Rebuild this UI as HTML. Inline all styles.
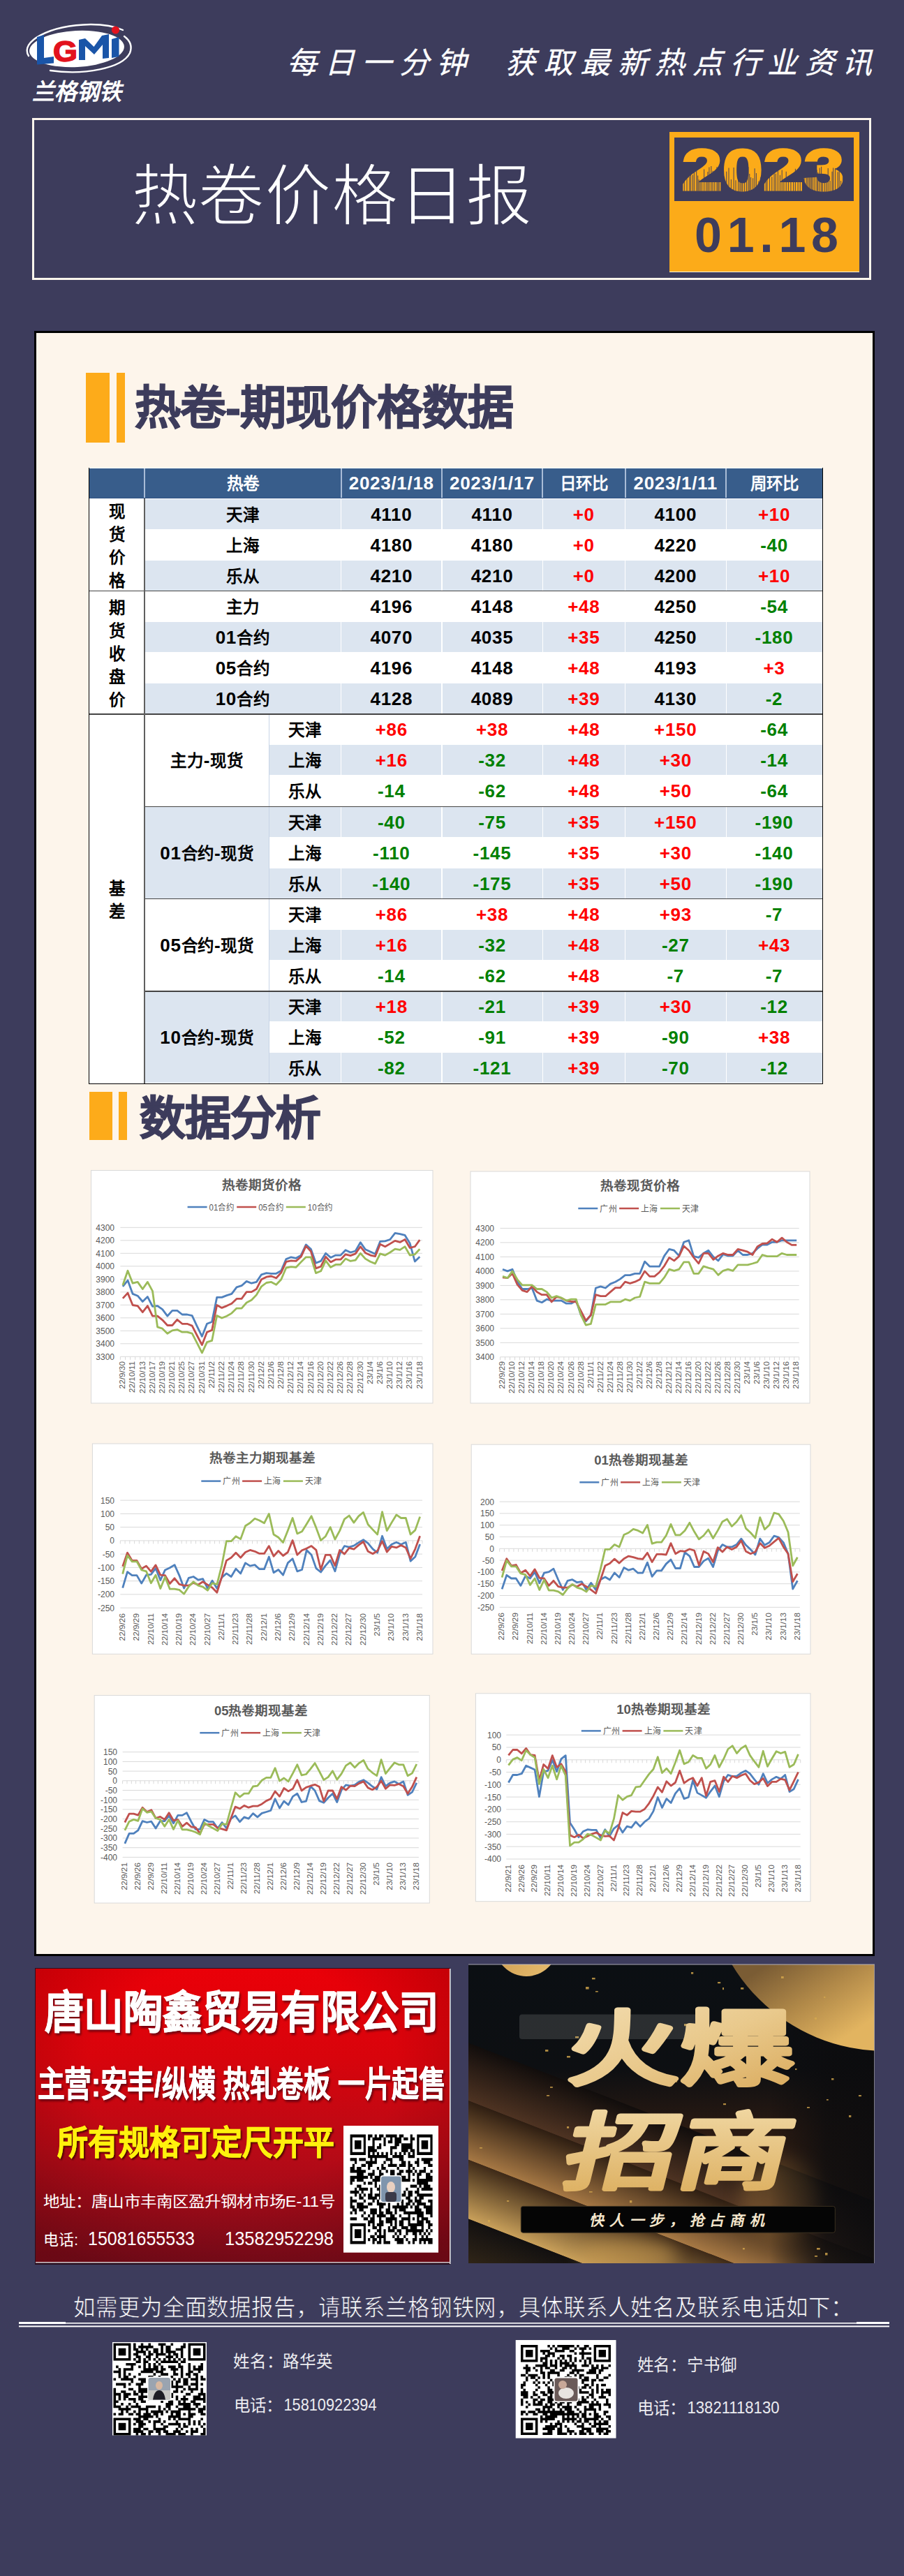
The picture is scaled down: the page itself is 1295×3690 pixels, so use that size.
<!DOCTYPE html>
<html lang="zh-CN"><head><meta charset="utf-8">
<style>
*{margin:0;padding:0;box-sizing:border-box}
html,body{width:1295px;height:3690px;overflow:hidden}
body{background:#3d3c5c;position:relative;font-family:"Liberation Sans",sans-serif;color:#000}
.a{position:absolute}
.serif{font-family:"Liberation Serif",serif}
#titlebox{left:46px;top:169px;width:1202px;height:232px;border:3px solid #fcf5ec}
#title{left:189px;top:218px;font-size:94px;line-height:110px;color:#fff;white-space:nowrap;letter-spacing:0px}
#obox{left:959px;top:189px;width:272px;height:201px;background:#fdaa19;border-bottom:1px solid #fff3dd}
#ibox{left:966px;top:197px;width:257px;height:91px;background:#3d3c5c}
#yr{left:966px;top:197px;width:257px;height:91px;text-align:center;font-weight:bold;font-size:84px;line-height:91px;color:#fdaa19;letter-spacing:2px}
#md{left:959px;top:290px;width:272px;height:96px;text-align:center;font-weight:bold;font-size:70px;line-height:96px;color:#3d3c5c;letter-spacing:8px}
#panel{left:49px;top:474px;width:1204px;height:2328px;background:#fdf5eb;border:3px solid #000}
.bar{background:#fdab1a}
.h{color:#3d3c5c;font-weight:bold;white-space:nowrap;-webkit-text-stroke:1.3px #3d3c5c}
</style></head>
<body>
<!-- logo -->
<svg class="a" style="left:0;top:0" width="1295" height="420" viewBox="0 0 1295 420">
 <defs>
  <pattern id="stripes" patternUnits="userSpaceOnUse" width="23" height="100" x="0" y="0">
   <rect width="23" height="100" fill="#fcab19"/>
   <rect x="1" y="246" width="1" height="40" fill="#3d3c5c"/>
  </pattern>
  <linearGradient id="yrfade" x1="0" y1="0" x2="0" y2="1">
   <stop offset="0" stop-color="#fcab19"/><stop offset="0.45" stop-color="#fcab19"/><stop offset="1" stop-color="#f6b75a"/>
  </linearGradient>
 </defs>
 <!-- LGMI logo -->
 <ellipse cx="110" cy="70" rx="68" ry="26" fill="#fff" transform="rotate(-3 110 70)"/>
 <path d="M41 80 C 28 60, 70 36, 130 35 C 150 35, 165 38, 176 43" fill="none" stroke="#fff" stroke-width="2.4" stroke-linecap="round"/>
 <path d="M72 101 C 120 108, 175 98, 186 76 C 190 66, 186 58, 178 52" fill="none" stroke="#fff" stroke-width="2.4" stroke-linecap="round"/>
 <polygon points="53,53 63,50 63,83 77,81 77,90.5 53,92.5" fill="#1a55a8"/>
 <text x="76" y="87.5" font-family="Liberation Sans" font-weight="bold" font-size="42" fill="#e2121e" stroke="#e2121e" stroke-width="1.5" textLength="35" lengthAdjust="spacingAndGlyphs">G</text>
 <polygon points="113,86 113,57 122,55 134.5,67 146,51 156,49 156,83 147,84 147,64 135,78 122,66 122,86" fill="#1a55a8"/>
 <polygon points="160,56 170.5,53 170.5,81 160,83" fill="#1a55a8"/>
 <circle cx="165.5" cy="43" r="5.6" fill="#e2121e"/>
 <text x="46" y="142.5" font-size="33" fill="#fff" font-weight="bold" textLength="128" lengthAdjust="spacingAndGlyphs" font-style="italic">兰格钢铁</text>
 <!-- title box -->
 <rect x="47.5" y="170.5" width="1199" height="229" fill="none" stroke="#fcf5ec" stroke-width="3"/>
 <text x="187.5" y="313.5" font-size="96" fill="#fff" stroke="#3d3c5c" stroke-width="2.4" paint-order="normal" textLength="575" lengthAdjust="spacingAndGlyphs">热卷价格日报</text>
 <!-- date box -->
 <rect x="959" y="189" width="272" height="201" fill="#fcab19"/>
 <rect x="959" y="389" width="272" height="1" fill="#fff4e0"/>
 <rect x="966" y="197" width="257" height="91" fill="#3d3c5c"/>
 <mask id="yrclip" maskUnits="userSpaceOnUse" x="960" y="190" width="270" height="100"><text x="976.5" y="272" font-family="Liberation Sans" font-weight="bold" font-size="84" fill="#fff" stroke="#fff" stroke-width="3.5" textLength="233" lengthAdjust="spacingAndGlyphs">2023</text></mask>
 <text x="976.5" y="272" font-family="Liberation Sans" font-weight="bold" font-size="84" fill="#fcab19" stroke="#fcab19" stroke-width="3" textLength="233" lengthAdjust="spacingAndGlyphs">2023</text>
 <path mask="url(#yrclip)" d="M977.0 251.7V276M980.3 258.7V276M984.0 238.6V276M987.7 252.3V276M989.5 248.3V276M992.3 250.6V276M994.4 244.1V276M997.7 241.5V276M999.6 251.6V276M1001.2 257.2V276M1003.2 259.6V276M1005.5 259.2V276M1008.6 242.5V276M1011.7 259.3V276M1013.9 245.9V276M1015.9 239.4V276M1018.8 238.1V276M1021.1 244.8V276M1023.8 244.9V276M1026.9 239.3V276M1028.6 254.5V276M1030.2 255.3V276M1033.1 238.2V276M1035.1 259.0V276M1038.4 258.5V276M1040.7 245.8V276M1044.0 240.4V276M1047.4 256.9V276M1051.1 240.0V276M1054.0 258.2V276M1057.6 250.0V276M1059.9 241.9V276M1061.9 253.2V276M1063.8 239.1V276M1066.6 246.9V276M1069.5 256.2V276M1072.0 239.2V276M1073.7 248.9V276M1075.6 254.1V276M1078.6 255.3V276M1081.1 241.3V276M1083.4 248.0V276M1086.9 259.5V276M1089.5 254.0V276M1091.8 246.9V276M1094.2 259.7V276M1097.2 249.0V276M1099.0 244.0V276M1102.5 245.9V276M1105.8 253.3V276M1109.1 246.0V276M1111.3 248.7V276M1114.4 244.5V276M1117.4 250.8V276M1120.2 243.5V276M1122.9 256.0V276M1126.2 245.7V276M1129.4 256.2V276M1132.9 257.1V276M1136.6 259.0V276M1139.4 241.7V276M1143.1 248.5V276M1146.2 254.1V276M1149.6 250.8V276M1152.1 251.7V276M1155.1 253.8V276M1157.0 247.7V276M1159.1 253.1V276M1160.8 248.4V276M1162.5 240.9V276M1164.5 242.3V276M1167.2 246.4V276M1170.1 243.2V276M1171.7 246.9V276M1174.2 240.5V276M1176.6 238.8V276M1178.4 250.0V276M1181.3 259.1V276M1183.8 255.9V276M1186.2 241.1V276M1189.0 259.1V276M1192.0 245.7V276M1193.6 240.4V276M1196.5 241.1V276M1200.1 246.3V276M1202.2 244.4V276M1204.6 259.1V276M1207.5 243.7V276" stroke="#3d3c5c" stroke-width="1.1" opacity="0.85"/>
 <text x="995" y="361" font-family="Liberation Sans" font-weight="bold" font-size="70" fill="#3d3c5c" textLength="206" lengthAdjust="spacing">01.18</text>
</svg>
<div class="a" id="slogan" style="left:411px;top:57px;font-size:43px;line-height:66px;color:#fff;white-space:nowrap;letter-spacing:10.6px;font-style:italic;-webkit-text-stroke:0.3px #fff">每日一分钟&nbsp;&nbsp;获取最新热点行业资讯</div>

<div class="a" id="panel"></div>

<!-- heading 1 -->
<div class="a bar" style="left:123px;top:534px;width:34px;height:100px"></div>
<div class="a bar" style="left:167px;top:534px;width:12px;height:100px"></div>
<div class="a h" style="left:192.5px;top:544px;font-size:66px;line-height:80px;letter-spacing:-0.8px">热卷-期现价格数据</div>

<div class="a" style="left:127.0px;top:670.0px;width:1052.0px;height:1.0px;background:#fff"></div>
<div class="a" style="left:128.0px;top:671.0px;width:1050.0px;height:43.0px;background:#385d8b"></div>
<div class="a" style="left:207.0px;top:671.0px;width:281.6px;height:43.0px;color:#fff;font-weight:bold;font-size:26px;line-height:43px;text-align:center;white-space:nowrap"><span style="font-size:23.5px">热卷</span></div>
<div class="a" style="left:206.0px;top:671.0px;width:2.0px;height:43.0px;background:#a9bcd6"></div>
<div class="a" style="left:488.6px;top:671.0px;width:144.4px;height:43.0px;color:#fff;font-weight:bold;font-size:26px;line-height:43px;text-align:center;white-space:nowrap;letter-spacing:0.7px">2023/1/18</div>
<div class="a" style="left:487.6px;top:671.0px;width:2.0px;height:43.0px;background:#a9bcd6"></div>
<div class="a" style="left:633.0px;top:671.0px;width:144.0px;height:43.0px;color:#fff;font-weight:bold;font-size:26px;line-height:43px;text-align:center;white-space:nowrap;letter-spacing:0.7px">2023/1/17</div>
<div class="a" style="left:632.0px;top:671.0px;width:2.0px;height:43.0px;background:#a9bcd6"></div>
<div class="a" style="left:777.0px;top:671.0px;width:118.5px;height:43.0px;color:#fff;font-weight:bold;font-size:26px;line-height:43px;text-align:center;white-space:nowrap"><span style="font-size:23.5px">日环比</span></div>
<div class="a" style="left:776.0px;top:671.0px;width:2.0px;height:43.0px;background:#a9bcd6"></div>
<div class="a" style="left:895.5px;top:671.0px;width:144.5px;height:43.0px;color:#fff;font-weight:bold;font-size:26px;line-height:43px;text-align:center;white-space:nowrap;letter-spacing:0.7px">2023/1/11</div>
<div class="a" style="left:894.5px;top:671.0px;width:2.0px;height:43.0px;background:#a9bcd6"></div>
<div class="a" style="left:1040.0px;top:671.0px;width:138.0px;height:43.0px;color:#fff;font-weight:bold;font-size:26px;line-height:43px;text-align:center;white-space:nowrap"><span style="font-size:23.5px">周环比</span></div>
<div class="a" style="left:1039.0px;top:671.0px;width:2.0px;height:43.0px;background:#a9bcd6"></div>
<div class="a" style="left:128.0px;top:713.0px;width:1050.0px;height:1.0px;background:#2f5283"></div>
<div class="a" style="left:128.0px;top:714.0px;width:1050.0px;height:838.0px;background:#fff"></div>
<div class="a" style="left:207.0px;top:714.5px;width:281.1px;height:43.1px;background:#dce5f0;color:#000;font-weight:bold;font-size:26px;text-align:center;white-space:nowrap;line-height:44.1px;letter-spacing:0.7px"><span style="font-size:23.5px">天津</span></div>
<div class="a" style="left:489.1px;top:714.5px;width:143.4px;height:43.1px;background:#dce5f0;color:#000;font-weight:bold;font-size:26px;text-align:center;white-space:nowrap;line-height:44.1px;letter-spacing:0.7px">4110</div>
<div class="a" style="left:633.5px;top:714.5px;width:143.0px;height:43.1px;background:#dce5f0;color:#000;font-weight:bold;font-size:26px;text-align:center;white-space:nowrap;line-height:44.1px;letter-spacing:0.7px">4110</div>
<div class="a" style="left:777.5px;top:714.5px;width:117.5px;height:43.1px;background:#dce5f0;color:#ff0000;font-weight:bold;font-size:26px;text-align:center;white-space:nowrap;line-height:44.1px;letter-spacing:0.7px">+0</div>
<div class="a" style="left:896.0px;top:714.5px;width:143.5px;height:43.1px;background:#dce5f0;color:#000;font-weight:bold;font-size:26px;text-align:center;white-space:nowrap;line-height:44.1px;letter-spacing:0.7px">4100</div>
<div class="a" style="left:1040.5px;top:714.5px;width:137.0px;height:43.1px;background:#dce5f0;color:#ff0000;font-weight:bold;font-size:26px;text-align:center;white-space:nowrap;line-height:44.1px;letter-spacing:0.7px">+10</div>
<div class="a" style="left:207.0px;top:758.6px;width:281.1px;height:43.1px;background:#fff;color:#000;font-weight:bold;font-size:26px;text-align:center;white-space:nowrap;line-height:44.1px;letter-spacing:0.7px"><span style="font-size:23.5px">上海</span></div>
<div class="a" style="left:489.1px;top:758.6px;width:143.4px;height:43.1px;background:#fff;color:#000;font-weight:bold;font-size:26px;text-align:center;white-space:nowrap;line-height:44.1px;letter-spacing:0.7px">4180</div>
<div class="a" style="left:633.5px;top:758.6px;width:143.0px;height:43.1px;background:#fff;color:#000;font-weight:bold;font-size:26px;text-align:center;white-space:nowrap;line-height:44.1px;letter-spacing:0.7px">4180</div>
<div class="a" style="left:777.5px;top:758.6px;width:117.5px;height:43.1px;background:#fff;color:#ff0000;font-weight:bold;font-size:26px;text-align:center;white-space:nowrap;line-height:44.1px;letter-spacing:0.7px">+0</div>
<div class="a" style="left:896.0px;top:758.6px;width:143.5px;height:43.1px;background:#fff;color:#000;font-weight:bold;font-size:26px;text-align:center;white-space:nowrap;line-height:44.1px;letter-spacing:0.7px">4220</div>
<div class="a" style="left:1040.5px;top:758.6px;width:137.0px;height:43.1px;background:#fff;color:#008000;font-weight:bold;font-size:26px;text-align:center;white-space:nowrap;line-height:44.1px;letter-spacing:0.7px">-40</div>
<div class="a" style="left:207.0px;top:802.7px;width:281.1px;height:43.1px;background:#dce5f0;color:#000;font-weight:bold;font-size:26px;text-align:center;white-space:nowrap;line-height:44.1px;letter-spacing:0.7px"><span style="font-size:23.5px">乐从</span></div>
<div class="a" style="left:489.1px;top:802.7px;width:143.4px;height:43.1px;background:#dce5f0;color:#000;font-weight:bold;font-size:26px;text-align:center;white-space:nowrap;line-height:44.1px;letter-spacing:0.7px">4210</div>
<div class="a" style="left:633.5px;top:802.7px;width:143.0px;height:43.1px;background:#dce5f0;color:#000;font-weight:bold;font-size:26px;text-align:center;white-space:nowrap;line-height:44.1px;letter-spacing:0.7px">4210</div>
<div class="a" style="left:777.5px;top:802.7px;width:117.5px;height:43.1px;background:#dce5f0;color:#ff0000;font-weight:bold;font-size:26px;text-align:center;white-space:nowrap;line-height:44.1px;letter-spacing:0.7px">+0</div>
<div class="a" style="left:896.0px;top:802.7px;width:143.5px;height:43.1px;background:#dce5f0;color:#000;font-weight:bold;font-size:26px;text-align:center;white-space:nowrap;line-height:44.1px;letter-spacing:0.7px">4200</div>
<div class="a" style="left:1040.5px;top:802.7px;width:137.0px;height:43.1px;background:#dce5f0;color:#ff0000;font-weight:bold;font-size:26px;text-align:center;white-space:nowrap;line-height:44.1px;letter-spacing:0.7px">+10</div>
<div class="a" style="left:207.0px;top:846.8px;width:281.1px;height:43.1px;background:#fff;color:#000;font-weight:bold;font-size:26px;text-align:center;white-space:nowrap;line-height:44.1px;letter-spacing:0.7px"><span style="font-size:23.5px">主力</span></div>
<div class="a" style="left:489.1px;top:846.8px;width:143.4px;height:43.1px;background:#fff;color:#000;font-weight:bold;font-size:26px;text-align:center;white-space:nowrap;line-height:44.1px;letter-spacing:0.7px">4196</div>
<div class="a" style="left:633.5px;top:846.8px;width:143.0px;height:43.1px;background:#fff;color:#000;font-weight:bold;font-size:26px;text-align:center;white-space:nowrap;line-height:44.1px;letter-spacing:0.7px">4148</div>
<div class="a" style="left:777.5px;top:846.8px;width:117.5px;height:43.1px;background:#fff;color:#ff0000;font-weight:bold;font-size:26px;text-align:center;white-space:nowrap;line-height:44.1px;letter-spacing:0.7px">+48</div>
<div class="a" style="left:896.0px;top:846.8px;width:143.5px;height:43.1px;background:#fff;color:#000;font-weight:bold;font-size:26px;text-align:center;white-space:nowrap;line-height:44.1px;letter-spacing:0.7px">4250</div>
<div class="a" style="left:1040.5px;top:846.8px;width:137.0px;height:43.1px;background:#fff;color:#008000;font-weight:bold;font-size:26px;text-align:center;white-space:nowrap;line-height:44.1px;letter-spacing:0.7px">-54</div>
<div class="a" style="left:207.0px;top:890.9px;width:281.1px;height:43.1px;background:#dce5f0;color:#000;font-weight:bold;font-size:26px;text-align:center;white-space:nowrap;line-height:44.1px;letter-spacing:0.7px">01<span style="font-size:23.5px">合约</span></div>
<div class="a" style="left:489.1px;top:890.9px;width:143.4px;height:43.1px;background:#dce5f0;color:#000;font-weight:bold;font-size:26px;text-align:center;white-space:nowrap;line-height:44.1px;letter-spacing:0.7px">4070</div>
<div class="a" style="left:633.5px;top:890.9px;width:143.0px;height:43.1px;background:#dce5f0;color:#000;font-weight:bold;font-size:26px;text-align:center;white-space:nowrap;line-height:44.1px;letter-spacing:0.7px">4035</div>
<div class="a" style="left:777.5px;top:890.9px;width:117.5px;height:43.1px;background:#dce5f0;color:#ff0000;font-weight:bold;font-size:26px;text-align:center;white-space:nowrap;line-height:44.1px;letter-spacing:0.7px">+35</div>
<div class="a" style="left:896.0px;top:890.9px;width:143.5px;height:43.1px;background:#dce5f0;color:#000;font-weight:bold;font-size:26px;text-align:center;white-space:nowrap;line-height:44.1px;letter-spacing:0.7px">4250</div>
<div class="a" style="left:1040.5px;top:890.9px;width:137.0px;height:43.1px;background:#dce5f0;color:#008000;font-weight:bold;font-size:26px;text-align:center;white-space:nowrap;line-height:44.1px;letter-spacing:0.7px">-180</div>
<div class="a" style="left:207.0px;top:935.0px;width:281.1px;height:43.1px;background:#fff;color:#000;font-weight:bold;font-size:26px;text-align:center;white-space:nowrap;line-height:44.1px;letter-spacing:0.7px">05<span style="font-size:23.5px">合约</span></div>
<div class="a" style="left:489.1px;top:935.0px;width:143.4px;height:43.1px;background:#fff;color:#000;font-weight:bold;font-size:26px;text-align:center;white-space:nowrap;line-height:44.1px;letter-spacing:0.7px">4196</div>
<div class="a" style="left:633.5px;top:935.0px;width:143.0px;height:43.1px;background:#fff;color:#000;font-weight:bold;font-size:26px;text-align:center;white-space:nowrap;line-height:44.1px;letter-spacing:0.7px">4148</div>
<div class="a" style="left:777.5px;top:935.0px;width:117.5px;height:43.1px;background:#fff;color:#ff0000;font-weight:bold;font-size:26px;text-align:center;white-space:nowrap;line-height:44.1px;letter-spacing:0.7px">+48</div>
<div class="a" style="left:896.0px;top:935.0px;width:143.5px;height:43.1px;background:#fff;color:#000;font-weight:bold;font-size:26px;text-align:center;white-space:nowrap;line-height:44.1px;letter-spacing:0.7px">4193</div>
<div class="a" style="left:1040.5px;top:935.0px;width:137.0px;height:43.1px;background:#fff;color:#ff0000;font-weight:bold;font-size:26px;text-align:center;white-space:nowrap;line-height:44.1px;letter-spacing:0.7px">+3</div>
<div class="a" style="left:207.0px;top:979.1px;width:281.1px;height:43.1px;background:#dce5f0;color:#000;font-weight:bold;font-size:26px;text-align:center;white-space:nowrap;line-height:44.1px;letter-spacing:0.7px">10<span style="font-size:23.5px">合约</span></div>
<div class="a" style="left:489.1px;top:979.1px;width:143.4px;height:43.1px;background:#dce5f0;color:#000;font-weight:bold;font-size:26px;text-align:center;white-space:nowrap;line-height:44.1px;letter-spacing:0.7px">4128</div>
<div class="a" style="left:633.5px;top:979.1px;width:143.0px;height:43.1px;background:#dce5f0;color:#000;font-weight:bold;font-size:26px;text-align:center;white-space:nowrap;line-height:44.1px;letter-spacing:0.7px">4089</div>
<div class="a" style="left:777.5px;top:979.1px;width:117.5px;height:43.1px;background:#dce5f0;color:#ff0000;font-weight:bold;font-size:26px;text-align:center;white-space:nowrap;line-height:44.1px;letter-spacing:0.7px">+39</div>
<div class="a" style="left:896.0px;top:979.1px;width:143.5px;height:43.1px;background:#dce5f0;color:#000;font-weight:bold;font-size:26px;text-align:center;white-space:nowrap;line-height:44.1px;letter-spacing:0.7px">4130</div>
<div class="a" style="left:1040.5px;top:979.1px;width:137.0px;height:43.1px;background:#dce5f0;color:#008000;font-weight:bold;font-size:26px;text-align:center;white-space:nowrap;line-height:44.1px;letter-spacing:0.7px">-2</div>
<div class="a" style="left:386.0px;top:1023.2px;width:102.1px;height:43.1px;background:#fff;color:#000;font-weight:bold;font-size:26px;text-align:center;white-space:nowrap;line-height:44.1px;letter-spacing:0.7px"><span style="font-size:23.5px">天津</span></div>
<div class="a" style="left:489.1px;top:1023.2px;width:143.4px;height:43.1px;background:#fff;color:#ff0000;font-weight:bold;font-size:26px;text-align:center;white-space:nowrap;line-height:44.1px;letter-spacing:0.7px">+86</div>
<div class="a" style="left:633.5px;top:1023.2px;width:143.0px;height:43.1px;background:#fff;color:#ff0000;font-weight:bold;font-size:26px;text-align:center;white-space:nowrap;line-height:44.1px;letter-spacing:0.7px">+38</div>
<div class="a" style="left:777.5px;top:1023.2px;width:117.5px;height:43.1px;background:#fff;color:#ff0000;font-weight:bold;font-size:26px;text-align:center;white-space:nowrap;line-height:44.1px;letter-spacing:0.7px">+48</div>
<div class="a" style="left:896.0px;top:1023.2px;width:143.5px;height:43.1px;background:#fff;color:#ff0000;font-weight:bold;font-size:26px;text-align:center;white-space:nowrap;line-height:44.1px;letter-spacing:0.7px">+150</div>
<div class="a" style="left:1040.5px;top:1023.2px;width:137.0px;height:43.1px;background:#fff;color:#008000;font-weight:bold;font-size:26px;text-align:center;white-space:nowrap;line-height:44.1px;letter-spacing:0.7px">-64</div>
<div class="a" style="left:386.0px;top:1067.3px;width:102.1px;height:43.1px;background:#dce5f0;color:#000;font-weight:bold;font-size:26px;text-align:center;white-space:nowrap;line-height:44.1px;letter-spacing:0.7px"><span style="font-size:23.5px">上海</span></div>
<div class="a" style="left:489.1px;top:1067.3px;width:143.4px;height:43.1px;background:#dce5f0;color:#ff0000;font-weight:bold;font-size:26px;text-align:center;white-space:nowrap;line-height:44.1px;letter-spacing:0.7px">+16</div>
<div class="a" style="left:633.5px;top:1067.3px;width:143.0px;height:43.1px;background:#dce5f0;color:#008000;font-weight:bold;font-size:26px;text-align:center;white-space:nowrap;line-height:44.1px;letter-spacing:0.7px">-32</div>
<div class="a" style="left:777.5px;top:1067.3px;width:117.5px;height:43.1px;background:#dce5f0;color:#ff0000;font-weight:bold;font-size:26px;text-align:center;white-space:nowrap;line-height:44.1px;letter-spacing:0.7px">+48</div>
<div class="a" style="left:896.0px;top:1067.3px;width:143.5px;height:43.1px;background:#dce5f0;color:#ff0000;font-weight:bold;font-size:26px;text-align:center;white-space:nowrap;line-height:44.1px;letter-spacing:0.7px">+30</div>
<div class="a" style="left:1040.5px;top:1067.3px;width:137.0px;height:43.1px;background:#dce5f0;color:#008000;font-weight:bold;font-size:26px;text-align:center;white-space:nowrap;line-height:44.1px;letter-spacing:0.7px">-14</div>
<div class="a" style="left:386.0px;top:1111.4px;width:102.1px;height:43.1px;background:#fff;color:#000;font-weight:bold;font-size:26px;text-align:center;white-space:nowrap;line-height:44.1px;letter-spacing:0.7px"><span style="font-size:23.5px">乐从</span></div>
<div class="a" style="left:489.1px;top:1111.4px;width:143.4px;height:43.1px;background:#fff;color:#008000;font-weight:bold;font-size:26px;text-align:center;white-space:nowrap;line-height:44.1px;letter-spacing:0.7px">-14</div>
<div class="a" style="left:633.5px;top:1111.4px;width:143.0px;height:43.1px;background:#fff;color:#008000;font-weight:bold;font-size:26px;text-align:center;white-space:nowrap;line-height:44.1px;letter-spacing:0.7px">-62</div>
<div class="a" style="left:777.5px;top:1111.4px;width:117.5px;height:43.1px;background:#fff;color:#ff0000;font-weight:bold;font-size:26px;text-align:center;white-space:nowrap;line-height:44.1px;letter-spacing:0.7px">+48</div>
<div class="a" style="left:896.0px;top:1111.4px;width:143.5px;height:43.1px;background:#fff;color:#ff0000;font-weight:bold;font-size:26px;text-align:center;white-space:nowrap;line-height:44.1px;letter-spacing:0.7px">+50</div>
<div class="a" style="left:1040.5px;top:1111.4px;width:137.0px;height:43.1px;background:#fff;color:#008000;font-weight:bold;font-size:26px;text-align:center;white-space:nowrap;line-height:44.1px;letter-spacing:0.7px">-64</div>
<div class="a" style="left:207.5px;top:1023.2px;width:178.0px;height:131.3px;background:#fff;color:#000;font-weight:bold;font-size:26px;text-align:center;white-space:nowrap;line-height:132.3px;letter-spacing:0.7px"><span style="font-size:23.5px">主力</span>-<span style="font-size:23.5px">现货</span></div>
<div class="a" style="left:385.0px;top:1022.7px;width:1.0px;height:132.3px;background:#c8d4e6"></div>
<div class="a" style="left:386.0px;top:1155.5px;width:102.1px;height:43.1px;background:#dce5f0;color:#000;font-weight:bold;font-size:26px;text-align:center;white-space:nowrap;line-height:44.1px;letter-spacing:0.7px"><span style="font-size:23.5px">天津</span></div>
<div class="a" style="left:489.1px;top:1155.5px;width:143.4px;height:43.1px;background:#dce5f0;color:#008000;font-weight:bold;font-size:26px;text-align:center;white-space:nowrap;line-height:44.1px;letter-spacing:0.7px">-40</div>
<div class="a" style="left:633.5px;top:1155.5px;width:143.0px;height:43.1px;background:#dce5f0;color:#008000;font-weight:bold;font-size:26px;text-align:center;white-space:nowrap;line-height:44.1px;letter-spacing:0.7px">-75</div>
<div class="a" style="left:777.5px;top:1155.5px;width:117.5px;height:43.1px;background:#dce5f0;color:#ff0000;font-weight:bold;font-size:26px;text-align:center;white-space:nowrap;line-height:44.1px;letter-spacing:0.7px">+35</div>
<div class="a" style="left:896.0px;top:1155.5px;width:143.5px;height:43.1px;background:#dce5f0;color:#ff0000;font-weight:bold;font-size:26px;text-align:center;white-space:nowrap;line-height:44.1px;letter-spacing:0.7px">+150</div>
<div class="a" style="left:1040.5px;top:1155.5px;width:137.0px;height:43.1px;background:#dce5f0;color:#008000;font-weight:bold;font-size:26px;text-align:center;white-space:nowrap;line-height:44.1px;letter-spacing:0.7px">-190</div>
<div class="a" style="left:386.0px;top:1199.6px;width:102.1px;height:43.1px;background:#fff;color:#000;font-weight:bold;font-size:26px;text-align:center;white-space:nowrap;line-height:44.1px;letter-spacing:0.7px"><span style="font-size:23.5px">上海</span></div>
<div class="a" style="left:489.1px;top:1199.6px;width:143.4px;height:43.1px;background:#fff;color:#008000;font-weight:bold;font-size:26px;text-align:center;white-space:nowrap;line-height:44.1px;letter-spacing:0.7px">-110</div>
<div class="a" style="left:633.5px;top:1199.6px;width:143.0px;height:43.1px;background:#fff;color:#008000;font-weight:bold;font-size:26px;text-align:center;white-space:nowrap;line-height:44.1px;letter-spacing:0.7px">-145</div>
<div class="a" style="left:777.5px;top:1199.6px;width:117.5px;height:43.1px;background:#fff;color:#ff0000;font-weight:bold;font-size:26px;text-align:center;white-space:nowrap;line-height:44.1px;letter-spacing:0.7px">+35</div>
<div class="a" style="left:896.0px;top:1199.6px;width:143.5px;height:43.1px;background:#fff;color:#ff0000;font-weight:bold;font-size:26px;text-align:center;white-space:nowrap;line-height:44.1px;letter-spacing:0.7px">+30</div>
<div class="a" style="left:1040.5px;top:1199.6px;width:137.0px;height:43.1px;background:#fff;color:#008000;font-weight:bold;font-size:26px;text-align:center;white-space:nowrap;line-height:44.1px;letter-spacing:0.7px">-140</div>
<div class="a" style="left:386.0px;top:1243.7px;width:102.1px;height:43.1px;background:#dce5f0;color:#000;font-weight:bold;font-size:26px;text-align:center;white-space:nowrap;line-height:44.1px;letter-spacing:0.7px"><span style="font-size:23.5px">乐从</span></div>
<div class="a" style="left:489.1px;top:1243.7px;width:143.4px;height:43.1px;background:#dce5f0;color:#008000;font-weight:bold;font-size:26px;text-align:center;white-space:nowrap;line-height:44.1px;letter-spacing:0.7px">-140</div>
<div class="a" style="left:633.5px;top:1243.7px;width:143.0px;height:43.1px;background:#dce5f0;color:#008000;font-weight:bold;font-size:26px;text-align:center;white-space:nowrap;line-height:44.1px;letter-spacing:0.7px">-175</div>
<div class="a" style="left:777.5px;top:1243.7px;width:117.5px;height:43.1px;background:#dce5f0;color:#ff0000;font-weight:bold;font-size:26px;text-align:center;white-space:nowrap;line-height:44.1px;letter-spacing:0.7px">+35</div>
<div class="a" style="left:896.0px;top:1243.7px;width:143.5px;height:43.1px;background:#dce5f0;color:#ff0000;font-weight:bold;font-size:26px;text-align:center;white-space:nowrap;line-height:44.1px;letter-spacing:0.7px">+50</div>
<div class="a" style="left:1040.5px;top:1243.7px;width:137.0px;height:43.1px;background:#dce5f0;color:#008000;font-weight:bold;font-size:26px;text-align:center;white-space:nowrap;line-height:44.1px;letter-spacing:0.7px">-190</div>
<div class="a" style="left:207.5px;top:1155.5px;width:178.0px;height:131.3px;background:#dce5f0;color:#000;font-weight:bold;font-size:26px;text-align:center;white-space:nowrap;line-height:132.3px;letter-spacing:0.7px">01<span style="font-size:23.5px">合约</span>-<span style="font-size:23.5px">现货</span></div>
<div class="a" style="left:385.0px;top:1155.0px;width:1.0px;height:132.3px;background:#c8d4e6"></div>
<div class="a" style="left:386.0px;top:1287.8px;width:102.1px;height:43.1px;background:#fff;color:#000;font-weight:bold;font-size:26px;text-align:center;white-space:nowrap;line-height:44.1px;letter-spacing:0.7px"><span style="font-size:23.5px">天津</span></div>
<div class="a" style="left:489.1px;top:1287.8px;width:143.4px;height:43.1px;background:#fff;color:#ff0000;font-weight:bold;font-size:26px;text-align:center;white-space:nowrap;line-height:44.1px;letter-spacing:0.7px">+86</div>
<div class="a" style="left:633.5px;top:1287.8px;width:143.0px;height:43.1px;background:#fff;color:#ff0000;font-weight:bold;font-size:26px;text-align:center;white-space:nowrap;line-height:44.1px;letter-spacing:0.7px">+38</div>
<div class="a" style="left:777.5px;top:1287.8px;width:117.5px;height:43.1px;background:#fff;color:#ff0000;font-weight:bold;font-size:26px;text-align:center;white-space:nowrap;line-height:44.1px;letter-spacing:0.7px">+48</div>
<div class="a" style="left:896.0px;top:1287.8px;width:143.5px;height:43.1px;background:#fff;color:#ff0000;font-weight:bold;font-size:26px;text-align:center;white-space:nowrap;line-height:44.1px;letter-spacing:0.7px">+93</div>
<div class="a" style="left:1040.5px;top:1287.8px;width:137.0px;height:43.1px;background:#fff;color:#008000;font-weight:bold;font-size:26px;text-align:center;white-space:nowrap;line-height:44.1px;letter-spacing:0.7px">-7</div>
<div class="a" style="left:386.0px;top:1331.9px;width:102.1px;height:43.1px;background:#dce5f0;color:#000;font-weight:bold;font-size:26px;text-align:center;white-space:nowrap;line-height:44.1px;letter-spacing:0.7px"><span style="font-size:23.5px">上海</span></div>
<div class="a" style="left:489.1px;top:1331.9px;width:143.4px;height:43.1px;background:#dce5f0;color:#ff0000;font-weight:bold;font-size:26px;text-align:center;white-space:nowrap;line-height:44.1px;letter-spacing:0.7px">+16</div>
<div class="a" style="left:633.5px;top:1331.9px;width:143.0px;height:43.1px;background:#dce5f0;color:#008000;font-weight:bold;font-size:26px;text-align:center;white-space:nowrap;line-height:44.1px;letter-spacing:0.7px">-32</div>
<div class="a" style="left:777.5px;top:1331.9px;width:117.5px;height:43.1px;background:#dce5f0;color:#ff0000;font-weight:bold;font-size:26px;text-align:center;white-space:nowrap;line-height:44.1px;letter-spacing:0.7px">+48</div>
<div class="a" style="left:896.0px;top:1331.9px;width:143.5px;height:43.1px;background:#dce5f0;color:#008000;font-weight:bold;font-size:26px;text-align:center;white-space:nowrap;line-height:44.1px;letter-spacing:0.7px">-27</div>
<div class="a" style="left:1040.5px;top:1331.9px;width:137.0px;height:43.1px;background:#dce5f0;color:#ff0000;font-weight:bold;font-size:26px;text-align:center;white-space:nowrap;line-height:44.1px;letter-spacing:0.7px">+43</div>
<div class="a" style="left:386.0px;top:1376.0px;width:102.1px;height:43.1px;background:#fff;color:#000;font-weight:bold;font-size:26px;text-align:center;white-space:nowrap;line-height:44.1px;letter-spacing:0.7px"><span style="font-size:23.5px">乐从</span></div>
<div class="a" style="left:489.1px;top:1376.0px;width:143.4px;height:43.1px;background:#fff;color:#008000;font-weight:bold;font-size:26px;text-align:center;white-space:nowrap;line-height:44.1px;letter-spacing:0.7px">-14</div>
<div class="a" style="left:633.5px;top:1376.0px;width:143.0px;height:43.1px;background:#fff;color:#008000;font-weight:bold;font-size:26px;text-align:center;white-space:nowrap;line-height:44.1px;letter-spacing:0.7px">-62</div>
<div class="a" style="left:777.5px;top:1376.0px;width:117.5px;height:43.1px;background:#fff;color:#ff0000;font-weight:bold;font-size:26px;text-align:center;white-space:nowrap;line-height:44.1px;letter-spacing:0.7px">+48</div>
<div class="a" style="left:896.0px;top:1376.0px;width:143.5px;height:43.1px;background:#fff;color:#008000;font-weight:bold;font-size:26px;text-align:center;white-space:nowrap;line-height:44.1px;letter-spacing:0.7px">-7</div>
<div class="a" style="left:1040.5px;top:1376.0px;width:137.0px;height:43.1px;background:#fff;color:#008000;font-weight:bold;font-size:26px;text-align:center;white-space:nowrap;line-height:44.1px;letter-spacing:0.7px">-7</div>
<div class="a" style="left:207.5px;top:1287.8px;width:178.0px;height:131.3px;background:#fff;color:#000;font-weight:bold;font-size:26px;text-align:center;white-space:nowrap;line-height:132.3px;letter-spacing:0.7px">05<span style="font-size:23.5px">合约</span>-<span style="font-size:23.5px">现货</span></div>
<div class="a" style="left:385.0px;top:1287.3px;width:1.0px;height:132.3px;background:#c8d4e6"></div>
<div class="a" style="left:386.0px;top:1420.1px;width:102.1px;height:43.1px;background:#dce5f0;color:#000;font-weight:bold;font-size:26px;text-align:center;white-space:nowrap;line-height:44.1px;letter-spacing:0.7px"><span style="font-size:23.5px">天津</span></div>
<div class="a" style="left:489.1px;top:1420.1px;width:143.4px;height:43.1px;background:#dce5f0;color:#ff0000;font-weight:bold;font-size:26px;text-align:center;white-space:nowrap;line-height:44.1px;letter-spacing:0.7px">+18</div>
<div class="a" style="left:633.5px;top:1420.1px;width:143.0px;height:43.1px;background:#dce5f0;color:#008000;font-weight:bold;font-size:26px;text-align:center;white-space:nowrap;line-height:44.1px;letter-spacing:0.7px">-21</div>
<div class="a" style="left:777.5px;top:1420.1px;width:117.5px;height:43.1px;background:#dce5f0;color:#ff0000;font-weight:bold;font-size:26px;text-align:center;white-space:nowrap;line-height:44.1px;letter-spacing:0.7px">+39</div>
<div class="a" style="left:896.0px;top:1420.1px;width:143.5px;height:43.1px;background:#dce5f0;color:#ff0000;font-weight:bold;font-size:26px;text-align:center;white-space:nowrap;line-height:44.1px;letter-spacing:0.7px">+30</div>
<div class="a" style="left:1040.5px;top:1420.1px;width:137.0px;height:43.1px;background:#dce5f0;color:#008000;font-weight:bold;font-size:26px;text-align:center;white-space:nowrap;line-height:44.1px;letter-spacing:0.7px">-12</div>
<div class="a" style="left:386.0px;top:1464.2px;width:102.1px;height:43.1px;background:#fff;color:#000;font-weight:bold;font-size:26px;text-align:center;white-space:nowrap;line-height:44.1px;letter-spacing:0.7px"><span style="font-size:23.5px">上海</span></div>
<div class="a" style="left:489.1px;top:1464.2px;width:143.4px;height:43.1px;background:#fff;color:#008000;font-weight:bold;font-size:26px;text-align:center;white-space:nowrap;line-height:44.1px;letter-spacing:0.7px">-52</div>
<div class="a" style="left:633.5px;top:1464.2px;width:143.0px;height:43.1px;background:#fff;color:#008000;font-weight:bold;font-size:26px;text-align:center;white-space:nowrap;line-height:44.1px;letter-spacing:0.7px">-91</div>
<div class="a" style="left:777.5px;top:1464.2px;width:117.5px;height:43.1px;background:#fff;color:#ff0000;font-weight:bold;font-size:26px;text-align:center;white-space:nowrap;line-height:44.1px;letter-spacing:0.7px">+39</div>
<div class="a" style="left:896.0px;top:1464.2px;width:143.5px;height:43.1px;background:#fff;color:#008000;font-weight:bold;font-size:26px;text-align:center;white-space:nowrap;line-height:44.1px;letter-spacing:0.7px">-90</div>
<div class="a" style="left:1040.5px;top:1464.2px;width:137.0px;height:43.1px;background:#fff;color:#ff0000;font-weight:bold;font-size:26px;text-align:center;white-space:nowrap;line-height:44.1px;letter-spacing:0.7px">+38</div>
<div class="a" style="left:386.0px;top:1508.3px;width:102.1px;height:43.1px;background:#dce5f0;color:#000;font-weight:bold;font-size:26px;text-align:center;white-space:nowrap;line-height:44.1px;letter-spacing:0.7px"><span style="font-size:23.5px">乐从</span></div>
<div class="a" style="left:489.1px;top:1508.3px;width:143.4px;height:43.1px;background:#dce5f0;color:#008000;font-weight:bold;font-size:26px;text-align:center;white-space:nowrap;line-height:44.1px;letter-spacing:0.7px">-82</div>
<div class="a" style="left:633.5px;top:1508.3px;width:143.0px;height:43.1px;background:#dce5f0;color:#008000;font-weight:bold;font-size:26px;text-align:center;white-space:nowrap;line-height:44.1px;letter-spacing:0.7px">-121</div>
<div class="a" style="left:777.5px;top:1508.3px;width:117.5px;height:43.1px;background:#dce5f0;color:#ff0000;font-weight:bold;font-size:26px;text-align:center;white-space:nowrap;line-height:44.1px;letter-spacing:0.7px">+39</div>
<div class="a" style="left:896.0px;top:1508.3px;width:143.5px;height:43.1px;background:#dce5f0;color:#008000;font-weight:bold;font-size:26px;text-align:center;white-space:nowrap;line-height:44.1px;letter-spacing:0.7px">-70</div>
<div class="a" style="left:1040.5px;top:1508.3px;width:137.0px;height:43.1px;background:#dce5f0;color:#008000;font-weight:bold;font-size:26px;text-align:center;white-space:nowrap;line-height:44.1px;letter-spacing:0.7px">-12</div>
<div class="a" style="left:207.5px;top:1420.1px;width:178.0px;height:131.3px;background:#dce5f0;color:#000;font-weight:bold;font-size:26px;text-align:center;white-space:nowrap;line-height:132.3px;letter-spacing:0.7px">10<span style="font-size:23.5px">合约</span>-<span style="font-size:23.5px">现货</span></div>
<div class="a" style="left:385.0px;top:1419.6px;width:1.0px;height:132.3px;background:#c8d4e6"></div>
<div class="a" style="left:127.0px;top:717.1px;width:80.0px;height:132.0px;color:#000;font-weight:bold;font-size:23.5px;line-height:33px;text-align:center">现<br>货<br>价<br>格</div>
<div class="a" style="left:127.0px;top:855.0px;width:80.0px;height:165.0px;color:#000;font-weight:bold;font-size:23.5px;line-height:33px;text-align:center">期<br>货<br>收<br>盘<br>价</div>
<div class="a" style="left:127.0px;top:1257.3px;width:80.0px;height:66.0px;color:#000;font-weight:bold;font-size:23.5px;line-height:33px;text-align:center">基<br>差</div>
<div class="a" style="left:127.0px;top:845.8px;width:1052.0px;height:1.5px;background:#444"></div>
<div class="a" style="left:127.0px;top:1022.2px;width:1052.0px;height:1.5px;background:#444"></div>
<div class="a" style="left:207.0px;top:1154.5px;width:972.0px;height:1.5px;background:#444"></div>
<div class="a" style="left:207.0px;top:1286.8px;width:972.0px;height:1.5px;background:#444"></div>
<div class="a" style="left:207.0px;top:1419.1px;width:972.0px;height:1.5px;background:#444"></div>
<div class="a" style="left:206.0px;top:714.0px;width:1.5px;height:838.0px;background:#5f5f5f"></div>
<div class="a" style="left:127.0px;top:670.0px;width:1.0px;height:883.0px;background:#000"></div>
<div class="a" style="left:1178.0px;top:670.0px;width:1.0px;height:883.0px;background:#000"></div>
<div class="a" style="left:127.0px;top:1552.0px;width:1052.0px;height:1.0px;background:#000"></div>

<!-- heading 2 -->
<div class="a bar" style="left:128px;top:1564px;width:33px;height:69px"></div>
<div class="a bar" style="left:170px;top:1564px;width:12px;height:69px"></div>
<div class="a h" style="left:200px;top:1561.5px;font-size:66px;line-height:80px;letter-spacing:-1.2px">数据分析</div>

<svg class="a" style="left:0;top:0" width="1295" height="3690" viewBox="0 0 1295 3690" font-family="Liberation Sans, sans-serif">
<rect x="130.5" y="1676.5" width="489.5" height="333.5" fill="#fff" stroke="#d9d9d9" stroke-width="1"/>
<text x="164" y="1947.7" text-anchor="end" font-size="12" fill="#595959">3300</text>
<line x1="172.4" x2="604.9" y1="1924.8" y2="1924.8" stroke="#d9d9d9" stroke-width="1"/>
<text x="164" y="1929.2" text-anchor="end" font-size="12" fill="#595959">3400</text>
<line x1="172.4" x2="604.9" y1="1906.3" y2="1906.3" stroke="#d9d9d9" stroke-width="1"/>
<text x="164" y="1910.7" text-anchor="end" font-size="12" fill="#595959">3500</text>
<line x1="172.4" x2="604.9" y1="1887.8" y2="1887.8" stroke="#d9d9d9" stroke-width="1"/>
<text x="164" y="1892.2" text-anchor="end" font-size="12" fill="#595959">3600</text>
<line x1="172.4" x2="604.9" y1="1869.3" y2="1869.3" stroke="#d9d9d9" stroke-width="1"/>
<text x="164" y="1873.7" text-anchor="end" font-size="12" fill="#595959">3700</text>
<line x1="172.4" x2="604.9" y1="1850.8" y2="1850.8" stroke="#d9d9d9" stroke-width="1"/>
<text x="164" y="1855.2" text-anchor="end" font-size="12" fill="#595959">3800</text>
<line x1="172.4" x2="604.9" y1="1832.3" y2="1832.3" stroke="#d9d9d9" stroke-width="1"/>
<text x="164" y="1836.7" text-anchor="end" font-size="12" fill="#595959">3900</text>
<line x1="172.4" x2="604.9" y1="1813.8" y2="1813.8" stroke="#d9d9d9" stroke-width="1"/>
<text x="164" y="1818.2" text-anchor="end" font-size="12" fill="#595959">4000</text>
<line x1="172.4" x2="604.9" y1="1795.3" y2="1795.3" stroke="#d9d9d9" stroke-width="1"/>
<text x="164" y="1799.7" text-anchor="end" font-size="12" fill="#595959">4100</text>
<line x1="172.4" x2="604.9" y1="1776.8" y2="1776.8" stroke="#d9d9d9" stroke-width="1"/>
<text x="164" y="1781.2" text-anchor="end" font-size="12" fill="#595959">4200</text>
<line x1="172.4" x2="604.9" y1="1758.3" y2="1758.3" stroke="#d9d9d9" stroke-width="1"/>
<text x="164" y="1762.7" text-anchor="end" font-size="12" fill="#595959">4300</text>
<line x1="172.4" x2="604.9" y1="1943.3" y2="1943.3" stroke="#d9d9d9" stroke-width="1"/>
<path d="M172.4 1943.3v4.5M179.5 1943.3v4.5M186.6 1943.3v4.5M193.7 1943.3v4.5M200.8 1943.3v4.5M207.9 1943.3v4.5M214.9 1943.3v4.5M222.0 1943.3v4.5M229.1 1943.3v4.5M236.2 1943.3v4.5M243.3 1943.3v4.5M250.4 1943.3v4.5M257.5 1943.3v4.5M264.6 1943.3v4.5M271.7 1943.3v4.5M278.8 1943.3v4.5M285.8 1943.3v4.5M292.9 1943.3v4.5M300.0 1943.3v4.5M307.1 1943.3v4.5M314.2 1943.3v4.5M321.3 1943.3v4.5M328.4 1943.3v4.5M335.5 1943.3v4.5M342.6 1943.3v4.5M349.7 1943.3v4.5M356.7 1943.3v4.5M363.8 1943.3v4.5M370.9 1943.3v4.5M378.0 1943.3v4.5M385.1 1943.3v4.5M392.2 1943.3v4.5M399.3 1943.3v4.5M406.4 1943.3v4.5M413.5 1943.3v4.5M420.6 1943.3v4.5M427.6 1943.3v4.5M434.7 1943.3v4.5M441.8 1943.3v4.5M448.9 1943.3v4.5M456.0 1943.3v4.5M463.1 1943.3v4.5M470.2 1943.3v4.5M477.3 1943.3v4.5M484.4 1943.3v4.5M491.5 1943.3v4.5M498.5 1943.3v4.5M505.6 1943.3v4.5M512.7 1943.3v4.5M519.8 1943.3v4.5M526.9 1943.3v4.5M534.0 1943.3v4.5M541.1 1943.3v4.5M548.2 1943.3v4.5M555.3 1943.3v4.5M562.4 1943.3v4.5M569.4 1943.3v4.5M576.5 1943.3v4.5M583.6 1943.3v4.5M590.7 1943.3v4.5M597.8 1943.3v4.5M604.9 1943.3v4.5" stroke="#d9d9d9" stroke-width="1"/>
<polyline points="175.9,1842.8 183.0,1834.1 190.1,1853.4 197.2,1856.2 204.3,1864.5 211.4,1857.6 218.5,1871.3 225.6,1870.6 232.7,1875.6 239.8,1885.2 246.8,1877.4 253.9,1877.4 261.0,1883.0 268.1,1883.0 275.2,1884.7 282.3,1899.8 289.4,1914.3 296.5,1896.3 303.6,1893.5 310.7,1858.4 317.8,1858.4 324.8,1855.6 331.9,1853.4 339.0,1843.8 346.1,1841.7 353.2,1835.4 360.3,1838.2 367.4,1836.4 374.5,1825.8 381.6,1823.6 388.6,1824.3 395.7,1824.3 402.8,1820.3 409.9,1803.6 417.0,1800.8 424.1,1802.3 431.2,1798.1 438.3,1782.9 445.4,1789.2 452.5,1809.2 459.6,1806.4 466.6,1795.3 473.7,1801.4 480.8,1798.1 487.9,1798.1 495.0,1790.7 502.1,1794.0 509.2,1792.0 516.3,1779.6 523.4,1789.8 530.5,1793.1 537.5,1796.2 544.6,1778.3 551.7,1777.9 558.8,1775.5 565.9,1766.3 573.0,1767.7 580.1,1769.4 587.2,1781.1 594.3,1807.0 601.3,1800.3" fill="none" stroke="#4f81bd" stroke-width="2.8" stroke-linejoin="round"/>
<polyline points="175.9,1859.9 183.0,1852.1 190.1,1869.5 197.2,1870.6 204.3,1879.7 211.4,1870.6 218.5,1885.2 225.6,1885.2 232.7,1890.8 239.8,1898.5 246.8,1898.5 253.9,1890.2 261.0,1896.3 268.1,1896.3 275.2,1899.1 282.3,1913.0 289.4,1926.6 296.5,1908.2 303.6,1905.4 310.7,1869.5 317.8,1873.4 324.8,1870.6 331.9,1867.3 339.0,1860.4 346.1,1860.4 353.2,1850.6 360.3,1850.6 367.4,1846.5 374.5,1832.7 381.6,1829.2 388.6,1828.0 395.7,1830.8 402.8,1823.0 409.9,1807.3 417.0,1805.8 424.1,1806.4 431.2,1800.3 438.3,1784.9 445.4,1792.5 452.5,1816.9 459.6,1814.2 466.6,1800.3 473.7,1807.9 480.8,1804.2 487.9,1804.2 495.0,1796.8 502.1,1798.6 509.2,1795.9 516.3,1785.7 523.4,1794.7 530.5,1798.1 537.5,1799.6 544.6,1782.2 551.7,1785.7 558.8,1781.6 565.9,1777.4 573.0,1779.4 580.1,1775.5 587.2,1787.5 594.3,1785.7 601.3,1776.1" fill="none" stroke="#c0504d" stroke-width="2.8" stroke-linejoin="round"/>
<polyline points="175.9,1841.0 183.0,1820.3 190.1,1838.2 197.2,1836.4 204.3,1846.5 211.4,1836.4 218.5,1849.3 225.6,1900.9 232.7,1903.2 239.8,1910.2 246.8,1905.9 253.9,1904.6 261.0,1908.2 268.1,1908.2 275.2,1910.2 282.3,1923.9 289.4,1937.8 296.5,1922.6 303.6,1920.4 310.7,1884.5 317.8,1888.0 324.8,1885.2 331.9,1881.1 339.0,1874.1 346.1,1874.1 353.2,1866.0 360.3,1862.3 367.4,1854.9 374.5,1842.8 381.6,1837.5 388.6,1836.4 395.7,1840.3 402.8,1832.7 409.9,1816.0 417.0,1814.7 424.1,1815.3 431.2,1807.9 438.3,1800.8 445.4,1800.8 452.5,1823.6 459.6,1820.8 466.6,1805.8 473.7,1815.3 480.8,1811.4 487.9,1811.4 495.0,1803.1 502.1,1806.4 509.2,1805.1 516.3,1795.3 523.4,1803.1 530.5,1807.3 537.5,1810.1 544.6,1795.9 551.7,1798.1 558.8,1794.0 565.9,1789.2 573.0,1790.3 580.1,1785.7 587.2,1798.1 594.3,1796.8 601.3,1789.2" fill="none" stroke="#9bbb59" stroke-width="2.8" stroke-linejoin="round"/>
<text transform="translate(179.1,1950) rotate(-90)" text-anchor="end" font-size="11.8" fill="#595959">22/9/30</text>
<text transform="translate(193.3,1950) rotate(-90)" text-anchor="end" font-size="11.8" fill="#595959">22/10/11</text>
<text transform="translate(207.5,1950) rotate(-90)" text-anchor="end" font-size="11.8" fill="#595959">22/10/13</text>
<text transform="translate(221.7,1950) rotate(-90)" text-anchor="end" font-size="11.8" fill="#595959">22/10/17</text>
<text transform="translate(235.9,1950) rotate(-90)" text-anchor="end" font-size="11.8" fill="#595959">22/10/19</text>
<text transform="translate(250.0,1950) rotate(-90)" text-anchor="end" font-size="11.8" fill="#595959">22/10/21</text>
<text transform="translate(264.2,1950) rotate(-90)" text-anchor="end" font-size="11.8" fill="#595959">22/10/25</text>
<text transform="translate(278.4,1950) rotate(-90)" text-anchor="end" font-size="11.8" fill="#595959">22/10/27</text>
<text transform="translate(292.6,1950) rotate(-90)" text-anchor="end" font-size="11.8" fill="#595959">22/10/31</text>
<text transform="translate(306.8,1950) rotate(-90)" text-anchor="end" font-size="11.8" fill="#595959">22/11/2</text>
<text transform="translate(320.9,1950) rotate(-90)" text-anchor="end" font-size="11.8" fill="#595959">22/11/22</text>
<text transform="translate(335.1,1950) rotate(-90)" text-anchor="end" font-size="11.8" fill="#595959">22/11/24</text>
<text transform="translate(349.3,1950) rotate(-90)" text-anchor="end" font-size="11.8" fill="#595959">22/11/28</text>
<text transform="translate(363.5,1950) rotate(-90)" text-anchor="end" font-size="11.8" fill="#595959">22/11/30</text>
<text transform="translate(377.7,1950) rotate(-90)" text-anchor="end" font-size="11.8" fill="#595959">22/12/2</text>
<text transform="translate(391.8,1950) rotate(-90)" text-anchor="end" font-size="11.8" fill="#595959">22/12/6</text>
<text transform="translate(406.0,1950) rotate(-90)" text-anchor="end" font-size="11.8" fill="#595959">22/12/8</text>
<text transform="translate(420.2,1950) rotate(-90)" text-anchor="end" font-size="11.8" fill="#595959">22/12/12</text>
<text transform="translate(434.4,1950) rotate(-90)" text-anchor="end" font-size="11.8" fill="#595959">22/12/14</text>
<text transform="translate(448.6,1950) rotate(-90)" text-anchor="end" font-size="11.8" fill="#595959">22/12/16</text>
<text transform="translate(462.8,1950) rotate(-90)" text-anchor="end" font-size="11.8" fill="#595959">22/12/20</text>
<text transform="translate(476.9,1950) rotate(-90)" text-anchor="end" font-size="11.8" fill="#595959">22/12/22</text>
<text transform="translate(491.1,1950) rotate(-90)" text-anchor="end" font-size="11.8" fill="#595959">22/12/26</text>
<text transform="translate(505.3,1950) rotate(-90)" text-anchor="end" font-size="11.8" fill="#595959">22/12/28</text>
<text transform="translate(519.5,1950) rotate(-90)" text-anchor="end" font-size="11.8" fill="#595959">22/12/30</text>
<text transform="translate(533.7,1950) rotate(-90)" text-anchor="end" font-size="11.8" fill="#595959">23/1/4</text>
<text transform="translate(547.8,1950) rotate(-90)" text-anchor="end" font-size="11.8" fill="#595959">23/1/6</text>
<text transform="translate(562.0,1950) rotate(-90)" text-anchor="end" font-size="11.8" fill="#595959">23/1/10</text>
<text transform="translate(576.2,1950) rotate(-90)" text-anchor="end" font-size="11.8" fill="#595959">23/1/12</text>
<text transform="translate(590.4,1950) rotate(-90)" text-anchor="end" font-size="11.8" fill="#595959">23/1/16</text>
<text transform="translate(604.5,1950) rotate(-90)" text-anchor="end" font-size="11.8" fill="#595959">23/1/18</text>
<text x="375" y="1704" text-anchor="middle" font-size="18.5" font-weight="bold" fill="#595959">热卷期货价格</text>
<line x1="268.6" x2="296.6" y1="1729" y2="1729" stroke="#4f81bd" stroke-width="2.5"/>
<text x="299.6" y="1733.5" font-size="12.5" fill="#595959" textLength="36.6" lengthAdjust="spacingAndGlyphs">01合约</text>
<line x1="339.2" x2="367.2" y1="1729" y2="1729" stroke="#c0504d" stroke-width="2.5"/>
<text x="370.2" y="1733.5" font-size="12.5" fill="#595959" textLength="36.6" lengthAdjust="spacingAndGlyphs">05合约</text>
<line x1="409.8" x2="437.8" y1="1729" y2="1729" stroke="#9bbb59" stroke-width="2.5"/>
<text x="440.8" y="1733.5" font-size="12.5" fill="#595959" textLength="36.6" lengthAdjust="spacingAndGlyphs">10合约</text>
<rect x="674" y="1678" width="486.0" height="332.0" fill="#fff" stroke="#d9d9d9" stroke-width="1"/>
<text x="708" y="1948.2" text-anchor="end" font-size="12" fill="#595959">3400</text>
<line x1="716.5" x2="1144.7" y1="1923.3" y2="1923.3" stroke="#d9d9d9" stroke-width="1"/>
<text x="708" y="1927.7" text-anchor="end" font-size="12" fill="#595959">3500</text>
<line x1="716.5" x2="1144.7" y1="1902.8" y2="1902.8" stroke="#d9d9d9" stroke-width="1"/>
<text x="708" y="1907.2" text-anchor="end" font-size="12" fill="#595959">3600</text>
<line x1="716.5" x2="1144.7" y1="1882.3" y2="1882.3" stroke="#d9d9d9" stroke-width="1"/>
<text x="708" y="1886.7" text-anchor="end" font-size="12" fill="#595959">3700</text>
<line x1="716.5" x2="1144.7" y1="1861.8" y2="1861.8" stroke="#d9d9d9" stroke-width="1"/>
<text x="708" y="1866.2" text-anchor="end" font-size="12" fill="#595959">3800</text>
<line x1="716.5" x2="1144.7" y1="1841.4" y2="1841.4" stroke="#d9d9d9" stroke-width="1"/>
<text x="708" y="1845.8" text-anchor="end" font-size="12" fill="#595959">3900</text>
<line x1="716.5" x2="1144.7" y1="1820.9" y2="1820.9" stroke="#d9d9d9" stroke-width="1"/>
<text x="708" y="1825.3" text-anchor="end" font-size="12" fill="#595959">4000</text>
<line x1="716.5" x2="1144.7" y1="1800.4" y2="1800.4" stroke="#d9d9d9" stroke-width="1"/>
<text x="708" y="1804.8" text-anchor="end" font-size="12" fill="#595959">4100</text>
<line x1="716.5" x2="1144.7" y1="1779.9" y2="1779.9" stroke="#d9d9d9" stroke-width="1"/>
<text x="708" y="1784.3" text-anchor="end" font-size="12" fill="#595959">4200</text>
<line x1="716.5" x2="1144.7" y1="1759.4" y2="1759.4" stroke="#d9d9d9" stroke-width="1"/>
<text x="708" y="1763.8" text-anchor="end" font-size="12" fill="#595959">4300</text>
<line x1="716.5" x2="1144.7" y1="1943.8" y2="1943.8" stroke="#d9d9d9" stroke-width="1"/>
<path d="M716.5 1943.8v4.5M723.5 1943.8v4.5M730.5 1943.8v4.5M737.5 1943.8v4.5M744.6 1943.8v4.5M751.6 1943.8v4.5M758.6 1943.8v4.5M765.6 1943.8v4.5M772.6 1943.8v4.5M779.7 1943.8v4.5M786.7 1943.8v4.5M793.7 1943.8v4.5M800.7 1943.8v4.5M807.8 1943.8v4.5M814.8 1943.8v4.5M821.8 1943.8v4.5M828.8 1943.8v4.5M835.8 1943.8v4.5M842.9 1943.8v4.5M849.9 1943.8v4.5M856.9 1943.8v4.5M863.9 1943.8v4.5M870.9 1943.8v4.5M878.0 1943.8v4.5M885.0 1943.8v4.5M892.0 1943.8v4.5M899.0 1943.8v4.5M906.0 1943.8v4.5M913.0 1943.8v4.5M920.1 1943.8v4.5M927.1 1943.8v4.5M934.1 1943.8v4.5M941.1 1943.8v4.5M948.1 1943.8v4.5M955.2 1943.8v4.5M962.2 1943.8v4.5M969.2 1943.8v4.5M976.2 1943.8v4.5M983.2 1943.8v4.5M990.3 1943.8v4.5M997.3 1943.8v4.5M1004.3 1943.8v4.5M1011.3 1943.8v4.5M1018.3 1943.8v4.5M1025.4 1943.8v4.5M1032.4 1943.8v4.5M1039.4 1943.8v4.5M1046.4 1943.8v4.5M1053.5 1943.8v4.5M1060.5 1943.8v4.5M1067.5 1943.8v4.5M1074.5 1943.8v4.5M1081.5 1943.8v4.5M1088.5 1943.8v4.5M1095.6 1943.8v4.5M1102.6 1943.8v4.5M1109.6 1943.8v4.5M1116.6 1943.8v4.5M1123.7 1943.8v4.5M1130.7 1943.8v4.5M1137.7 1943.8v4.5M1144.7 1943.8v4.5" stroke="#d9d9d9" stroke-width="1"/>
<polyline points="720.0,1818.2 727.0,1820.9 734.0,1818.2 741.1,1835.4 748.1,1846.5 755.1,1846.5 762.1,1845.0 769.1,1863.1 776.2,1865.7 783.2,1861.2 790.2,1863.1 797.2,1863.1 804.2,1863.1 811.3,1867.2 818.3,1867.2 825.3,1863.1 832.3,1883.8 839.3,1892.6 846.4,1883.8 853.4,1845.0 860.4,1842.8 867.4,1845.0 874.4,1839.1 881.5,1836.2 888.5,1832.1 895.5,1826.6 902.5,1826.6 909.5,1824.3 916.6,1824.3 923.6,1807.1 930.6,1814.1 937.6,1814.1 944.6,1814.1 951.7,1798.9 958.7,1789.3 965.7,1791.2 972.7,1798.9 979.7,1779.3 986.8,1776.8 993.8,1799.6 1000.8,1801.4 1007.8,1795.3 1014.8,1791.2 1021.9,1800.4 1028.9,1805.9 1035.9,1796.7 1042.9,1798.9 1049.9,1798.9 1057.0,1791.2 1064.0,1797.5 1071.0,1797.5 1078.0,1795.3 1085.0,1788.5 1092.1,1783.0 1099.1,1783.0 1106.1,1779.3 1113.1,1779.3 1120.1,1776.8 1127.2,1776.8 1134.2,1776.8 1141.2,1776.8" fill="none" stroke="#4f81bd" stroke-width="2.8" stroke-linejoin="round"/>
<polyline points="720.0,1829.9 727.0,1830.7 734.0,1824.3 741.1,1840.1 748.1,1848.3 755.1,1850.6 762.1,1842.8 769.1,1850.6 776.2,1854.7 783.2,1854.7 790.2,1864.9 797.2,1857.5 804.2,1859.4 811.3,1863.1 818.3,1864.5 825.3,1864.9 832.3,1878.2 839.3,1891.6 846.4,1883.8 853.4,1854.7 860.4,1856.7 867.4,1856.7 874.4,1850.6 881.5,1844.6 888.5,1844.6 895.5,1836.2 902.5,1838.3 909.5,1836.2 916.6,1832.8 923.6,1820.9 930.6,1828.4 937.6,1828.4 944.6,1822.5 951.7,1813.3 958.7,1801.4 965.7,1805.9 972.7,1799.6 979.7,1785.0 986.8,1791.2 993.8,1801.4 1000.8,1809.8 1007.8,1795.3 1014.8,1795.3 1021.9,1804.3 1028.9,1798.9 1035.9,1795.3 1042.9,1797.5 1049.9,1797.5 1057.0,1789.3 1064.0,1791.2 1071.0,1793.2 1078.0,1797.5 1085.0,1785.6 1092.1,1781.5 1099.1,1780.9 1106.1,1775.2 1113.1,1779.3 1120.1,1773.1 1127.2,1779.3 1134.2,1783.4 1141.2,1783.4" fill="none" stroke="#c0504d" stroke-width="2.8" stroke-linejoin="round"/>
<polyline points="720.0,1828.4 727.0,1830.7 734.0,1820.9 741.1,1832.8 748.1,1840.9 755.1,1840.9 762.1,1840.9 769.1,1846.5 776.2,1846.5 783.2,1850.6 790.2,1859.0 797.2,1856.7 804.2,1859.0 811.3,1863.1 818.3,1861.2 825.3,1861.2 832.3,1883.8 839.3,1898.1 846.4,1896.3 853.4,1868.6 860.4,1868.6 867.4,1868.6 874.4,1864.9 881.5,1864.9 888.5,1864.9 895.5,1861.2 902.5,1863.1 909.5,1859.0 916.6,1857.5 923.6,1836.2 930.6,1838.3 937.6,1838.3 944.6,1838.3 951.7,1829.9 958.7,1818.2 965.7,1820.3 972.7,1818.2 979.7,1807.8 986.8,1807.8 993.8,1824.3 1000.8,1824.3 1007.8,1813.9 1014.8,1816.2 1021.9,1818.2 1028.9,1826.4 1035.9,1820.3 1042.9,1818.2 1049.9,1820.3 1057.0,1811.9 1064.0,1811.9 1071.0,1811.9 1078.0,1810.0 1085.0,1807.8 1092.1,1797.5 1099.1,1799.6 1106.1,1799.6 1113.1,1799.6 1120.1,1795.3 1127.2,1797.5 1134.2,1797.5 1141.2,1797.5" fill="none" stroke="#9bbb59" stroke-width="2.8" stroke-linejoin="round"/>
<text transform="translate(723.2,1950) rotate(-90)" text-anchor="end" font-size="11.8" fill="#595959">22/9/29</text>
<text transform="translate(737.2,1950) rotate(-90)" text-anchor="end" font-size="11.8" fill="#595959">22/10/10</text>
<text transform="translate(751.3,1950) rotate(-90)" text-anchor="end" font-size="11.8" fill="#595959">22/10/12</text>
<text transform="translate(765.3,1950) rotate(-90)" text-anchor="end" font-size="11.8" fill="#595959">22/10/14</text>
<text transform="translate(779.4,1950) rotate(-90)" text-anchor="end" font-size="11.8" fill="#595959">22/10/18</text>
<text transform="translate(793.4,1950) rotate(-90)" text-anchor="end" font-size="11.8" fill="#595959">22/10/20</text>
<text transform="translate(807.4,1950) rotate(-90)" text-anchor="end" font-size="11.8" fill="#595959">22/10/24</text>
<text transform="translate(821.5,1950) rotate(-90)" text-anchor="end" font-size="11.8" fill="#595959">22/10/26</text>
<text transform="translate(835.5,1950) rotate(-90)" text-anchor="end" font-size="11.8" fill="#595959">22/10/28</text>
<text transform="translate(849.6,1950) rotate(-90)" text-anchor="end" font-size="11.8" fill="#595959">22/11/1</text>
<text transform="translate(863.6,1950) rotate(-90)" text-anchor="end" font-size="11.8" fill="#595959">22/11/22</text>
<text transform="translate(877.6,1950) rotate(-90)" text-anchor="end" font-size="11.8" fill="#595959">22/11/24</text>
<text transform="translate(891.7,1950) rotate(-90)" text-anchor="end" font-size="11.8" fill="#595959">22/11/28</text>
<text transform="translate(905.7,1950) rotate(-90)" text-anchor="end" font-size="11.8" fill="#595959">22/11/30</text>
<text transform="translate(919.8,1950) rotate(-90)" text-anchor="end" font-size="11.8" fill="#595959">22/12/2</text>
<text transform="translate(933.8,1950) rotate(-90)" text-anchor="end" font-size="11.8" fill="#595959">22/12/6</text>
<text transform="translate(947.8,1950) rotate(-90)" text-anchor="end" font-size="11.8" fill="#595959">22/12/8</text>
<text transform="translate(961.9,1950) rotate(-90)" text-anchor="end" font-size="11.8" fill="#595959">22/12/12</text>
<text transform="translate(975.9,1950) rotate(-90)" text-anchor="end" font-size="11.8" fill="#595959">22/12/14</text>
<text transform="translate(990.0,1950) rotate(-90)" text-anchor="end" font-size="11.8" fill="#595959">22/12/16</text>
<text transform="translate(1004.0,1950) rotate(-90)" text-anchor="end" font-size="11.8" fill="#595959">22/12/20</text>
<text transform="translate(1018.0,1950) rotate(-90)" text-anchor="end" font-size="11.8" fill="#595959">22/12/22</text>
<text transform="translate(1032.1,1950) rotate(-90)" text-anchor="end" font-size="11.8" fill="#595959">22/12/26</text>
<text transform="translate(1046.1,1950) rotate(-90)" text-anchor="end" font-size="11.8" fill="#595959">22/12/28</text>
<text transform="translate(1060.2,1950) rotate(-90)" text-anchor="end" font-size="11.8" fill="#595959">22/12/30</text>
<text transform="translate(1074.2,1950) rotate(-90)" text-anchor="end" font-size="11.8" fill="#595959">23/1/4</text>
<text transform="translate(1088.2,1950) rotate(-90)" text-anchor="end" font-size="11.8" fill="#595959">23/1/6</text>
<text transform="translate(1102.3,1950) rotate(-90)" text-anchor="end" font-size="11.8" fill="#595959">23/1/10</text>
<text transform="translate(1116.3,1950) rotate(-90)" text-anchor="end" font-size="11.8" fill="#595959">23/1/12</text>
<text transform="translate(1130.4,1950) rotate(-90)" text-anchor="end" font-size="11.8" fill="#595959">23/1/16</text>
<text transform="translate(1144.4,1950) rotate(-90)" text-anchor="end" font-size="11.8" fill="#595959">23/1/18</text>
<text x="916.5" y="1705" text-anchor="middle" font-size="18.5" font-weight="bold" fill="#595959">热卷现货价格</text>
<line x1="828.3" x2="856.3" y1="1731" y2="1731" stroke="#4f81bd" stroke-width="2.5"/>
<text x="859.3" y="1735.5" font-size="12.5" fill="#595959" textLength="24.8" lengthAdjust="spacingAndGlyphs">广州</text>
<line x1="887.1" x2="915.1" y1="1731" y2="1731" stroke="#c0504d" stroke-width="2.5"/>
<text x="918.1" y="1735.5" font-size="12.5" fill="#595959" textLength="24.8" lengthAdjust="spacingAndGlyphs">上海</text>
<line x1="945.9" x2="973.9" y1="1731" y2="1731" stroke="#9bbb59" stroke-width="2.5"/>
<text x="976.9" y="1735.5" font-size="12.5" fill="#595959" textLength="24.8" lengthAdjust="spacingAndGlyphs">天津</text>
<rect x="132.4" y="2068" width="487.6" height="301.3" fill="#fff" stroke="#d9d9d9" stroke-width="1"/>
<line x1="172.3" x2="605.0" y1="2303.2" y2="2303.2" stroke="#d9d9d9" stroke-width="1"/>
<text x="164" y="2307.6" text-anchor="end" font-size="12" fill="#595959">-250</text>
<line x1="172.3" x2="605.0" y1="2283.9" y2="2283.9" stroke="#d9d9d9" stroke-width="1"/>
<text x="164" y="2288.3" text-anchor="end" font-size="12" fill="#595959">-200</text>
<line x1="172.3" x2="605.0" y1="2264.7" y2="2264.7" stroke="#d9d9d9" stroke-width="1"/>
<text x="164" y="2269.1" text-anchor="end" font-size="12" fill="#595959">-150</text>
<line x1="172.3" x2="605.0" y1="2245.4" y2="2245.4" stroke="#d9d9d9" stroke-width="1"/>
<text x="164" y="2249.8" text-anchor="end" font-size="12" fill="#595959">-100</text>
<line x1="172.3" x2="605.0" y1="2226.1" y2="2226.1" stroke="#d9d9d9" stroke-width="1"/>
<text x="164" y="2230.5" text-anchor="end" font-size="12" fill="#595959">-50</text>
<text x="164" y="2211.3" text-anchor="end" font-size="12" fill="#595959">0</text>
<line x1="172.3" x2="605.0" y1="2187.6" y2="2187.6" stroke="#d9d9d9" stroke-width="1"/>
<text x="164" y="2192.0" text-anchor="end" font-size="12" fill="#595959">50</text>
<line x1="172.3" x2="605.0" y1="2168.4" y2="2168.4" stroke="#d9d9d9" stroke-width="1"/>
<text x="164" y="2172.8" text-anchor="end" font-size="12" fill="#595959">100</text>
<line x1="172.3" x2="605.0" y1="2149.1" y2="2149.1" stroke="#d9d9d9" stroke-width="1"/>
<text x="164" y="2153.5" text-anchor="end" font-size="12" fill="#595959">150</text>
<line x1="172.3" x2="605.0" y1="2206.9" y2="2206.9" stroke="#d9d9d9" stroke-width="1"/>
<path d="M172.3 2206.9v4.5M179.1 2206.9v4.5M185.8 2206.9v4.5M192.6 2206.9v4.5M199.4 2206.9v4.5M206.1 2206.9v4.5M212.9 2206.9v4.5M219.6 2206.9v4.5M226.4 2206.9v4.5M233.2 2206.9v4.5M239.9 2206.9v4.5M246.7 2206.9v4.5M253.4 2206.9v4.5M260.2 2206.9v4.5M267.0 2206.9v4.5M273.7 2206.9v4.5M280.5 2206.9v4.5M287.2 2206.9v4.5M294.0 2206.9v4.5M300.8 2206.9v4.5M307.5 2206.9v4.5M314.3 2206.9v4.5M321.0 2206.9v4.5M327.8 2206.9v4.5M334.6 2206.9v4.5M341.3 2206.9v4.5M348.1 2206.9v4.5M354.8 2206.9v4.5M361.6 2206.9v4.5M368.4 2206.9v4.5M375.1 2206.9v4.5M381.9 2206.9v4.5M388.6 2206.9v4.5M395.4 2206.9v4.5M402.2 2206.9v4.5M408.9 2206.9v4.5M415.7 2206.9v4.5M422.4 2206.9v4.5M429.2 2206.9v4.5M436.0 2206.9v4.5M442.7 2206.9v4.5M449.5 2206.9v4.5M456.2 2206.9v4.5M463.0 2206.9v4.5M469.8 2206.9v4.5M476.5 2206.9v4.5M483.3 2206.9v4.5M490.0 2206.9v4.5M496.8 2206.9v4.5M503.6 2206.9v4.5M510.3 2206.9v4.5M517.1 2206.9v4.5M523.8 2206.9v4.5M530.6 2206.9v4.5M537.4 2206.9v4.5M544.1 2206.9v4.5M550.9 2206.9v4.5M557.6 2206.9v4.5M564.4 2206.9v4.5M571.2 2206.9v4.5M577.9 2206.9v4.5M584.7 2206.9v4.5M591.4 2206.9v4.5M598.2 2206.9v4.5M605.0 2206.9v4.5" stroke="#d9d9d9" stroke-width="1"/>
<polyline points="175.7,2274.7 182.5,2251.6 189.2,2256.6 196.0,2256.6 202.7,2268.1 209.5,2256.2 216.3,2255.4 223.0,2246.6 229.8,2263.5 236.5,2248.9 243.3,2245.8 250.1,2241.6 256.8,2256.6 263.6,2275.1 270.3,2260.4 277.1,2258.5 283.9,2263.1 290.6,2261.6 297.4,2275.5 304.1,2264.3 310.9,2275.5 317.7,2259.7 324.4,2253.9 331.2,2258.5 337.9,2247.3 344.7,2253.9 351.5,2238.9 358.2,2243.1 365.0,2241.6 371.7,2247.7 378.5,2247.7 385.3,2230.0 392.0,2252.7 398.8,2248.5 405.5,2256.2 412.3,2238.9 419.1,2232.7 425.8,2250.8 432.6,2248.5 439.3,2220.4 446.1,2227.3 452.9,2246.6 459.6,2252.0 466.4,2242.7 473.1,2235.0 479.9,2250.8 486.7,2225.8 493.4,2214.6 500.2,2216.1 506.9,2214.2 513.7,2209.6 520.5,2205.7 527.2,2210.7 534.0,2218.8 540.7,2224.2 547.5,2200.3 554.3,2218.8 561.0,2212.3 567.8,2209.2 574.5,2212.3 581.3,2209.2 588.1,2236.2 594.8,2230.0 601.6,2211.9" fill="none" stroke="#4f81bd" stroke-width="2.8" stroke-linejoin="round"/>
<polyline points="175.7,2243.9 182.5,2224.2 189.2,2235.4 196.0,2235.4 202.7,2247.3 209.5,2243.1 216.3,2251.2 223.0,2241.9 229.8,2256.2 236.5,2256.6 243.3,2268.5 250.1,2260.8 256.8,2269.3 263.6,2271.2 270.3,2271.2 277.1,2267.4 283.9,2270.1 290.6,2265.8 297.4,2270.1 304.1,2274.3 310.9,2281.2 317.7,2258.9 324.4,2235.4 331.2,2231.2 337.9,2224.2 344.7,2231.2 351.5,2223.5 358.2,2220.4 365.0,2222.3 371.7,2225.4 378.5,2225.4 385.3,2214.6 392.0,2229.2 398.8,2221.5 405.5,2228.5 412.3,2223.5 419.1,2206.5 425.8,2227.3 432.6,2220.8 439.3,2218.1 446.1,2214.6 452.9,2220.4 459.6,2248.5 466.4,2227.3 473.1,2227.3 479.9,2242.7 486.7,2220.4 493.4,2226.1 500.2,2217.3 506.9,2219.2 513.7,2213.4 520.5,2208.4 527.2,2222.3 534.0,2225.8 540.7,2221.5 547.5,2207.7 554.3,2223.1 561.0,2215.4 567.8,2216.9 574.5,2213.4 581.3,2216.9 588.1,2232.7 594.8,2218.8 601.6,2200.3" fill="none" stroke="#c0504d" stroke-width="2.8" stroke-linejoin="round"/>
<polyline points="175.7,2254.7 182.5,2228.1 189.2,2236.9 196.0,2236.9 202.7,2248.9 209.5,2250.8 216.3,2267.8 223.0,2256.2 229.8,2275.5 236.5,2258.9 243.3,2276.2 250.1,2276.2 256.8,2277.4 263.6,2283.2 270.3,2272.8 277.1,2265.8 283.9,2271.2 290.6,2273.2 297.4,2278.2 304.1,2267.8 310.9,2269.3 317.7,2242.3 324.4,2207.7 331.2,2207.7 337.9,2200.7 344.7,2204.6 351.5,2185.7 358.2,2181.5 365.0,2175.3 371.7,2178.0 378.5,2181.8 385.3,2168.4 392.0,2198.0 398.8,2202.3 405.5,2209.6 412.3,2192.6 419.1,2174.5 425.8,2196.9 432.6,2193.8 439.3,2183.0 446.1,2171.8 452.9,2188.4 459.6,2206.5 466.4,2200.7 473.1,2187.6 479.9,2205.0 486.7,2192.6 493.4,2176.1 500.2,2171.1 506.9,2181.1 513.7,2171.8 520.5,2166.4 527.2,2183.8 534.0,2191.1 540.7,2198.0 547.5,2165.7 554.3,2192.6 561.0,2181.1 567.8,2169.9 574.5,2174.5 581.3,2174.5 588.1,2198.0 594.8,2191.9 601.6,2172.6" fill="none" stroke="#9bbb59" stroke-width="2.8" stroke-linejoin="round"/>
<text transform="translate(178.9,2311) rotate(-90)" text-anchor="end" font-size="11.8" fill="#595959">22/9/26</text>
<text transform="translate(199.2,2311) rotate(-90)" text-anchor="end" font-size="11.8" fill="#595959">22/9/29</text>
<text transform="translate(219.5,2311) rotate(-90)" text-anchor="end" font-size="11.8" fill="#595959">22/10/11</text>
<text transform="translate(239.7,2311) rotate(-90)" text-anchor="end" font-size="11.8" fill="#595959">22/10/14</text>
<text transform="translate(260.0,2311) rotate(-90)" text-anchor="end" font-size="11.8" fill="#595959">22/10/19</text>
<text transform="translate(280.3,2311) rotate(-90)" text-anchor="end" font-size="11.8" fill="#595959">22/10/24</text>
<text transform="translate(300.6,2311) rotate(-90)" text-anchor="end" font-size="11.8" fill="#595959">22/10/27</text>
<text transform="translate(320.9,2311) rotate(-90)" text-anchor="end" font-size="11.8" fill="#595959">22/11/1</text>
<text transform="translate(341.1,2311) rotate(-90)" text-anchor="end" font-size="11.8" fill="#595959">22/11/23</text>
<text transform="translate(361.4,2311) rotate(-90)" text-anchor="end" font-size="11.8" fill="#595959">22/11/28</text>
<text transform="translate(381.7,2311) rotate(-90)" text-anchor="end" font-size="11.8" fill="#595959">22/12/1</text>
<text transform="translate(402.0,2311) rotate(-90)" text-anchor="end" font-size="11.8" fill="#595959">22/12/6</text>
<text transform="translate(422.3,2311) rotate(-90)" text-anchor="end" font-size="11.8" fill="#595959">22/12/9</text>
<text transform="translate(442.5,2311) rotate(-90)" text-anchor="end" font-size="11.8" fill="#595959">22/12/14</text>
<text transform="translate(462.8,2311) rotate(-90)" text-anchor="end" font-size="11.8" fill="#595959">22/12/19</text>
<text transform="translate(483.1,2311) rotate(-90)" text-anchor="end" font-size="11.8" fill="#595959">22/12/22</text>
<text transform="translate(503.4,2311) rotate(-90)" text-anchor="end" font-size="11.8" fill="#595959">22/12/27</text>
<text transform="translate(523.7,2311) rotate(-90)" text-anchor="end" font-size="11.8" fill="#595959">22/12/30</text>
<text transform="translate(543.9,2311) rotate(-90)" text-anchor="end" font-size="11.8" fill="#595959">23/1/5</text>
<text transform="translate(564.2,2311) rotate(-90)" text-anchor="end" font-size="11.8" fill="#595959">23/1/10</text>
<text transform="translate(584.5,2311) rotate(-90)" text-anchor="end" font-size="11.8" fill="#595959">23/1/13</text>
<text transform="translate(604.8,2311) rotate(-90)" text-anchor="end" font-size="11.8" fill="#595959">23/1/18</text>
<text x="376" y="2095" text-anchor="middle" font-size="18.5" font-weight="bold" fill="#595959">热卷主力期现基差</text>
<line x1="288.3" x2="316.3" y1="2121.6" y2="2121.6" stroke="#4f81bd" stroke-width="2.5"/>
<text x="319.3" y="2126.1" font-size="12.5" fill="#595959" textLength="24.8" lengthAdjust="spacingAndGlyphs">广州</text>
<line x1="347.1" x2="375.1" y1="2121.6" y2="2121.6" stroke="#c0504d" stroke-width="2.5"/>
<text x="378.1" y="2126.1" font-size="12.5" fill="#595959" textLength="24.8" lengthAdjust="spacingAndGlyphs">上海</text>
<line x1="405.9" x2="433.9" y1="2121.6" y2="2121.6" stroke="#9bbb59" stroke-width="2.5"/>
<text x="436.9" y="2126.1" font-size="12.5" fill="#595959" textLength="24.8" lengthAdjust="spacingAndGlyphs">天津</text>
<rect x="675.2" y="2069.2" width="485.8" height="300.1" fill="#fff" stroke="#d9d9d9" stroke-width="1"/>
<line x1="715.7" x2="1145.8" y1="2302.3" y2="2302.3" stroke="#d9d9d9" stroke-width="1"/>
<text x="708" y="2306.7" text-anchor="end" font-size="12" fill="#595959">-250</text>
<line x1="715.7" x2="1145.8" y1="2285.5" y2="2285.5" stroke="#d9d9d9" stroke-width="1"/>
<text x="708" y="2289.9" text-anchor="end" font-size="12" fill="#595959">-200</text>
<line x1="715.7" x2="1145.8" y1="2268.7" y2="2268.7" stroke="#d9d9d9" stroke-width="1"/>
<text x="708" y="2273.1" text-anchor="end" font-size="12" fill="#595959">-150</text>
<line x1="715.7" x2="1145.8" y1="2251.9" y2="2251.9" stroke="#d9d9d9" stroke-width="1"/>
<text x="708" y="2256.3" text-anchor="end" font-size="12" fill="#595959">-100</text>
<line x1="715.7" x2="1145.8" y1="2235.1" y2="2235.1" stroke="#d9d9d9" stroke-width="1"/>
<text x="708" y="2239.5" text-anchor="end" font-size="12" fill="#595959">-50</text>
<text x="708" y="2222.7" text-anchor="end" font-size="12" fill="#595959">0</text>
<line x1="715.7" x2="1145.8" y1="2201.5" y2="2201.5" stroke="#d9d9d9" stroke-width="1"/>
<text x="708" y="2205.9" text-anchor="end" font-size="12" fill="#595959">50</text>
<line x1="715.7" x2="1145.8" y1="2184.7" y2="2184.7" stroke="#d9d9d9" stroke-width="1"/>
<text x="708" y="2189.1" text-anchor="end" font-size="12" fill="#595959">100</text>
<line x1="715.7" x2="1145.8" y1="2167.9" y2="2167.9" stroke="#d9d9d9" stroke-width="1"/>
<text x="708" y="2172.3" text-anchor="end" font-size="12" fill="#595959">150</text>
<line x1="715.7" x2="1145.8" y1="2151.1" y2="2151.1" stroke="#d9d9d9" stroke-width="1"/>
<text x="708" y="2155.5" text-anchor="end" font-size="12" fill="#595959">200</text>
<line x1="715.7" x2="1145.8" y1="2218.3" y2="2218.3" stroke="#d9d9d9" stroke-width="1"/>
<path d="M715.7 2218.3v4.5M722.4 2218.3v4.5M729.1 2218.3v4.5M735.9 2218.3v4.5M742.6 2218.3v4.5M749.3 2218.3v4.5M756.0 2218.3v4.5M762.7 2218.3v4.5M769.5 2218.3v4.5M776.2 2218.3v4.5M782.9 2218.3v4.5M789.6 2218.3v4.5M796.3 2218.3v4.5M803.1 2218.3v4.5M809.8 2218.3v4.5M816.5 2218.3v4.5M823.2 2218.3v4.5M829.9 2218.3v4.5M836.7 2218.3v4.5M843.4 2218.3v4.5M850.1 2218.3v4.5M856.8 2218.3v4.5M863.5 2218.3v4.5M870.3 2218.3v4.5M877.0 2218.3v4.5M883.7 2218.3v4.5M890.4 2218.3v4.5M897.1 2218.3v4.5M903.9 2218.3v4.5M910.6 2218.3v4.5M917.3 2218.3v4.5M924.0 2218.3v4.5M930.7 2218.3v4.5M937.5 2218.3v4.5M944.2 2218.3v4.5M950.9 2218.3v4.5M957.6 2218.3v4.5M964.3 2218.3v4.5M971.1 2218.3v4.5M977.8 2218.3v4.5M984.5 2218.3v4.5M991.2 2218.3v4.5M997.9 2218.3v4.5M1004.7 2218.3v4.5M1011.4 2218.3v4.5M1018.1 2218.3v4.5M1024.8 2218.3v4.5M1031.5 2218.3v4.5M1038.3 2218.3v4.5M1045.0 2218.3v4.5M1051.7 2218.3v4.5M1058.4 2218.3v4.5M1065.1 2218.3v4.5M1071.9 2218.3v4.5M1078.6 2218.3v4.5M1085.3 2218.3v4.5M1092.0 2218.3v4.5M1098.7 2218.3v4.5M1105.5 2218.3v4.5M1112.2 2218.3v4.5M1118.9 2218.3v4.5M1125.6 2218.3v4.5M1132.3 2218.3v4.5M1139.1 2218.3v4.5M1145.8 2218.3v4.5" stroke="#d9d9d9" stroke-width="1"/>
<polyline points="719.1,2276.4 725.8,2256.3 732.5,2261.0 739.2,2261.0 745.9,2271.4 752.7,2257.6 759.4,2261.0 766.1,2251.9 772.8,2267.7 779.5,2253.2 786.3,2251.6 793.0,2247.2 799.7,2263.0 806.4,2277.4 813.1,2264.3 819.9,2262.7 826.6,2266.7 833.3,2265.7 840.0,2277.4 846.7,2267.4 853.5,2277.4 860.2,2262.7 866.9,2259.0 873.6,2263.0 880.3,2252.9 887.1,2259.6 893.8,2245.5 900.5,2249.2 907.2,2247.2 913.9,2253.2 920.7,2253.2 927.4,2238.1 934.1,2258.3 940.8,2249.9 947.5,2249.9 954.3,2240.1 961.0,2234.1 967.7,2246.5 974.4,2246.5 981.1,2223.7 987.9,2229.1 994.6,2244.5 1001.3,2244.5 1008.0,2236.1 1014.7,2232.1 1021.5,2244.5 1028.2,2221.7 1034.9,2212.6 1041.6,2215.9 1048.3,2215.9 1055.1,2212.6 1061.8,2204.2 1068.5,2213.3 1075.2,2219.6 1081.9,2227.0 1088.7,2204.2 1095.4,2213.3 1102.1,2209.6 1108.8,2200.2 1115.5,2202.2 1122.3,2209.6 1129.0,2225.7 1135.7,2276.1 1142.4,2264.3" fill="none" stroke="#4f81bd" stroke-width="2.8" stroke-linejoin="round"/>
<polyline points="719.1,2249.9 725.8,2232.7 732.5,2242.8 739.2,2241.5 745.9,2253.2 752.7,2249.2 759.4,2257.6 766.1,2247.9 772.8,2260.3 779.5,2261.0 786.3,2271.4 793.0,2264.3 799.7,2272.7 806.4,2274.1 813.1,2274.1 819.9,2270.0 826.6,2272.7 833.3,2268.7 840.0,2272.7 846.7,2277.4 853.5,2282.5 860.2,2263.0 866.9,2242.8 873.6,2239.5 880.3,2233.1 887.1,2239.1 893.8,2232.7 900.5,2229.1 907.2,2230.7 913.9,2232.7 920.7,2233.4 927.4,2224.3 934.1,2237.5 940.8,2226.4 947.5,2226.4 954.3,2227.0 961.0,2210.6 967.7,2225.7 974.4,2221.7 981.1,2222.3 987.9,2219.0 994.6,2221.0 1001.3,2242.2 1008.0,2222.3 1014.7,2225.7 1021.5,2237.5 1028.2,2216.6 1034.9,2223.0 1041.6,2215.9 1048.3,2219.6 1055.1,2215.9 1061.8,2206.9 1068.5,2222.3 1075.2,2225.7 1081.9,2223.0 1088.7,2210.6 1095.4,2217.3 1102.1,2214.3 1108.8,2208.6 1115.5,2203.2 1122.3,2215.9 1129.0,2225.7 1135.7,2265.7 1142.4,2254.3" fill="none" stroke="#c0504d" stroke-width="2.8" stroke-linejoin="round"/>
<polyline points="719.1,2259.6 725.8,2235.4 732.5,2243.8 739.2,2243.8 745.9,2253.9 752.7,2255.6 759.4,2270.4 766.1,2261.0 772.8,2277.4 779.5,2263.0 786.3,2278.1 793.0,2278.1 799.7,2279.8 806.4,2284.5 813.1,2275.4 819.9,2269.4 826.6,2274.1 833.3,2276.1 840.0,2280.1 846.7,2271.4 853.5,2272.7 860.2,2247.9 866.9,2219.3 873.6,2219.3 880.3,2212.6 887.1,2215.9 893.8,2198.5 900.5,2195.5 907.2,2190.4 913.9,2192.4 920.7,2196.1 927.4,2184.4 934.1,2211.2 940.8,2209.2 947.5,2209.2 954.3,2199.5 961.0,2183.4 967.7,2198.8 974.4,2198.8 981.1,2192.4 987.9,2181.3 994.6,2194.1 1001.3,2204.9 1008.0,2199.5 1014.7,2191.1 1021.5,2203.5 1028.2,2192.4 1034.9,2179.7 1041.6,2176.0 1048.3,2186.4 1055.1,2180.0 1061.8,2170.6 1068.5,2189.4 1075.2,2195.5 1081.9,2203.2 1088.7,2173.6 1095.4,2190.7 1102.1,2184.4 1108.8,2167.2 1115.5,2168.9 1122.3,2178.7 1129.0,2194.8 1135.7,2242.8 1142.4,2230.7" fill="none" stroke="#9bbb59" stroke-width="2.8" stroke-linejoin="round"/>
<text transform="translate(722.3,2310) rotate(-90)" text-anchor="end" font-size="11.8" fill="#595959">22/9/26</text>
<text transform="translate(742.4,2310) rotate(-90)" text-anchor="end" font-size="11.8" fill="#595959">22/9/29</text>
<text transform="translate(762.6,2310) rotate(-90)" text-anchor="end" font-size="11.8" fill="#595959">22/10/11</text>
<text transform="translate(782.7,2310) rotate(-90)" text-anchor="end" font-size="11.8" fill="#595959">22/10/14</text>
<text transform="translate(802.9,2310) rotate(-90)" text-anchor="end" font-size="11.8" fill="#595959">22/10/19</text>
<text transform="translate(823.1,2310) rotate(-90)" text-anchor="end" font-size="11.8" fill="#595959">22/10/24</text>
<text transform="translate(843.2,2310) rotate(-90)" text-anchor="end" font-size="11.8" fill="#595959">22/10/27</text>
<text transform="translate(863.4,2310) rotate(-90)" text-anchor="end" font-size="11.8" fill="#595959">22/11/1</text>
<text transform="translate(883.5,2310) rotate(-90)" text-anchor="end" font-size="11.8" fill="#595959">22/11/23</text>
<text transform="translate(903.7,2310) rotate(-90)" text-anchor="end" font-size="11.8" fill="#595959">22/11/28</text>
<text transform="translate(923.9,2310) rotate(-90)" text-anchor="end" font-size="11.8" fill="#595959">22/12/1</text>
<text transform="translate(944.0,2310) rotate(-90)" text-anchor="end" font-size="11.8" fill="#595959">22/12/6</text>
<text transform="translate(964.2,2310) rotate(-90)" text-anchor="end" font-size="11.8" fill="#595959">22/12/9</text>
<text transform="translate(984.3,2310) rotate(-90)" text-anchor="end" font-size="11.8" fill="#595959">22/12/14</text>
<text transform="translate(1004.5,2310) rotate(-90)" text-anchor="end" font-size="11.8" fill="#595959">22/12/19</text>
<text transform="translate(1024.7,2310) rotate(-90)" text-anchor="end" font-size="11.8" fill="#595959">22/12/22</text>
<text transform="translate(1044.8,2310) rotate(-90)" text-anchor="end" font-size="11.8" fill="#595959">22/12/27</text>
<text transform="translate(1065.0,2310) rotate(-90)" text-anchor="end" font-size="11.8" fill="#595959">22/12/30</text>
<text transform="translate(1085.1,2310) rotate(-90)" text-anchor="end" font-size="11.8" fill="#595959">23/1/5</text>
<text transform="translate(1105.3,2310) rotate(-90)" text-anchor="end" font-size="11.8" fill="#595959">23/1/10</text>
<text transform="translate(1125.5,2310) rotate(-90)" text-anchor="end" font-size="11.8" fill="#595959">23/1/13</text>
<text transform="translate(1145.6,2310) rotate(-90)" text-anchor="end" font-size="11.8" fill="#595959">23/1/18</text>
<text x="918.6" y="2098" text-anchor="middle" font-size="18.5" font-weight="bold" fill="#595959">01热卷期现基差</text>
<line x1="830.3" x2="858.3" y1="2123.3" y2="2123.3" stroke="#4f81bd" stroke-width="2.5"/>
<text x="861.3" y="2127.8" font-size="12.5" fill="#595959" textLength="24.8" lengthAdjust="spacingAndGlyphs">广州</text>
<line x1="889.1" x2="917.1" y1="2123.3" y2="2123.3" stroke="#c0504d" stroke-width="2.5"/>
<text x="920.1" y="2127.8" font-size="12.5" fill="#595959" textLength="24.8" lengthAdjust="spacingAndGlyphs">上海</text>
<line x1="947.9" x2="975.9" y1="2123.3" y2="2123.3" stroke="#9bbb59" stroke-width="2.5"/>
<text x="978.9" y="2127.8" font-size="12.5" fill="#595959" textLength="24.8" lengthAdjust="spacingAndGlyphs">天津</text>
<rect x="135.2" y="2428.6" width="480.1" height="297.4" fill="#fff" stroke="#d9d9d9" stroke-width="1"/>
<line x1="175.6" x2="599.9" y1="2660.4" y2="2660.4" stroke="#d9d9d9" stroke-width="1"/>
<text x="168" y="2664.8" text-anchor="end" font-size="12" fill="#595959">-400</text>
<line x1="175.6" x2="599.9" y1="2646.7" y2="2646.7" stroke="#d9d9d9" stroke-width="1"/>
<text x="168" y="2651.1" text-anchor="end" font-size="12" fill="#595959">-350</text>
<line x1="175.6" x2="599.9" y1="2633.0" y2="2633.0" stroke="#d9d9d9" stroke-width="1"/>
<text x="168" y="2637.4" text-anchor="end" font-size="12" fill="#595959">-300</text>
<line x1="175.6" x2="599.9" y1="2619.3" y2="2619.3" stroke="#d9d9d9" stroke-width="1"/>
<text x="168" y="2623.7" text-anchor="end" font-size="12" fill="#595959">-250</text>
<line x1="175.6" x2="599.9" y1="2605.6" y2="2605.6" stroke="#d9d9d9" stroke-width="1"/>
<text x="168" y="2610.0" text-anchor="end" font-size="12" fill="#595959">-200</text>
<line x1="175.6" x2="599.9" y1="2591.9" y2="2591.9" stroke="#d9d9d9" stroke-width="1"/>
<text x="168" y="2596.3" text-anchor="end" font-size="12" fill="#595959">-150</text>
<line x1="175.6" x2="599.9" y1="2578.2" y2="2578.2" stroke="#d9d9d9" stroke-width="1"/>
<text x="168" y="2582.6" text-anchor="end" font-size="12" fill="#595959">-100</text>
<line x1="175.6" x2="599.9" y1="2564.5" y2="2564.5" stroke="#d9d9d9" stroke-width="1"/>
<text x="168" y="2568.9" text-anchor="end" font-size="12" fill="#595959">-50</text>
<text x="168" y="2555.2" text-anchor="end" font-size="12" fill="#595959">0</text>
<line x1="175.6" x2="599.9" y1="2537.1" y2="2537.1" stroke="#d9d9d9" stroke-width="1"/>
<text x="168" y="2541.5" text-anchor="end" font-size="12" fill="#595959">50</text>
<line x1="175.6" x2="599.9" y1="2523.4" y2="2523.4" stroke="#d9d9d9" stroke-width="1"/>
<text x="168" y="2527.8" text-anchor="end" font-size="12" fill="#595959">100</text>
<line x1="175.6" x2="599.9" y1="2509.7" y2="2509.7" stroke="#d9d9d9" stroke-width="1"/>
<text x="168" y="2514.1" text-anchor="end" font-size="12" fill="#595959">150</text>
<line x1="175.6" x2="599.9" y1="2550.8" y2="2550.8" stroke="#d9d9d9" stroke-width="1"/>
<path d="M175.6 2550.8v4.5M182.0 2550.8v4.5M188.3 2550.8v4.5M194.6 2550.8v4.5M201.0 2550.8v4.5M207.3 2550.8v4.5M213.6 2550.8v4.5M220.0 2550.8v4.5M226.3 2550.8v4.5M232.6 2550.8v4.5M239.0 2550.8v4.5M245.3 2550.8v4.5M251.6 2550.8v4.5M258.0 2550.8v4.5M264.3 2550.8v4.5M270.6 2550.8v4.5M277.0 2550.8v4.5M283.3 2550.8v4.5M289.6 2550.8v4.5M296.0 2550.8v4.5M302.3 2550.8v4.5M308.6 2550.8v4.5M315.0 2550.8v4.5M321.3 2550.8v4.5M327.6 2550.8v4.5M334.0 2550.8v4.5M340.3 2550.8v4.5M346.6 2550.8v4.5M353.0 2550.8v4.5M359.3 2550.8v4.5M365.6 2550.8v4.5M372.0 2550.8v4.5M378.3 2550.8v4.5M384.6 2550.8v4.5M391.0 2550.8v4.5M397.3 2550.8v4.5M403.6 2550.8v4.5M410.0 2550.8v4.5M416.3 2550.8v4.5M422.6 2550.8v4.5M429.0 2550.8v4.5M435.3 2550.8v4.5M441.6 2550.8v4.5M448.0 2550.8v4.5M454.3 2550.8v4.5M460.6 2550.8v4.5M467.0 2550.8v4.5M473.3 2550.8v4.5M479.6 2550.8v4.5M486.0 2550.8v4.5M492.3 2550.8v4.5M498.6 2550.8v4.5M504.9 2550.8v4.5M511.3 2550.8v4.5M517.6 2550.8v4.5M523.9 2550.8v4.5M530.3 2550.8v4.5M536.6 2550.8v4.5M542.9 2550.8v4.5M549.3 2550.8v4.5M555.6 2550.8v4.5M561.9 2550.8v4.5M568.3 2550.8v4.5M574.6 2550.8v4.5M580.9 2550.8v4.5M587.3 2550.8v4.5M593.6 2550.8v4.5M599.9 2550.8v4.5" stroke="#d9d9d9" stroke-width="1"/>
<polyline points="178.8,2640.9 185.1,2626.4 191.5,2626.4 197.8,2621.8 204.1,2608.6 210.5,2610.5 216.8,2609.2 223.1,2619.0 229.5,2608.6 235.8,2608.6 242.1,2600.9 248.5,2611.9 254.8,2600.4 261.1,2600.4 267.5,2596.8 273.8,2609.2 280.1,2620.4 286.5,2620.4 292.8,2606.4 299.1,2609.7 305.5,2609.7 311.8,2619.0 318.1,2610.5 324.5,2619.0 330.8,2605.1 337.1,2600.9 343.5,2609.7 349.8,2602.9 356.1,2605.1 362.5,2597.7 368.8,2602.9 375.1,2597.4 381.5,2595.5 387.8,2593.5 394.1,2576.8 400.5,2590.0 406.8,2580.1 413.1,2585.3 419.5,2573.3 425.8,2569.2 432.1,2581.5 438.5,2580.1 444.8,2558.7 451.1,2565.0 457.5,2579.6 463.8,2582.3 470.1,2575.2 476.5,2569.2 482.8,2581.5 489.1,2564.2 495.5,2556.8 501.8,2558.2 508.1,2556.8 514.4,2552.4 520.8,2549.7 527.1,2553.8 533.4,2559.0 539.8,2563.1 546.1,2545.6 552.4,2558.7 558.8,2553.8 565.1,2551.9 571.4,2555.5 577.8,2551.9 584.1,2571.3 590.4,2567.2 596.8,2553.8" fill="none" stroke="#4f81bd" stroke-width="2.8" stroke-linejoin="round"/>
<polyline points="178.8,2610.5 185.1,2598.2 191.5,2598.2 197.8,2600.1 204.1,2589.2 210.5,2595.5 216.8,2592.7 223.1,2604.5 229.5,2602.3 235.8,2606.4 242.1,2596.8 248.5,2607.8 254.8,2606.4 261.1,2616.3 267.5,2611.1 273.8,2616.8 280.1,2617.7 286.5,2626.4 292.8,2613.3 299.1,2613.3 305.5,2613.3 311.8,2618.5 318.1,2619.8 324.5,2621.8 330.8,2604.5 337.1,2588.1 343.5,2590.8 349.8,2586.4 356.1,2589.2 362.5,2587.2 368.8,2587.2 375.1,2584.2 381.5,2579.6 387.8,2576.8 394.1,2565.9 400.5,2573.3 406.8,2561.5 413.1,2565.9 419.5,2562.3 425.8,2549.7 432.1,2565.0 438.5,2560.4 444.8,2558.2 451.1,2556.3 457.5,2559.6 463.8,2580.1 470.1,2565.0 476.5,2565.0 482.8,2576.8 489.1,2559.6 495.5,2564.2 501.8,2558.2 508.1,2558.7 514.4,2554.6 520.8,2551.9 527.1,2560.9 533.4,2563.7 539.8,2559.6 546.1,2551.1 552.4,2562.3 558.8,2556.8 565.1,2557.4 571.4,2555.5 577.8,2558.7 584.1,2569.2 590.4,2559.6 596.8,2545.6" fill="none" stroke="#c0504d" stroke-width="2.8" stroke-linejoin="round"/>
<polyline points="178.8,2621.8 185.1,2609.2 191.5,2606.4 197.8,2608.3 204.1,2590.8 210.5,2596.3 216.8,2594.9 223.1,2604.5 229.5,2606.4 235.8,2616.3 242.1,2606.4 248.5,2620.4 254.8,2607.8 261.1,2620.9 267.5,2620.9 273.8,2622.3 280.1,2624.5 286.5,2627.8 292.8,2611.1 299.1,2615.5 305.5,2619.0 311.8,2622.6 318.1,2612.7 324.5,2613.3 330.8,2590.0 337.1,2567.8 343.5,2574.1 349.8,2569.2 356.1,2569.2 362.5,2559.0 368.8,2558.2 375.1,2550.3 381.5,2546.4 387.8,2546.4 394.1,2532.7 400.5,2551.1 406.8,2547.0 413.1,2551.9 419.5,2540.1 425.8,2527.8 432.1,2542.9 438.5,2541.5 444.8,2533.8 451.1,2525.6 457.5,2537.4 463.8,2549.7 470.1,2545.6 476.5,2536.8 482.8,2549.2 489.1,2540.9 495.5,2529.2 501.8,2525.0 508.1,2531.9 514.4,2525.6 520.8,2521.5 527.1,2533.8 533.4,2539.3 539.8,2543.7 546.1,2520.7 552.4,2540.7 558.8,2532.7 565.1,2525.0 571.4,2527.8 577.8,2527.8 584.1,2543.7 590.4,2540.1 596.8,2527.0" fill="none" stroke="#9bbb59" stroke-width="2.8" stroke-linejoin="round"/>
<text transform="translate(182.0,2668) rotate(-90)" text-anchor="end" font-size="11.8" fill="#595959">22/9/21</text>
<text transform="translate(201.0,2668) rotate(-90)" text-anchor="end" font-size="11.8" fill="#595959">22/9/26</text>
<text transform="translate(220.0,2668) rotate(-90)" text-anchor="end" font-size="11.8" fill="#595959">22/9/29</text>
<text transform="translate(239.0,2668) rotate(-90)" text-anchor="end" font-size="11.8" fill="#595959">22/10/11</text>
<text transform="translate(258.0,2668) rotate(-90)" text-anchor="end" font-size="11.8" fill="#595959">22/10/14</text>
<text transform="translate(277.0,2668) rotate(-90)" text-anchor="end" font-size="11.8" fill="#595959">22/10/19</text>
<text transform="translate(296.0,2668) rotate(-90)" text-anchor="end" font-size="11.8" fill="#595959">22/10/24</text>
<text transform="translate(315.0,2668) rotate(-90)" text-anchor="end" font-size="11.8" fill="#595959">22/10/27</text>
<text transform="translate(334.0,2668) rotate(-90)" text-anchor="end" font-size="11.8" fill="#595959">22/11/1</text>
<text transform="translate(353.0,2668) rotate(-90)" text-anchor="end" font-size="11.8" fill="#595959">22/11/23</text>
<text transform="translate(372.0,2668) rotate(-90)" text-anchor="end" font-size="11.8" fill="#595959">22/11/28</text>
<text transform="translate(391.0,2668) rotate(-90)" text-anchor="end" font-size="11.8" fill="#595959">22/12/1</text>
<text transform="translate(410.0,2668) rotate(-90)" text-anchor="end" font-size="11.8" fill="#595959">22/12/6</text>
<text transform="translate(429.0,2668) rotate(-90)" text-anchor="end" font-size="11.8" fill="#595959">22/12/9</text>
<text transform="translate(448.0,2668) rotate(-90)" text-anchor="end" font-size="11.8" fill="#595959">22/12/14</text>
<text transform="translate(467.0,2668) rotate(-90)" text-anchor="end" font-size="11.8" fill="#595959">22/12/19</text>
<text transform="translate(486.0,2668) rotate(-90)" text-anchor="end" font-size="11.8" fill="#595959">22/12/22</text>
<text transform="translate(505.0,2668) rotate(-90)" text-anchor="end" font-size="11.8" fill="#595959">22/12/27</text>
<text transform="translate(524.0,2668) rotate(-90)" text-anchor="end" font-size="11.8" fill="#595959">22/12/30</text>
<text transform="translate(543.0,2668) rotate(-90)" text-anchor="end" font-size="11.8" fill="#595959">23/1/5</text>
<text transform="translate(562.0,2668) rotate(-90)" text-anchor="end" font-size="11.8" fill="#595959">23/1/10</text>
<text transform="translate(581.0,2668) rotate(-90)" text-anchor="end" font-size="11.8" fill="#595959">23/1/13</text>
<text transform="translate(600.0,2668) rotate(-90)" text-anchor="end" font-size="11.8" fill="#595959">23/1/18</text>
<text x="374.2" y="2457" text-anchor="middle" font-size="18.5" font-weight="bold" fill="#595959">05热卷期现基差</text>
<line x1="286.3" x2="314.3" y1="2482.2" y2="2482.2" stroke="#4f81bd" stroke-width="2.5"/>
<text x="317.3" y="2486.7" font-size="12.5" fill="#595959" textLength="24.8" lengthAdjust="spacingAndGlyphs">广州</text>
<line x1="345.1" x2="373.1" y1="2482.2" y2="2482.2" stroke="#c0504d" stroke-width="2.5"/>
<text x="376.1" y="2486.7" font-size="12.5" fill="#595959" textLength="24.8" lengthAdjust="spacingAndGlyphs">上海</text>
<line x1="403.9" x2="431.9" y1="2482.2" y2="2482.2" stroke="#9bbb59" stroke-width="2.5"/>
<text x="434.9" y="2486.7" font-size="12.5" fill="#595959" textLength="24.8" lengthAdjust="spacingAndGlyphs">天津</text>
<rect x="681.4" y="2425.8" width="479.6" height="297.9" fill="#fff" stroke="#d9d9d9" stroke-width="1"/>
<line x1="725.3" x2="1146.7" y1="2663.0" y2="2663.0" stroke="#d9d9d9" stroke-width="1"/>
<text x="718" y="2667.4" text-anchor="end" font-size="12" fill="#595959">-400</text>
<line x1="725.3" x2="1146.7" y1="2645.2" y2="2645.2" stroke="#d9d9d9" stroke-width="1"/>
<text x="718" y="2649.6" text-anchor="end" font-size="12" fill="#595959">-350</text>
<line x1="725.3" x2="1146.7" y1="2627.4" y2="2627.4" stroke="#d9d9d9" stroke-width="1"/>
<text x="718" y="2631.8" text-anchor="end" font-size="12" fill="#595959">-300</text>
<line x1="725.3" x2="1146.7" y1="2609.7" y2="2609.7" stroke="#d9d9d9" stroke-width="1"/>
<text x="718" y="2614.1" text-anchor="end" font-size="12" fill="#595959">-250</text>
<line x1="725.3" x2="1146.7" y1="2591.9" y2="2591.9" stroke="#d9d9d9" stroke-width="1"/>
<text x="718" y="2596.3" text-anchor="end" font-size="12" fill="#595959">-200</text>
<line x1="725.3" x2="1146.7" y1="2574.1" y2="2574.1" stroke="#d9d9d9" stroke-width="1"/>
<text x="718" y="2578.5" text-anchor="end" font-size="12" fill="#595959">-150</text>
<line x1="725.3" x2="1146.7" y1="2556.3" y2="2556.3" stroke="#d9d9d9" stroke-width="1"/>
<text x="718" y="2560.7" text-anchor="end" font-size="12" fill="#595959">-100</text>
<line x1="725.3" x2="1146.7" y1="2538.5" y2="2538.5" stroke="#d9d9d9" stroke-width="1"/>
<text x="718" y="2542.9" text-anchor="end" font-size="12" fill="#595959">-50</text>
<text x="718" y="2525.2" text-anchor="end" font-size="12" fill="#595959">0</text>
<line x1="725.3" x2="1146.7" y1="2503.0" y2="2503.0" stroke="#d9d9d9" stroke-width="1"/>
<text x="718" y="2507.4" text-anchor="end" font-size="12" fill="#595959">50</text>
<line x1="725.3" x2="1146.7" y1="2485.2" y2="2485.2" stroke="#d9d9d9" stroke-width="1"/>
<text x="718" y="2489.6" text-anchor="end" font-size="12" fill="#595959">100</text>
<line x1="725.3" x2="1146.7" y1="2520.8" y2="2520.8" stroke="#d9d9d9" stroke-width="1"/>
<path d="M725.3 2520.8v4.5M731.5 2520.8v4.5M737.8 2520.8v4.5M744.1 2520.8v4.5M750.4 2520.8v4.5M756.7 2520.8v4.5M763.0 2520.8v4.5M769.3 2520.8v4.5M775.6 2520.8v4.5M781.9 2520.8v4.5M788.2 2520.8v4.5M794.4 2520.8v4.5M800.7 2520.8v4.5M807.0 2520.8v4.5M813.3 2520.8v4.5M819.6 2520.8v4.5M825.9 2520.8v4.5M832.2 2520.8v4.5M838.5 2520.8v4.5M844.8 2520.8v4.5M851.1 2520.8v4.5M857.3 2520.8v4.5M863.6 2520.8v4.5M869.9 2520.8v4.5M876.2 2520.8v4.5M882.5 2520.8v4.5M888.8 2520.8v4.5M895.1 2520.8v4.5M901.4 2520.8v4.5M907.7 2520.8v4.5M914.0 2520.8v4.5M920.2 2520.8v4.5M926.5 2520.8v4.5M932.8 2520.8v4.5M939.1 2520.8v4.5M945.4 2520.8v4.5M951.7 2520.8v4.5M958.0 2520.8v4.5M964.3 2520.8v4.5M970.6 2520.8v4.5M976.9 2520.8v4.5M983.1 2520.8v4.5M989.4 2520.8v4.5M995.7 2520.8v4.5M1002.0 2520.8v4.5M1008.3 2520.8v4.5M1014.6 2520.8v4.5M1020.9 2520.8v4.5M1027.2 2520.8v4.5M1033.5 2520.8v4.5M1039.8 2520.8v4.5M1046.0 2520.8v4.5M1052.3 2520.8v4.5M1058.6 2520.8v4.5M1064.9 2520.8v4.5M1071.2 2520.8v4.5M1077.5 2520.8v4.5M1083.8 2520.8v4.5M1090.1 2520.8v4.5M1096.4 2520.8v4.5M1102.7 2520.8v4.5M1108.9 2520.8v4.5M1115.2 2520.8v4.5M1121.5 2520.8v4.5M1127.8 2520.8v4.5M1134.1 2520.8v4.5M1140.4 2520.8v4.5M1146.7 2520.8v4.5" stroke="#d9d9d9" stroke-width="1"/>
<polyline points="728.4,2553.5 734.7,2542.5 741.0,2542.5 747.3,2540.7 753.6,2529.3 759.9,2532.1 766.1,2535.0 772.4,2573.7 778.7,2537.8 785.0,2536.4 791.3,2521.1 797.6,2537.8 803.9,2519.7 810.2,2514.7 816.5,2611.1 822.8,2620.7 829.0,2631.7 835.3,2623.5 841.6,2620.7 847.9,2621.4 854.2,2621.4 860.5,2633.1 866.8,2620.7 873.1,2630.3 879.4,2619.3 885.6,2614.3 891.9,2625.0 898.2,2616.1 904.5,2617.8 910.8,2609.7 917.1,2616.4 923.4,2609.7 929.7,2605.0 936.0,2594.4 942.3,2574.5 948.5,2589.4 954.8,2576.6 961.1,2582.6 967.4,2569.1 973.7,2561.7 980.0,2576.6 986.3,2574.5 992.6,2550.3 998.9,2568.1 1005.2,2571.6 1011.5,2575.2 1017.7,2566.3 1024.0,2558.1 1030.3,2573.7 1036.6,2551.7 1042.9,2542.5 1049.2,2544.6 1055.5,2544.2 1061.8,2539.6 1068.1,2536.4 1074.3,2540.7 1080.6,2548.9 1086.9,2556.3 1093.2,2540.7 1099.5,2554.2 1105.8,2548.9 1112.1,2545.3 1118.4,2548.1 1124.7,2542.5 1131.0,2566.6 1137.2,2562.7 1143.5,2548.9" fill="none" stroke="#4f81bd" stroke-width="2.8" stroke-linejoin="round"/>
<polyline points="728.4,2514.4 734.7,2506.5 741.0,2506.5 747.3,2511.9 753.6,2504.4 759.9,2513.6 766.1,2514.4 772.4,2550.3 778.7,2527.5 785.0,2533.6 791.3,2514.7 797.6,2531.4 803.9,2526.8 810.2,2537.8 816.5,2628.9 822.8,2631.7 829.0,2628.2 835.3,2633.1 841.6,2630.3 847.9,2627.1 854.2,2625.0 860.5,2628.9 866.8,2630.3 873.1,2629.9 879.4,2636.0 885.6,2619.3 891.9,2596.5 898.2,2600.1 904.5,2594.4 910.8,2595.1 917.1,2595.1 923.4,2591.5 929.7,2583.3 936.0,2572.7 942.3,2559.9 948.5,2567.3 954.8,2551.7 961.1,2558.1 967.4,2553.5 973.7,2536.4 980.0,2554.2 986.3,2549.6 992.6,2546.7 998.9,2558.1 1005.2,2546.7 1011.5,2572.3 1017.7,2552.4 1024.0,2550.6 1030.3,2566.6 1036.6,2545.3 1042.9,2552.4 1049.2,2544.2 1055.5,2546.7 1061.8,2543.2 1068.1,2540.7 1074.3,2550.3 1080.6,2555.6 1086.9,2553.1 1093.2,2547.4 1099.5,2558.5 1105.8,2552.4 1112.1,2552.4 1118.4,2548.1 1124.7,2549.6 1131.0,2564.1 1137.2,2551.7 1143.5,2538.5" fill="none" stroke="#c0504d" stroke-width="2.8" stroke-linejoin="round"/>
<polyline points="728.4,2528.6 734.7,2520.4 741.0,2517.6 747.3,2521.8 753.6,2507.2 759.9,2513.6 766.1,2517.6 772.4,2555.6 778.7,2534.3 785.0,2546.7 791.3,2529.3 797.6,2548.9 803.9,2529.3 810.2,2543.2 816.5,2643.8 822.8,2639.2 829.0,2639.2 835.3,2634.6 841.6,2627.1 847.9,2628.9 854.2,2632.4 860.5,2636.0 866.8,2622.1 873.1,2626.4 879.4,2605.4 885.6,2571.6 891.9,2578.4 898.2,2573.7 904.5,2571.6 910.8,2559.9 917.1,2559.2 923.4,2550.3 929.7,2541.4 936.0,2534.3 942.3,2516.8 948.5,2539.6 954.8,2533.2 961.1,2540.7 967.4,2524.7 973.7,2507.2 980.0,2526.8 986.3,2524.0 992.6,2514.4 998.9,2518.3 1005.2,2518.3 1011.5,2533.2 1017.7,2527.5 1024.0,2514.4 1030.3,2531.4 1036.6,2519.7 1042.9,2505.5 1049.2,2500.8 1055.5,2511.5 1061.8,2504.4 1068.1,2500.5 1074.3,2514.4 1080.6,2523.2 1086.9,2531.4 1093.2,2508.3 1099.5,2530.4 1105.8,2519.3 1112.1,2508.7 1118.4,2511.5 1124.7,2509.4 1131.0,2531.4 1137.2,2527.5 1143.5,2512.9" fill="none" stroke="#9bbb59" stroke-width="2.8" stroke-linejoin="round"/>
<text transform="translate(731.6,2671) rotate(-90)" text-anchor="end" font-size="11.8" fill="#595959">22/9/21</text>
<text transform="translate(750.5,2671) rotate(-90)" text-anchor="end" font-size="11.8" fill="#595959">22/9/26</text>
<text transform="translate(769.3,2671) rotate(-90)" text-anchor="end" font-size="11.8" fill="#595959">22/9/29</text>
<text transform="translate(788.2,2671) rotate(-90)" text-anchor="end" font-size="11.8" fill="#595959">22/10/11</text>
<text transform="translate(807.1,2671) rotate(-90)" text-anchor="end" font-size="11.8" fill="#595959">22/10/14</text>
<text transform="translate(826.0,2671) rotate(-90)" text-anchor="end" font-size="11.8" fill="#595959">22/10/19</text>
<text transform="translate(844.8,2671) rotate(-90)" text-anchor="end" font-size="11.8" fill="#595959">22/10/24</text>
<text transform="translate(863.7,2671) rotate(-90)" text-anchor="end" font-size="11.8" fill="#595959">22/10/27</text>
<text transform="translate(882.6,2671) rotate(-90)" text-anchor="end" font-size="11.8" fill="#595959">22/11/1</text>
<text transform="translate(901.4,2671) rotate(-90)" text-anchor="end" font-size="11.8" fill="#595959">22/11/23</text>
<text transform="translate(920.3,2671) rotate(-90)" text-anchor="end" font-size="11.8" fill="#595959">22/11/28</text>
<text transform="translate(939.2,2671) rotate(-90)" text-anchor="end" font-size="11.8" fill="#595959">22/12/1</text>
<text transform="translate(958.0,2671) rotate(-90)" text-anchor="end" font-size="11.8" fill="#595959">22/12/6</text>
<text transform="translate(976.9,2671) rotate(-90)" text-anchor="end" font-size="11.8" fill="#595959">22/12/9</text>
<text transform="translate(995.8,2671) rotate(-90)" text-anchor="end" font-size="11.8" fill="#595959">22/12/14</text>
<text transform="translate(1014.7,2671) rotate(-90)" text-anchor="end" font-size="11.8" fill="#595959">22/12/19</text>
<text transform="translate(1033.5,2671) rotate(-90)" text-anchor="end" font-size="11.8" fill="#595959">22/12/22</text>
<text transform="translate(1052.4,2671) rotate(-90)" text-anchor="end" font-size="11.8" fill="#595959">22/12/27</text>
<text transform="translate(1071.3,2671) rotate(-90)" text-anchor="end" font-size="11.8" fill="#595959">22/12/30</text>
<text transform="translate(1090.1,2671) rotate(-90)" text-anchor="end" font-size="11.8" fill="#595959">23/1/5</text>
<text transform="translate(1109.0,2671) rotate(-90)" text-anchor="end" font-size="11.8" fill="#595959">23/1/10</text>
<text transform="translate(1127.9,2671) rotate(-90)" text-anchor="end" font-size="11.8" fill="#595959">23/1/13</text>
<text transform="translate(1146.7,2671) rotate(-90)" text-anchor="end" font-size="11.8" fill="#595959">23/1/18</text>
<text x="950.5" y="2455" text-anchor="middle" font-size="18.5" font-weight="bold" fill="#595959">10热卷期现基差</text>
<line x1="832.8" x2="860.8" y1="2479.4" y2="2479.4" stroke="#4f81bd" stroke-width="2.5"/>
<text x="863.8" y="2483.9" font-size="12.5" fill="#595959" textLength="24.8" lengthAdjust="spacingAndGlyphs">广州</text>
<line x1="891.6" x2="919.6" y1="2479.4" y2="2479.4" stroke="#c0504d" stroke-width="2.5"/>
<text x="922.6" y="2483.9" font-size="12.5" fill="#595959" textLength="24.8" lengthAdjust="spacingAndGlyphs">上海</text>
<line x1="950.4" x2="978.4" y1="2479.4" y2="2479.4" stroke="#9bbb59" stroke-width="2.5"/>
<text x="981.4" y="2483.9" font-size="12.5" fill="#595959" textLength="24.8" lengthAdjust="spacingAndGlyphs">天津</text>
</svg>

<svg class="a" style="left:0;top:0" width="1295" height="3690" viewBox="0 0 1295 3690" font-family="Liberation Sans, sans-serif">
<defs>
 <linearGradient id="redg" x1="0" y1="0" x2="0" y2="1">
  <stop offset="0" stop-color="#ea0008"/><stop offset="0.3" stop-color="#d8040c"/><stop offset="0.62" stop-color="#b80a16"/><stop offset="1" stop-color="#8c0c1c"/>
 </linearGradient>
 <radialGradient id="redv" cx="0.5" cy="0.35" r="0.75">
  <stop offset="0.5" stop-color="#000" stop-opacity="0"/><stop offset="1" stop-color="#000" stop-opacity="0.25"/>
 </radialGradient>
 <filter id="sh" x="-5%" y="-5%" width="110%" height="120%"><feDropShadow dx="2" dy="3" stdDeviation="1.5" flood-color="#5a0008" flood-opacity="0.8"/></filter>
 <filter id="sh2" x="-5%" y="-5%" width="110%" height="120%"><feDropShadow dx="2" dy="2" stdDeviation="1.2" flood-color="#400" flood-opacity="0.9"/></filter>
 <linearGradient id="darkbg" x1="0" y1="0" x2="0" y2="1">
  <stop offset="0" stop-color="#0b0f13"/><stop offset="0.35" stop-color="#0d0f12"/><stop offset="0.55" stop-color="#2a1a12"/><stop offset="0.8" stop-color="#3d2616"/><stop offset="1" stop-color="#1c120c"/>
 </linearGradient>
 <linearGradient id="gold" x1="0" y1="0" x2="1" y2="1">
  <stop offset="0" stop-color="#f3ddb0"/><stop offset="0.5" stop-color="#e9c98c"/><stop offset="1" stop-color="#d9a95a"/>
 </linearGradient>
 <linearGradient id="gold2" x1="0" y1="0" x2="0" y2="1">
  <stop offset="0" stop-color="#f0d7a2"/><stop offset="1" stop-color="#dcae5e"/>
 </linearGradient>
 <linearGradient id="circg" x1="0" y1="0" x2="1" y2="1">
  <stop offset="0" stop-color="#b98a45"/><stop offset="0.6" stop-color="#d9ab5e"/><stop offset="1" stop-color="#e8bf72"/>
 </linearGradient>
 <linearGradient id="circg2" gradientUnits="userSpaceOnUse" x1="1100" y1="2814" x2="1180" y2="2938">
  <stop offset="0" stop-color="#7a5c34"/><stop offset="0.5" stop-color="#b08848"/><stop offset="1" stop-color="#e2b460"/>
 </linearGradient>
 <linearGradient id="band" x1="0" y1="0" x2="1" y2="0">
  <stop offset="0" stop-color="#7a5430" stop-opacity="0.9"/><stop offset="0.6" stop-color="#a0743c" stop-opacity="0.6"/><stop offset="1" stop-color="#c8964a" stop-opacity="0.2"/>
 </linearGradient>
 <linearGradient id="fadeR" x1="0" y1="0" x2="1" y2="0">
  <stop offset="0" stop-color="#0c0c0e" stop-opacity="0"/><stop offset="0.74" stop-color="#0c0c0e" stop-opacity="0"/><stop offset="0.88" stop-color="#0c0c0e" stop-opacity="0.8"/><stop offset="1" stop-color="#0c0c0e" stop-opacity="0.92"/>
 </linearGradient>
 <filter id="blur8" x="-50%" y="-50%" width="200%" height="200%"><feGaussianBlur stdDeviation="12"/></filter>
 <clipPath id="adclip"><rect x="671" y="2814" width="582" height="428"/></clipPath>
</defs>
<rect x="50" y="2819" width="595" height="425" fill="#2a1020"/>
<rect x="51" y="2820" width="593" height="421" fill="url(#redg)"/>
<rect x="51" y="2820" width="593" height="421" fill="url(#redv)"/>
<rect x="644" y="2820" width="1.5" height="423" fill="#f4f0f0"/>
<rect x="51" y="3240" width="594" height="1.5" fill="#d8c8cc"/>
<text x="64" y="2904.8" font-size="64" font-weight="bold" fill="#fff" stroke="#fff" stroke-width="0.8" filter="url(#sh)" textLength="564" lengthAdjust="spacingAndGlyphs">唐山陶鑫贸易有限公司</text>
<text x="54" y="3002.7" font-size="50.3" font-weight="bold" fill="#fff" stroke="#fff" stroke-width="0.6" filter="url(#sh)" textLength="584" lengthAdjust="spacingAndGlyphs">主营:安丰/纵横 热轧卷板 一片起售</text>
<text x="82" y="3086.4" font-size="47.8" font-weight="bold" fill="#fff10a" stroke="#fff10a" stroke-width="0.8" filter="url(#sh2)" textLength="397" lengthAdjust="spacingAndGlyphs">所有规格可定尺开平</text>
<text x="62" y="3161.1" font-size="21.4" fill="#fff" textLength="418" lengthAdjust="spacingAndGlyphs">地址：唐山市丰南区盈升钢材市场E-11号</text>
<text x="62" y="3216.3" font-size="22" fill="#fff">电话:</text>
<text x="126" y="3216.3" font-size="28" fill="#fff" textLength="153" lengthAdjust="spacingAndGlyphs">15081655533</text>
<text x="322" y="3216.3" font-size="28" fill="#fff" textLength="156" lengthAdjust="spacingAndGlyphs">13582952298</text>
<rect x="492" y="3045" width="136" height="181.7" fill="#fff"/>
<path d="M501.60 3057.40h22.32v4.24h-22.32zM527.11 3057.40h6.38v4.24h-6.38zM536.68 3057.40h3.19v4.24h-3.19zM543.06 3057.40h6.38v4.24h-6.38zM552.63 3057.40h15.95v4.24h-15.95zM571.76 3057.40h6.38v4.24h-6.38zM587.71 3057.40h3.19v4.24h-3.19zM597.28 3057.40h22.32v4.24h-22.32zM501.60 3061.64h3.19v4.24h-3.19zM520.74 3061.64h3.19v4.24h-3.19zM527.11 3061.64h3.19v4.24h-3.19zM533.49 3061.64h12.76v4.24h-12.76zM549.44 3061.64h3.19v4.24h-3.19zM559.01 3061.64h3.19v4.24h-3.19zM565.38 3061.64h9.57v4.24h-9.57zM578.14 3061.64h6.38v4.24h-6.38zM587.71 3061.64h6.38v4.24h-6.38zM597.28 3061.64h3.19v4.24h-3.19zM616.41 3061.64h3.19v4.24h-3.19zM501.60 3065.89h3.19v4.24h-3.19zM507.98 3065.89h9.57v4.24h-9.57zM520.74 3065.89h3.19v4.24h-3.19zM533.49 3065.89h3.19v4.24h-3.19zM549.44 3065.89h3.19v4.24h-3.19zM555.82 3065.89h6.38v4.24h-6.38zM565.38 3065.89h9.57v4.24h-9.57zM587.71 3065.89h3.19v4.24h-3.19zM597.28 3065.89h3.19v4.24h-3.19zM603.65 3065.89h9.57v4.24h-9.57zM616.41 3065.89h3.19v4.24h-3.19zM501.60 3070.13h3.19v4.24h-3.19zM507.98 3070.13h9.57v4.24h-9.57zM520.74 3070.13h3.19v4.24h-3.19zM533.49 3070.13h3.19v4.24h-3.19zM543.06 3070.13h3.19v4.24h-3.19zM549.44 3070.13h3.19v4.24h-3.19zM565.38 3070.13h6.38v4.24h-6.38zM574.95 3070.13h15.95v4.24h-15.95zM597.28 3070.13h3.19v4.24h-3.19zM603.65 3070.13h9.57v4.24h-9.57zM616.41 3070.13h3.19v4.24h-3.19zM501.60 3074.37h3.19v4.24h-3.19zM507.98 3074.37h9.57v4.24h-9.57zM520.74 3074.37h3.19v4.24h-3.19zM527.11 3074.37h9.57v4.24h-9.57zM539.87 3074.37h6.38v4.24h-6.38zM559.01 3074.37h9.57v4.24h-9.57zM574.95 3074.37h15.95v4.24h-15.95zM597.28 3074.37h3.19v4.24h-3.19zM603.65 3074.37h9.57v4.24h-9.57zM616.41 3074.37h3.19v4.24h-3.19zM501.60 3078.62h3.19v4.24h-3.19zM520.74 3078.62h3.19v4.24h-3.19zM527.11 3078.62h12.76v4.24h-12.76zM559.01 3078.62h3.19v4.24h-3.19zM574.95 3078.62h9.57v4.24h-9.57zM587.71 3078.62h6.38v4.24h-6.38zM597.28 3078.62h3.19v4.24h-3.19zM616.41 3078.62h3.19v4.24h-3.19zM501.60 3082.86h22.32v4.24h-22.32zM527.11 3082.86h3.19v4.24h-3.19zM533.49 3082.86h3.19v4.24h-3.19zM539.87 3082.86h3.19v4.24h-3.19zM546.25 3082.86h3.19v4.24h-3.19zM552.63 3082.86h3.19v4.24h-3.19zM559.01 3082.86h3.19v4.24h-3.19zM565.38 3082.86h3.19v4.24h-3.19zM571.76 3082.86h3.19v4.24h-3.19zM578.14 3082.86h3.19v4.24h-3.19zM584.52 3082.86h3.19v4.24h-3.19zM590.90 3082.86h3.19v4.24h-3.19zM597.28 3082.86h22.32v4.24h-22.32zM527.11 3087.10h28.70v4.24h-28.70zM562.19 3087.10h15.95v4.24h-15.95zM584.52 3087.10h9.57v4.24h-9.57zM501.60 3091.35h9.57v4.24h-9.57zM514.36 3091.35h9.57v4.24h-9.57zM530.30 3091.35h3.19v4.24h-3.19zM536.68 3091.35h3.19v4.24h-3.19zM552.63 3091.35h9.57v4.24h-9.57zM571.76 3091.35h6.38v4.24h-6.38zM597.28 3091.35h3.19v4.24h-3.19zM603.65 3091.35h15.95v4.24h-15.95zM507.98 3095.59h3.19v4.24h-3.19zM523.92 3095.59h15.95v4.24h-15.95zM549.44 3095.59h3.19v4.24h-3.19zM559.01 3095.59h3.19v4.24h-3.19zM574.95 3095.59h6.38v4.24h-6.38zM584.52 3095.59h3.19v4.24h-3.19zM594.09 3095.59h6.38v4.24h-6.38zM606.84 3095.59h9.57v4.24h-9.57zM504.79 3099.83h3.19v4.24h-3.19zM517.55 3099.83h6.38v4.24h-6.38zM527.11 3099.83h6.38v4.24h-6.38zM546.25 3099.83h3.19v4.24h-3.19zM555.82 3099.83h12.76v4.24h-12.76zM571.76 3099.83h9.57v4.24h-9.57zM584.52 3099.83h6.38v4.24h-6.38zM597.28 3099.83h3.19v4.24h-3.19zM613.22 3099.83h6.38v4.24h-6.38zM501.60 3104.08h6.38v4.24h-6.38zM511.17 3104.08h6.38v4.24h-6.38zM527.11 3104.08h3.19v4.24h-3.19zM539.87 3104.08h3.19v4.24h-3.19zM546.25 3104.08h6.38v4.24h-6.38zM568.57 3104.08h3.19v4.24h-3.19zM584.52 3104.08h3.19v4.24h-3.19zM590.90 3104.08h3.19v4.24h-3.19zM606.84 3104.08h3.19v4.24h-3.19zM501.60 3108.32h22.32v4.24h-22.32zM533.49 3108.32h3.19v4.24h-3.19zM543.06 3108.32h3.19v4.24h-3.19zM552.63 3108.32h3.19v4.24h-3.19zM559.01 3108.32h6.38v4.24h-6.38zM571.76 3108.32h6.38v4.24h-6.38zM581.33 3108.32h9.57v4.24h-9.57zM594.09 3108.32h3.19v4.24h-3.19zM600.46 3108.32h9.57v4.24h-9.57zM616.41 3108.32h3.19v4.24h-3.19zM511.17 3112.56h9.57v4.24h-9.57zM527.11 3112.56h9.57v4.24h-9.57zM543.06 3112.56h6.38v4.24h-6.38zM559.01 3112.56h6.38v4.24h-6.38zM568.57 3112.56h6.38v4.24h-6.38zM584.52 3112.56h3.19v4.24h-3.19zM590.90 3112.56h3.19v4.24h-3.19zM597.28 3112.56h6.38v4.24h-6.38zM610.03 3112.56h6.38v4.24h-6.38zM501.60 3116.81h25.51v4.24h-25.51zM530.30 3116.81h3.19v4.24h-3.19zM536.68 3116.81h15.95v4.24h-15.95zM559.01 3116.81h6.38v4.24h-6.38zM568.57 3116.81h3.19v4.24h-3.19zM574.95 3116.81h6.38v4.24h-6.38zM584.52 3116.81h3.19v4.24h-3.19zM597.28 3116.81h3.19v4.24h-3.19zM610.03 3116.81h9.57v4.24h-9.57zM501.60 3121.05h6.38v4.24h-6.38zM511.17 3121.05h9.57v4.24h-9.57zM533.49 3121.05h22.32v4.24h-22.32zM565.38 3121.05h3.19v4.24h-3.19zM571.76 3121.05h15.95v4.24h-15.95zM590.90 3121.05h3.19v4.24h-3.19zM597.28 3121.05h22.32v4.24h-22.32zM501.60 3125.29h3.19v4.24h-3.19zM520.74 3125.29h3.19v4.24h-3.19zM527.11 3125.29h6.38v4.24h-6.38zM536.68 3125.29h3.19v4.24h-3.19zM546.25 3125.29h3.19v4.24h-3.19zM565.38 3125.29h3.19v4.24h-3.19zM597.28 3125.29h15.95v4.24h-15.95zM511.17 3129.54h6.38v4.24h-6.38zM536.68 3129.54h3.19v4.24h-3.19zM543.06 3129.54h9.57v4.24h-9.57zM555.82 3129.54h3.19v4.24h-3.19zM565.38 3129.54h9.57v4.24h-9.57zM587.71 3129.54h9.57v4.24h-9.57zM600.46 3129.54h3.19v4.24h-3.19zM606.84 3129.54h9.57v4.24h-9.57zM507.98 3133.78h3.19v4.24h-3.19zM514.36 3133.78h12.76v4.24h-12.76zM530.30 3133.78h3.19v4.24h-3.19zM539.87 3133.78h6.38v4.24h-6.38zM552.63 3133.78h9.57v4.24h-9.57zM565.38 3133.78h3.19v4.24h-3.19zM571.76 3133.78h3.19v4.24h-3.19zM581.33 3133.78h3.19v4.24h-3.19zM597.28 3133.78h3.19v4.24h-3.19zM603.65 3133.78h15.95v4.24h-15.95zM501.60 3138.02h12.76v4.24h-12.76zM517.55 3138.02h3.19v4.24h-3.19zM530.30 3138.02h3.19v4.24h-3.19zM543.06 3138.02h9.57v4.24h-9.57zM559.01 3138.02h15.95v4.24h-15.95zM578.14 3138.02h3.19v4.24h-3.19zM584.52 3138.02h6.38v4.24h-6.38zM594.09 3138.02h6.38v4.24h-6.38zM507.98 3142.26h3.19v4.24h-3.19zM514.36 3142.26h3.19v4.24h-3.19zM520.74 3142.26h3.19v4.24h-3.19zM527.11 3142.26h6.38v4.24h-6.38zM536.68 3142.26h12.76v4.24h-12.76zM555.82 3142.26h3.19v4.24h-3.19zM562.19 3142.26h3.19v4.24h-3.19zM568.57 3142.26h12.76v4.24h-12.76zM584.52 3142.26h6.38v4.24h-6.38zM597.28 3142.26h22.32v4.24h-22.32zM501.60 3146.51h3.19v4.24h-3.19zM514.36 3146.51h6.38v4.24h-6.38zM527.11 3146.51h12.76v4.24h-12.76zM543.06 3146.51h3.19v4.24h-3.19zM555.82 3146.51h15.95v4.24h-15.95zM581.33 3146.51h6.38v4.24h-6.38zM594.09 3146.51h3.19v4.24h-3.19zM600.46 3146.51h6.38v4.24h-6.38zM501.60 3150.75h9.57v4.24h-9.57zM520.74 3150.75h3.19v4.24h-3.19zM533.49 3150.75h3.19v4.24h-3.19zM539.87 3150.75h3.19v4.24h-3.19zM546.25 3150.75h3.19v4.24h-3.19zM555.82 3150.75h9.57v4.24h-9.57zM571.76 3150.75h6.38v4.24h-6.38zM584.52 3150.75h6.38v4.24h-6.38zM594.09 3150.75h9.57v4.24h-9.57zM613.22 3150.75h6.38v4.24h-6.38zM501.60 3154.99h3.19v4.24h-3.19zM511.17 3154.99h9.57v4.24h-9.57zM527.11 3154.99h6.38v4.24h-6.38zM539.87 3154.99h12.76v4.24h-12.76zM555.82 3154.99h3.19v4.24h-3.19zM568.57 3154.99h3.19v4.24h-3.19zM574.95 3154.99h3.19v4.24h-3.19zM581.33 3154.99h6.38v4.24h-6.38zM590.90 3154.99h3.19v4.24h-3.19zM597.28 3154.99h12.76v4.24h-12.76zM616.41 3154.99h3.19v4.24h-3.19zM501.60 3159.24h6.38v4.24h-6.38zM511.17 3159.24h15.95v4.24h-15.95zM543.06 3159.24h6.38v4.24h-6.38zM555.82 3159.24h3.19v4.24h-3.19zM562.19 3159.24h22.32v4.24h-22.32zM587.71 3159.24h3.19v4.24h-3.19zM594.09 3159.24h6.38v4.24h-6.38zM606.84 3159.24h12.76v4.24h-12.76zM504.79 3163.48h6.38v4.24h-6.38zM514.36 3163.48h6.38v4.24h-6.38zM530.30 3163.48h9.57v4.24h-9.57zM543.06 3163.48h3.19v4.24h-3.19zM552.63 3163.48h6.38v4.24h-6.38zM565.38 3163.48h3.19v4.24h-3.19zM571.76 3163.48h9.57v4.24h-9.57zM594.09 3163.48h9.57v4.24h-9.57zM610.03 3163.48h9.57v4.24h-9.57zM501.60 3167.72h3.19v4.24h-3.19zM507.98 3167.72h3.19v4.24h-3.19zM520.74 3167.72h3.19v4.24h-3.19zM530.30 3167.72h9.57v4.24h-9.57zM543.06 3167.72h6.38v4.24h-6.38zM552.63 3167.72h9.57v4.24h-9.57zM565.38 3167.72h3.19v4.24h-3.19zM578.14 3167.72h28.70v4.24h-28.70zM610.03 3167.72h9.57v4.24h-9.57zM517.55 3171.97h3.19v4.24h-3.19zM527.11 3171.97h3.19v4.24h-3.19zM533.49 3171.97h3.19v4.24h-3.19zM539.87 3171.97h12.76v4.24h-12.76zM559.01 3171.97h6.38v4.24h-6.38zM571.76 3171.97h3.19v4.24h-3.19zM584.52 3171.97h3.19v4.24h-3.19zM597.28 3171.97h9.57v4.24h-9.57zM616.41 3171.97h3.19v4.24h-3.19zM501.60 3176.21h9.57v4.24h-9.57zM520.74 3176.21h6.38v4.24h-6.38zM530.30 3176.21h6.38v4.24h-6.38zM543.06 3176.21h3.19v4.24h-3.19zM552.63 3176.21h15.95v4.24h-15.95zM574.95 3176.21h12.76v4.24h-12.76zM590.90 3176.21h3.19v4.24h-3.19zM597.28 3176.21h3.19v4.24h-3.19zM603.65 3176.21h9.57v4.24h-9.57zM527.11 3180.45h9.57v4.24h-9.57zM543.06 3180.45h6.38v4.24h-6.38zM552.63 3180.45h9.57v4.24h-9.57zM565.38 3180.45h3.19v4.24h-3.19zM571.76 3180.45h6.38v4.24h-6.38zM584.52 3180.45h3.19v4.24h-3.19zM597.28 3180.45h9.57v4.24h-9.57zM610.03 3180.45h6.38v4.24h-6.38zM501.60 3184.70h22.32v4.24h-22.32zM527.11 3184.70h3.19v4.24h-3.19zM533.49 3184.70h3.19v4.24h-3.19zM539.87 3184.70h9.57v4.24h-9.57zM559.01 3184.70h3.19v4.24h-3.19zM565.38 3184.70h3.19v4.24h-3.19zM571.76 3184.70h6.38v4.24h-6.38zM584.52 3184.70h22.32v4.24h-22.32zM613.22 3184.70h6.38v4.24h-6.38zM501.60 3188.94h3.19v4.24h-3.19zM520.74 3188.94h3.19v4.24h-3.19zM533.49 3188.94h6.38v4.24h-6.38zM543.06 3188.94h3.19v4.24h-3.19zM555.82 3188.94h3.19v4.24h-3.19zM562.19 3188.94h6.38v4.24h-6.38zM574.95 3188.94h9.57v4.24h-9.57zM587.71 3188.94h9.57v4.24h-9.57zM603.65 3188.94h3.19v4.24h-3.19zM613.22 3188.94h3.19v4.24h-3.19zM501.60 3193.18h3.19v4.24h-3.19zM507.98 3193.18h9.57v4.24h-9.57zM520.74 3193.18h3.19v4.24h-3.19zM527.11 3193.18h3.19v4.24h-3.19zM539.87 3193.18h6.38v4.24h-6.38zM549.44 3193.18h3.19v4.24h-3.19zM555.82 3193.18h9.57v4.24h-9.57zM568.57 3193.18h6.38v4.24h-6.38zM581.33 3193.18h25.51v4.24h-25.51zM610.03 3193.18h3.19v4.24h-3.19zM616.41 3193.18h3.19v4.24h-3.19zM501.60 3197.43h3.19v4.24h-3.19zM507.98 3197.43h9.57v4.24h-9.57zM520.74 3197.43h3.19v4.24h-3.19zM536.68 3197.43h3.19v4.24h-3.19zM543.06 3197.43h3.19v4.24h-3.19zM549.44 3197.43h3.19v4.24h-3.19zM565.38 3197.43h3.19v4.24h-3.19zM571.76 3197.43h3.19v4.24h-3.19zM581.33 3197.43h3.19v4.24h-3.19zM590.90 3197.43h6.38v4.24h-6.38zM600.46 3197.43h3.19v4.24h-3.19zM606.84 3197.43h3.19v4.24h-3.19zM613.22 3197.43h3.19v4.24h-3.19zM501.60 3201.67h3.19v4.24h-3.19zM507.98 3201.67h9.57v4.24h-9.57zM520.74 3201.67h3.19v4.24h-3.19zM530.30 3201.67h6.38v4.24h-6.38zM539.87 3201.67h12.76v4.24h-12.76zM562.19 3201.67h3.19v4.24h-3.19zM568.57 3201.67h3.19v4.24h-3.19zM578.14 3201.67h3.19v4.24h-3.19zM594.09 3201.67h3.19v4.24h-3.19zM603.65 3201.67h3.19v4.24h-3.19zM610.03 3201.67h3.19v4.24h-3.19zM501.60 3205.91h3.19v4.24h-3.19zM520.74 3205.91h3.19v4.24h-3.19zM527.11 3205.91h3.19v4.24h-3.19zM533.49 3205.91h6.38v4.24h-6.38zM543.06 3205.91h3.19v4.24h-3.19zM549.44 3205.91h3.19v4.24h-3.19zM565.38 3205.91h12.76v4.24h-12.76zM581.33 3205.91h3.19v4.24h-3.19zM590.90 3205.91h6.38v4.24h-6.38zM600.46 3205.91h19.14v4.24h-19.14zM501.60 3210.16h22.32v4.24h-22.32zM533.49 3210.16h3.19v4.24h-3.19zM539.87 3210.16h6.38v4.24h-6.38zM549.44 3210.16h9.57v4.24h-9.57zM568.57 3210.16h9.57v4.24h-9.57zM584.52 3210.16h3.19v4.24h-3.19zM590.90 3210.16h3.19v4.24h-3.19zM600.46 3210.16h3.19v4.24h-3.19zM606.84 3210.16h3.19v4.24h-3.19zM613.22 3210.16h6.38v4.24h-6.38z" fill="#000"/>
<rect x="544.6" y="3116" width="31" height="39.5" rx="4" fill="#fff"/>
<rect x="546" y="3117.5" width="28.5" height="36.5" rx="3" fill="#7f95ad"/>
<ellipse cx="560" cy="3133" rx="6" ry="8" fill="#e8d0c0"/><rect x="552" y="3140" width="16" height="14" rx="4" fill="#3a3a48"/>
<g clip-path="url(#adclip)">
<rect x="671" y="2814" width="582" height="428" fill="url(#darkbg)"/>
<linearGradient id="bg0" gradientUnits="userSpaceOnUse" x1="668" y1="2925" x2="639.9" y2="2997.0"><stop offset="0" stop-color="#110d0c"/><stop offset="1" stop-color="#4e3322"/></linearGradient>
<polygon points="668,2925 1253,3153.2 1253,3236.2 668,3008" fill="url(#bg0)"/>
<linearGradient id="bg1" gradientUnits="userSpaceOnUse" x1="668" y1="3008" x2="639.4" y2="3081.4"><stop offset="0" stop-color="#2e1e12"/><stop offset="1" stop-color="#a67844"/></linearGradient>
<polygon points="668,3008 1253,3236.2 1253,3320.8 668,3092.6" fill="url(#bg1)"/>
<linearGradient id="bg2" gradientUnits="userSpaceOnUse" x1="668" y1="3092.6" x2="639.3" y2="3166.1"><stop offset="0" stop-color="#3e2a18"/><stop offset="1" stop-color="#c9a05a"/></linearGradient>
<polygon points="668,3092.6 1253,3320.8 1253,3405.5 668,3177.3" fill="url(#bg2)"/>
<linearGradient id="bg3" gradientUnits="userSpaceOnUse" x1="668" y1="3177.3" x2="639.3" y2="3250.8"><stop offset="0" stop-color="#121010"/><stop offset="1" stop-color="#3a2c1a"/></linearGradient>
<polygon points="668,3177.3 1253,3405.5 1253,3490.2 668,3262" fill="url(#bg3)"/>
<ellipse cx="900" cy="3232" rx="70" ry="25" fill="#c89a50" opacity="0.55" filter="url(#blur8)"/>
<ellipse cx="1120" cy="3150" rx="60" ry="60" fill="#b08040" opacity="0.35" filter="url(#blur8)"/>
<rect x="671" y="2814" width="582" height="428" fill="url(#fadeR)"/>
<circle cx="754" cy="2786" r="45" fill="url(#circg)"/>
<circle cx="1267.4" cy="2682.5" r="255.4" fill="url(#circg2)"/>
<rect x="812" y="3046" width="3.1" height="2.7" fill="#d6a94e" opacity="0.8"/>
<rect x="1035" y="2847" width="2.0" height="3.2" fill="#d6a94e" opacity="0.8"/>
<rect x="824" y="2917" width="5.0" height="2.4" fill="#d6a94e" opacity="0.8"/>
<rect x="1156" y="3018" width="3.9" height="1.8" fill="#d6a94e" opacity="0.8"/>
<rect x="1040" y="3180" width="3.6" height="3.0" fill="#d6a94e" opacity="0.8"/>
<rect x="1061" y="2847" width="4.3" height="2.7" fill="#d6a94e" opacity="0.8"/>
<rect x="848" y="2833" width="4.6" height="2.4" fill="#d6a94e" opacity="0.8"/>
<rect x="1088" y="3185" width="4.1" height="3.3" fill="#d6a94e" opacity="0.8"/>
<rect x="902" y="3152" width="3.3" height="3.4" fill="#d6a94e" opacity="0.8"/>
<rect x="1180" y="2860" width="2.4" height="1.9" fill="#d6a94e" opacity="0.8"/>
<rect x="1230" y="3001" width="3.9" height="2.1" fill="#d6a94e" opacity="0.8"/>
<rect x="967" y="2980" width="3.1" height="2.7" fill="#d6a94e" opacity="0.8"/>
<rect x="1011" y="3195" width="4.0" height="3.4" fill="#d6a94e" opacity="0.8"/>
<rect x="1167" y="3231" width="4.0" height="1.8" fill="#d6a94e" opacity="0.8"/>
<rect x="1170" y="3220" width="4.7" height="2.6" fill="#d6a94e" opacity="0.8"/>
<rect x="1085" y="2908" width="4.5" height="2.6" fill="#d6a94e" opacity="0.8"/>
<rect x="839" y="2846" width="4.6" height="3.5" fill="#d6a94e" opacity="0.8"/>
<rect x="726" y="3152" width="3.2" height="1.8" fill="#d6a94e" opacity="0.8"/>
<rect x="844" y="3139" width="4.6" height="1.6" fill="#d6a94e" opacity="0.8"/>
<rect x="1028" y="2839" width="4.2" height="2.2" fill="#d6a94e" opacity="0.8"/>
<rect x="1182" y="3227" width="3.5" height="3.5" fill="#d6a94e" opacity="0.8"/>
<rect x="853" y="2852" width="3.8" height="1.6" fill="#d6a94e" opacity="0.8"/>
<rect x="788" y="2989" width="3.8" height="1.8" fill="#d6a94e" opacity="0.8"/>
<rect x="699" y="3180" width="2.9" height="3.4" fill="#d6a94e" opacity="0.8"/>
<rect x="1191" y="2977" width="3.4" height="2.5" fill="#d6a94e" opacity="0.8"/>
<rect x="1045" y="3067" width="3.7" height="2.7" fill="#d6a94e" opacity="0.8"/>
<rect x="1216" y="3030" width="3.3" height="2.9" fill="#d6a94e" opacity="0.8"/>
<rect x="812" y="2945" width="4.9" height="2.5" fill="#d6a94e" opacity="0.8"/>
<rect x="990" y="2825" width="3.2" height="2.7" fill="#d6a94e" opacity="0.8"/>
<rect x="687" y="3076" width="3.9" height="1.6" fill="#d6a94e" opacity="0.8"/>
<rect x="1036" y="3013" width="4.0" height="2.2" fill="#d6a94e" opacity="0.8"/>
<rect x="1081" y="3126" width="2.1" height="1.6" fill="#d6a94e" opacity="0.8"/>
<rect x="1064" y="3220" width="2.8" height="2.4" fill="#d6a94e" opacity="0.8"/>
<rect x="1016" y="2953" width="3.1" height="2.1" fill="#d6a94e" opacity="0.8"/>
<rect x="887" y="3067" width="2.9" height="2.3" fill="#d6a94e" opacity="0.8"/>
<rect x="1119" y="2831" width="3.7" height="3.0" fill="#d6a94e" opacity="0.8"/>
<rect x="853" y="2912" width="4.4" height="2.0" fill="#d6a94e" opacity="0.8"/>
<rect x="783" y="3001" width="4.1" height="1.7" fill="#d6a94e" opacity="0.8"/>
<rect x="860" y="2959" width="4.5" height="2.4" fill="#d6a94e" opacity="0.8"/>
<rect x="1167" y="2890" width="3.0" height="2.8" fill="#d6a94e" opacity="0.8"/>
<rect x="1184" y="3007" width="2.7" height="1.7" fill="#d6a94e" opacity="0.8"/>
<rect x="980" y="2899" width="4.4" height="3.2" fill="#d6a94e" opacity="0.8"/>
<rect x="781" y="2936" width="4.4" height="2.8" fill="#d6a94e" opacity="0.8"/>
<rect x="1139" y="2963" width="2.4" height="2.1" fill="#d6a94e" opacity="0.8"/>
<rect x="1131" y="2933" width="3.0" height="2.3" fill="#d6a94e" opacity="0.8"/>
<rect x="744" y="2885.5" width="257" height="35.5" rx="4" fill="#ffffff" opacity="0.13"/>
<text x="810" y="2977" font-size="118" font-weight="bold" fill="url(#gold)" stroke="url(#gold)" stroke-width="3.5" stroke-linejoin="round" textLength="327" lengthAdjust="spacingAndGlyphs">火爆</text>
<g transform="skewX(-14)"><text x="1581" y="3126" font-size="120" font-weight="bold" fill="url(#gold2)" stroke="url(#gold2)" stroke-width="3.5" stroke-linejoin="round" textLength="322" lengthAdjust="spacingAndGlyphs">招商</text></g>
<rect x="746.3" y="3160.4" width="450" height="37.8" rx="3" fill="#050505"/>
<rect x="746.3" y="3160.4" width="450" height="37.8" rx="3" fill="none" stroke="#3a3020" stroke-width="1"/>
<g transform="skewX(-12)"><text x="1522" y="3188" font-size="21" font-weight="bold" fill="#f4e6cc" textLength="250" lengthAdjust="spacing">快人一步，抢占商机</text></g>
</g>
<rect x="671" y="2813.5" width="582" height="1" fill="#c8c4d0" opacity="0.8"/>
<rect x="1252" y="2814" width="1" height="428" fill="#9a98a8" opacity="0.8"/>
</svg>

<svg class="a" style="left:0;top:0" width="1295" height="3690" viewBox="0 0 1295 3690" font-family="Liberation Sans, sans-serif">
<text x="105" y="3317" font-size="32.5" fill="#fff" stroke="#3d3c5c" stroke-width="0.7" textLength="1117" lengthAdjust="spacingAndGlyphs">如需更为全面数据报告，请联系兰格钢铁网，具体联系人姓名及联系电话如下：</text>
<rect x="27" y="3327" width="1247" height="1.6" fill="#fff"/>
<rect x="27" y="3326" width="67" height="3" fill="#fff"/>
<rect x="1227" y="3326" width="47" height="3" fill="#fff"/>
<rect x="27" y="3331.4" width="1247" height="2" fill="#fff"/>
<rect x="161" y="3355" width="135" height="133.5" fill="#fff"/>
<path d="M162.50 3356.50h24.97v3.57h-24.97zM191.04 3356.50h3.57v3.57h-3.57zM201.74 3356.50h3.57v3.57h-3.57zM212.45 3356.50h3.57v3.57h-3.57zM226.72 3356.50h10.70v3.57h-10.70zM244.55 3356.50h3.57v3.57h-3.57zM262.39 3356.50h3.57v3.57h-3.57zM269.53 3356.50h24.97v3.57h-24.97zM162.50 3360.07h3.57v3.57h-3.57zM183.91 3360.07h3.57v3.57h-3.57zM191.04 3360.07h3.57v3.57h-3.57zM198.18 3360.07h21.41v3.57h-21.41zM230.28 3360.07h3.57v3.57h-3.57zM237.42 3360.07h7.14v3.57h-7.14zM258.82 3360.07h7.14v3.57h-7.14zM269.53 3360.07h3.57v3.57h-3.57zM290.93 3360.07h3.57v3.57h-3.57zM162.50 3363.64h3.57v3.57h-3.57zM169.64 3363.64h10.70v3.57h-10.70zM183.91 3363.64h3.57v3.57h-3.57zM191.04 3363.64h7.14v3.57h-7.14zM201.74 3363.64h3.57v3.57h-3.57zM208.88 3363.64h3.57v3.57h-3.57zM219.58 3363.64h7.14v3.57h-7.14zM230.28 3363.64h3.57v3.57h-3.57zM237.42 3363.64h7.14v3.57h-7.14zM251.69 3363.64h10.70v3.57h-10.70zM269.53 3363.64h3.57v3.57h-3.57zM276.66 3363.64h10.70v3.57h-10.70zM290.93 3363.64h3.57v3.57h-3.57zM162.50 3367.20h3.57v3.57h-3.57zM169.64 3367.20h10.70v3.57h-10.70zM183.91 3367.20h3.57v3.57h-3.57zM194.61 3367.20h14.27v3.57h-14.27zM212.45 3367.20h3.57v3.57h-3.57zM219.58 3367.20h7.14v3.57h-7.14zM230.28 3367.20h3.57v3.57h-3.57zM237.42 3367.20h14.27v3.57h-14.27zM258.82 3367.20h3.57v3.57h-3.57zM269.53 3367.20h3.57v3.57h-3.57zM276.66 3367.20h10.70v3.57h-10.70zM290.93 3367.20h3.57v3.57h-3.57zM162.50 3370.77h3.57v3.57h-3.57zM169.64 3370.77h10.70v3.57h-10.70zM183.91 3370.77h3.57v3.57h-3.57zM191.04 3370.77h7.14v3.57h-7.14zM205.31 3370.77h3.57v3.57h-3.57zM212.45 3370.77h7.14v3.57h-7.14zM223.15 3370.77h14.27v3.57h-14.27zM240.99 3370.77h3.57v3.57h-3.57zM248.12 3370.77h7.14v3.57h-7.14zM258.82 3370.77h3.57v3.57h-3.57zM269.53 3370.77h3.57v3.57h-3.57zM276.66 3370.77h10.70v3.57h-10.70zM290.93 3370.77h3.57v3.57h-3.57zM162.50 3374.34h3.57v3.57h-3.57zM183.91 3374.34h3.57v3.57h-3.57zM194.61 3374.34h7.14v3.57h-7.14zM208.88 3374.34h7.14v3.57h-7.14zM223.15 3374.34h3.57v3.57h-3.57zM237.42 3374.34h10.70v3.57h-10.70zM251.69 3374.34h3.57v3.57h-3.57zM258.82 3374.34h3.57v3.57h-3.57zM269.53 3374.34h3.57v3.57h-3.57zM290.93 3374.34h3.57v3.57h-3.57zM162.50 3377.91h24.97v3.57h-24.97zM191.04 3377.91h3.57v3.57h-3.57zM198.18 3377.91h3.57v3.57h-3.57zM205.31 3377.91h3.57v3.57h-3.57zM212.45 3377.91h3.57v3.57h-3.57zM219.58 3377.91h3.57v3.57h-3.57zM226.72 3377.91h3.57v3.57h-3.57zM233.85 3377.91h3.57v3.57h-3.57zM240.99 3377.91h3.57v3.57h-3.57zM248.12 3377.91h3.57v3.57h-3.57zM255.26 3377.91h3.57v3.57h-3.57zM262.39 3377.91h3.57v3.57h-3.57zM269.53 3377.91h24.97v3.57h-24.97zM194.61 3381.47h7.14v3.57h-7.14zM205.31 3381.47h7.14v3.57h-7.14zM223.15 3381.47h3.57v3.57h-3.57zM230.28 3381.47h24.97v3.57h-24.97zM258.82 3381.47h7.14v3.57h-7.14zM180.34 3385.04h14.27v3.57h-14.27zM205.31 3385.04h3.57v3.57h-3.57zM212.45 3385.04h3.57v3.57h-3.57zM219.58 3385.04h3.57v3.57h-3.57zM226.72 3385.04h3.57v3.57h-3.57zM255.26 3385.04h3.57v3.57h-3.57zM269.53 3385.04h3.57v3.57h-3.57zM287.36 3385.04h3.57v3.57h-3.57zM166.07 3388.61h3.57v3.57h-3.57zM187.47 3388.61h3.57v3.57h-3.57zM198.18 3388.61h3.57v3.57h-3.57zM205.31 3388.61h3.57v3.57h-3.57zM212.45 3388.61h3.57v3.57h-3.57zM219.58 3388.61h7.14v3.57h-7.14zM230.28 3388.61h3.57v3.57h-3.57zM240.99 3388.61h10.70v3.57h-10.70zM255.26 3388.61h7.14v3.57h-7.14zM269.53 3388.61h3.57v3.57h-3.57zM276.66 3388.61h3.57v3.57h-3.57zM283.80 3388.61h7.14v3.57h-7.14zM169.64 3392.18h3.57v3.57h-3.57zM176.77 3392.18h14.27v3.57h-14.27zM205.31 3392.18h21.41v3.57h-21.41zM230.28 3392.18h7.14v3.57h-7.14zM244.55 3392.18h10.70v3.57h-10.70zM258.82 3392.18h3.57v3.57h-3.57zM269.53 3392.18h3.57v3.57h-3.57zM276.66 3392.18h14.27v3.57h-14.27zM162.50 3395.74h10.70v3.57h-10.70zM176.77 3395.74h3.57v3.57h-3.57zM201.74 3395.74h17.84v3.57h-17.84zM223.15 3395.74h10.70v3.57h-10.70zM248.12 3395.74h3.57v3.57h-3.57zM258.82 3395.74h3.57v3.57h-3.57zM269.53 3395.74h7.14v3.57h-7.14zM283.80 3395.74h3.57v3.57h-3.57zM169.64 3399.31h3.57v3.57h-3.57zM176.77 3399.31h3.57v3.57h-3.57zM183.91 3399.31h3.57v3.57h-3.57zM198.18 3399.31h3.57v3.57h-3.57zM219.58 3399.31h3.57v3.57h-3.57zM230.28 3399.31h10.70v3.57h-10.70zM248.12 3399.31h7.14v3.57h-7.14zM258.82 3399.31h3.57v3.57h-3.57zM265.96 3399.31h7.14v3.57h-7.14zM276.66 3399.31h7.14v3.57h-7.14zM169.64 3402.88h3.57v3.57h-3.57zM176.77 3402.88h7.14v3.57h-7.14zM191.04 3402.88h3.57v3.57h-3.57zM212.45 3402.88h7.14v3.57h-7.14zM226.72 3402.88h3.57v3.57h-3.57zM244.55 3402.88h3.57v3.57h-3.57zM258.82 3402.88h3.57v3.57h-3.57zM269.53 3402.88h3.57v3.57h-3.57zM280.23 3402.88h3.57v3.57h-3.57zM287.36 3402.88h3.57v3.57h-3.57zM162.50 3406.45h3.57v3.57h-3.57zM173.20 3406.45h17.84v3.57h-17.84zM198.18 3406.45h10.70v3.57h-10.70zM216.01 3406.45h3.57v3.57h-3.57zM223.15 3406.45h10.70v3.57h-10.70zM237.42 3406.45h7.14v3.57h-7.14zM248.12 3406.45h3.57v3.57h-3.57zM255.26 3406.45h3.57v3.57h-3.57zM262.39 3406.45h7.14v3.57h-7.14zM273.09 3406.45h10.70v3.57h-10.70zM287.36 3406.45h7.14v3.57h-7.14zM187.47 3410.01h3.57v3.57h-3.57zM201.74 3410.01h7.14v3.57h-7.14zM212.45 3410.01h3.57v3.57h-3.57zM223.15 3410.01h7.14v3.57h-7.14zM233.85 3410.01h7.14v3.57h-7.14zM244.55 3410.01h3.57v3.57h-3.57zM251.69 3410.01h7.14v3.57h-7.14zM262.39 3410.01h7.14v3.57h-7.14zM280.23 3410.01h3.57v3.57h-3.57zM166.07 3413.58h14.27v3.57h-14.27zM183.91 3413.58h3.57v3.57h-3.57zM194.61 3413.58h10.70v3.57h-10.70zM216.01 3413.58h7.14v3.57h-7.14zM226.72 3413.58h3.57v3.57h-3.57zM233.85 3413.58h7.14v3.57h-7.14zM244.55 3413.58h3.57v3.57h-3.57zM251.69 3413.58h3.57v3.57h-3.57zM262.39 3413.58h7.14v3.57h-7.14zM273.09 3413.58h10.70v3.57h-10.70zM287.36 3413.58h3.57v3.57h-3.57zM176.77 3417.15h3.57v3.57h-3.57zM198.18 3417.15h3.57v3.57h-3.57zM216.01 3417.15h3.57v3.57h-3.57zM237.42 3417.15h3.57v3.57h-3.57zM244.55 3417.15h17.84v3.57h-17.84zM269.53 3417.15h3.57v3.57h-3.57zM280.23 3417.15h3.57v3.57h-3.57zM162.50 3420.72h3.57v3.57h-3.57zM183.91 3420.72h7.14v3.57h-7.14zM198.18 3420.72h24.97v3.57h-24.97zM251.69 3420.72h3.57v3.57h-3.57zM262.39 3420.72h3.57v3.57h-3.57zM269.53 3420.72h14.27v3.57h-14.27zM287.36 3420.72h3.57v3.57h-3.57zM162.50 3424.28h3.57v3.57h-3.57zM173.20 3424.28h7.14v3.57h-7.14zM191.04 3424.28h3.57v3.57h-3.57zM198.18 3424.28h17.84v3.57h-17.84zM219.58 3424.28h3.57v3.57h-3.57zM230.28 3424.28h3.57v3.57h-3.57zM240.99 3424.28h3.57v3.57h-3.57zM248.12 3424.28h7.14v3.57h-7.14zM258.82 3424.28h3.57v3.57h-3.57zM273.09 3424.28h3.57v3.57h-3.57zM287.36 3424.28h3.57v3.57h-3.57zM162.50 3427.85h10.70v3.57h-10.70zM176.77 3427.85h10.70v3.57h-10.70zM191.04 3427.85h7.14v3.57h-7.14zM201.74 3427.85h3.57v3.57h-3.57zM223.15 3427.85h7.14v3.57h-7.14zM240.99 3427.85h7.14v3.57h-7.14zM265.96 3427.85h7.14v3.57h-7.14zM283.80 3427.85h10.70v3.57h-10.70zM162.50 3431.42h3.57v3.57h-3.57zM169.64 3431.42h3.57v3.57h-3.57zM176.77 3431.42h7.14v3.57h-7.14zM198.18 3431.42h14.27v3.57h-14.27zM219.58 3431.42h7.14v3.57h-7.14zM237.42 3431.42h10.70v3.57h-10.70zM251.69 3431.42h3.57v3.57h-3.57zM262.39 3431.42h3.57v3.57h-3.57zM276.66 3431.42h10.70v3.57h-10.70zM290.93 3431.42h3.57v3.57h-3.57zM162.50 3434.99h3.57v3.57h-3.57zM169.64 3434.99h3.57v3.57h-3.57zM176.77 3434.99h3.57v3.57h-3.57zM183.91 3434.99h10.70v3.57h-10.70zM198.18 3434.99h7.14v3.57h-7.14zM212.45 3434.99h10.70v3.57h-10.70zM226.72 3434.99h7.14v3.57h-7.14zM251.69 3434.99h3.57v3.57h-3.57zM258.82 3434.99h10.70v3.57h-10.70zM276.66 3434.99h17.84v3.57h-17.84zM162.50 3438.55h7.14v3.57h-7.14zM191.04 3438.55h3.57v3.57h-3.57zM201.74 3438.55h7.14v3.57h-7.14zM230.28 3438.55h3.57v3.57h-3.57zM240.99 3438.55h7.14v3.57h-7.14zM255.26 3438.55h3.57v3.57h-3.57zM262.39 3438.55h3.57v3.57h-3.57zM273.09 3438.55h7.14v3.57h-7.14zM290.93 3438.55h3.57v3.57h-3.57zM162.50 3442.12h3.57v3.57h-3.57zM173.20 3442.12h3.57v3.57h-3.57zM183.91 3442.12h3.57v3.57h-3.57zM194.61 3442.12h3.57v3.57h-3.57zM237.42 3442.12h10.70v3.57h-10.70zM255.26 3442.12h17.84v3.57h-17.84zM276.66 3442.12h10.70v3.57h-10.70zM162.50 3445.69h10.70v3.57h-10.70zM180.34 3445.69h3.57v3.57h-3.57zM187.47 3445.69h14.27v3.57h-14.27zM208.88 3445.69h14.27v3.57h-14.27zM226.72 3445.69h3.57v3.57h-3.57zM237.42 3445.69h7.14v3.57h-7.14zM251.69 3445.69h3.57v3.57h-3.57zM262.39 3445.69h10.70v3.57h-10.70zM280.23 3445.69h3.57v3.57h-3.57zM290.93 3445.69h3.57v3.57h-3.57zM169.64 3449.26h17.84v3.57h-17.84zM198.18 3449.26h14.27v3.57h-14.27zM226.72 3449.26h3.57v3.57h-3.57zM233.85 3449.26h3.57v3.57h-3.57zM240.99 3449.26h3.57v3.57h-3.57zM255.26 3449.26h24.97v3.57h-24.97zM283.80 3449.26h10.70v3.57h-10.70zM173.20 3452.82h3.57v3.57h-3.57zM180.34 3452.82h3.57v3.57h-3.57zM191.04 3452.82h3.57v3.57h-3.57zM198.18 3452.82h3.57v3.57h-3.57zM208.88 3452.82h3.57v3.57h-3.57zM216.01 3452.82h17.84v3.57h-17.84zM237.42 3452.82h3.57v3.57h-3.57zM244.55 3452.82h14.27v3.57h-14.27zM269.53 3452.82h3.57v3.57h-3.57zM283.80 3452.82h7.14v3.57h-7.14zM162.50 3456.39h3.57v3.57h-3.57zM169.64 3456.39h7.14v3.57h-7.14zM183.91 3456.39h7.14v3.57h-7.14zM194.61 3456.39h7.14v3.57h-7.14zM205.31 3456.39h10.70v3.57h-10.70zM219.58 3456.39h7.14v3.57h-7.14zM230.28 3456.39h3.57v3.57h-3.57zM244.55 3456.39h3.57v3.57h-3.57zM251.69 3456.39h7.14v3.57h-7.14zM262.39 3456.39h3.57v3.57h-3.57zM269.53 3456.39h10.70v3.57h-10.70zM287.36 3456.39h7.14v3.57h-7.14zM198.18 3459.96h21.41v3.57h-21.41zM223.15 3459.96h3.57v3.57h-3.57zM240.99 3459.96h17.84v3.57h-17.84zM269.53 3459.96h7.14v3.57h-7.14zM162.50 3463.53h24.97v3.57h-24.97zM191.04 3463.53h10.70v3.57h-10.70zM205.31 3463.53h7.14v3.57h-7.14zM226.72 3463.53h3.57v3.57h-3.57zM240.99 3463.53h3.57v3.57h-3.57zM248.12 3463.53h3.57v3.57h-3.57zM255.26 3463.53h17.84v3.57h-17.84zM287.36 3463.53h3.57v3.57h-3.57zM162.50 3467.09h3.57v3.57h-3.57zM183.91 3467.09h3.57v3.57h-3.57zM194.61 3467.09h10.70v3.57h-10.70zM212.45 3467.09h3.57v3.57h-3.57zM219.58 3467.09h10.70v3.57h-10.70zM233.85 3467.09h3.57v3.57h-3.57zM251.69 3467.09h3.57v3.57h-3.57zM269.53 3467.09h3.57v3.57h-3.57zM276.66 3467.09h3.57v3.57h-3.57zM283.80 3467.09h3.57v3.57h-3.57zM162.50 3470.66h3.57v3.57h-3.57zM169.64 3470.66h10.70v3.57h-10.70zM183.91 3470.66h3.57v3.57h-3.57zM191.04 3470.66h3.57v3.57h-3.57zM198.18 3470.66h10.70v3.57h-10.70zM219.58 3470.66h3.57v3.57h-3.57zM230.28 3470.66h3.57v3.57h-3.57zM240.99 3470.66h17.84v3.57h-17.84zM262.39 3470.66h3.57v3.57h-3.57zM269.53 3470.66h3.57v3.57h-3.57zM276.66 3470.66h3.57v3.57h-3.57zM283.80 3470.66h3.57v3.57h-3.57zM290.93 3470.66h3.57v3.57h-3.57zM162.50 3474.23h3.57v3.57h-3.57zM169.64 3474.23h10.70v3.57h-10.70zM183.91 3474.23h3.57v3.57h-3.57zM198.18 3474.23h7.14v3.57h-7.14zM219.58 3474.23h3.57v3.57h-3.57zM233.85 3474.23h7.14v3.57h-7.14zM255.26 3474.23h3.57v3.57h-3.57zM262.39 3474.23h7.14v3.57h-7.14zM287.36 3474.23h3.57v3.57h-3.57zM162.50 3477.80h3.57v3.57h-3.57zM169.64 3477.80h10.70v3.57h-10.70zM183.91 3477.80h3.57v3.57h-3.57zM191.04 3477.80h10.70v3.57h-10.70zM205.31 3477.80h7.14v3.57h-7.14zM219.58 3477.80h17.84v3.57h-17.84zM251.69 3477.80h3.57v3.57h-3.57zM258.82 3477.80h3.57v3.57h-3.57zM273.09 3477.80h3.57v3.57h-3.57zM280.23 3477.80h3.57v3.57h-3.57zM290.93 3477.80h3.57v3.57h-3.57zM162.50 3481.36h3.57v3.57h-3.57zM183.91 3481.36h3.57v3.57h-3.57zM191.04 3481.36h14.27v3.57h-14.27zM212.45 3481.36h7.14v3.57h-7.14zM223.15 3481.36h7.14v3.57h-7.14zM233.85 3481.36h7.14v3.57h-7.14zM248.12 3481.36h10.70v3.57h-10.70zM265.96 3481.36h3.57v3.57h-3.57zM273.09 3481.36h10.70v3.57h-10.70zM290.93 3481.36h3.57v3.57h-3.57zM162.50 3484.93h24.97v3.57h-24.97zM194.61 3484.93h3.57v3.57h-3.57zM201.74 3484.93h7.14v3.57h-7.14zM212.45 3484.93h3.57v3.57h-3.57zM226.72 3484.93h3.57v3.57h-3.57zM237.42 3484.93h14.27v3.57h-14.27zM255.26 3484.93h10.70v3.57h-10.70zM273.09 3484.93h3.57v3.57h-3.57zM287.36 3484.93h7.14v3.57h-7.14z" fill="#000"/>
<rect x="211" y="3404.5" width="34.5" height="34.5" rx="4" fill="#fff"/>
<rect x="212.5" y="3406" width="31.5" height="31.5" rx="3" fill="#9aa4b0"/>
<rect x="212.5" y="3424" width="31.5" height="13.5" fill="#c8c8c4"/>
<ellipse cx="228" cy="3417" rx="5" ry="6" fill="#d8b8a0"/><path d="M219 3437.5 Q221 3424 228 3424 Q235 3424 237 3437.5Z" fill="#1e1e24"/>
<rect x="738.7" y="3352" width="143.8" height="140.6" fill="#fff"/>
<path d="M746.00 3359.00h24.41v3.49h-24.41zM784.35 3359.00h3.49v3.49h-3.49zM791.32 3359.00h3.49v3.49h-3.49zM798.30 3359.00h24.41v3.49h-24.41zM826.19 3359.00h3.49v3.49h-3.49zM836.65 3359.00h6.97v3.49h-6.97zM850.59 3359.00h24.41v3.49h-24.41zM746.00 3362.49h3.49v3.49h-3.49zM766.92 3362.49h3.49v3.49h-3.49zM787.84 3362.49h3.49v3.49h-3.49zM794.81 3362.49h3.49v3.49h-3.49zM805.27 3362.49h10.46v3.49h-10.46zM822.70 3362.49h3.49v3.49h-3.49zM829.68 3362.49h10.46v3.49h-10.46zM843.62 3362.49h3.49v3.49h-3.49zM850.59 3362.49h3.49v3.49h-3.49zM871.51 3362.49h3.49v3.49h-3.49zM746.00 3365.97h3.49v3.49h-3.49zM752.97 3365.97h10.46v3.49h-10.46zM766.92 3365.97h3.49v3.49h-3.49zM773.89 3365.97h13.95v3.49h-13.95zM794.81 3365.97h13.95v3.49h-13.95zM815.73 3365.97h6.97v3.49h-6.97zM833.16 3365.97h3.49v3.49h-3.49zM850.59 3365.97h3.49v3.49h-3.49zM857.57 3365.97h10.46v3.49h-10.46zM871.51 3365.97h3.49v3.49h-3.49zM746.00 3369.46h3.49v3.49h-3.49zM752.97 3369.46h10.46v3.49h-10.46zM766.92 3369.46h3.49v3.49h-3.49zM777.38 3369.46h3.49v3.49h-3.49zM784.35 3369.46h10.46v3.49h-10.46zM822.70 3369.46h3.49v3.49h-3.49zM829.68 3369.46h17.43v3.49h-17.43zM850.59 3369.46h3.49v3.49h-3.49zM857.57 3369.46h10.46v3.49h-10.46zM871.51 3369.46h3.49v3.49h-3.49zM746.00 3372.95h3.49v3.49h-3.49zM752.97 3372.95h10.46v3.49h-10.46zM766.92 3372.95h3.49v3.49h-3.49zM780.86 3372.95h6.97v3.49h-6.97zM791.32 3372.95h3.49v3.49h-3.49zM801.78 3372.95h6.97v3.49h-6.97zM812.24 3372.95h6.97v3.49h-6.97zM833.16 3372.95h3.49v3.49h-3.49zM850.59 3372.95h3.49v3.49h-3.49zM857.57 3372.95h10.46v3.49h-10.46zM871.51 3372.95h3.49v3.49h-3.49zM746.00 3376.43h3.49v3.49h-3.49zM766.92 3376.43h3.49v3.49h-3.49zM773.89 3376.43h10.46v3.49h-10.46zM798.30 3376.43h3.49v3.49h-3.49zM805.27 3376.43h3.49v3.49h-3.49zM815.73 3376.43h3.49v3.49h-3.49zM822.70 3376.43h3.49v3.49h-3.49zM833.16 3376.43h3.49v3.49h-3.49zM840.14 3376.43h6.97v3.49h-6.97zM850.59 3376.43h3.49v3.49h-3.49zM871.51 3376.43h3.49v3.49h-3.49zM746.00 3379.92h24.41v3.49h-24.41zM773.89 3379.92h3.49v3.49h-3.49zM780.86 3379.92h3.49v3.49h-3.49zM787.84 3379.92h3.49v3.49h-3.49zM794.81 3379.92h3.49v3.49h-3.49zM801.78 3379.92h3.49v3.49h-3.49zM808.76 3379.92h3.49v3.49h-3.49zM815.73 3379.92h3.49v3.49h-3.49zM822.70 3379.92h3.49v3.49h-3.49zM829.68 3379.92h3.49v3.49h-3.49zM836.65 3379.92h3.49v3.49h-3.49zM843.62 3379.92h3.49v3.49h-3.49zM850.59 3379.92h24.41v3.49h-24.41zM777.38 3383.41h6.97v3.49h-6.97zM787.84 3383.41h3.49v3.49h-3.49zM794.81 3383.41h3.49v3.49h-3.49zM801.78 3383.41h13.95v3.49h-13.95zM819.22 3383.41h3.49v3.49h-3.49zM836.65 3383.41h3.49v3.49h-3.49zM843.62 3383.41h3.49v3.49h-3.49zM752.97 3386.89h3.49v3.49h-3.49zM766.92 3386.89h17.43v3.49h-17.43zM787.84 3386.89h10.46v3.49h-10.46zM801.78 3386.89h3.49v3.49h-3.49zM808.76 3386.89h17.43v3.49h-17.43zM833.16 3386.89h10.46v3.49h-10.46zM847.11 3386.89h3.49v3.49h-3.49zM854.08 3386.89h3.49v3.49h-3.49zM861.05 3386.89h3.49v3.49h-3.49zM871.51 3386.89h3.49v3.49h-3.49zM749.49 3390.38h10.46v3.49h-10.46zM763.43 3390.38h3.49v3.49h-3.49zM773.89 3390.38h3.49v3.49h-3.49zM780.86 3390.38h6.97v3.49h-6.97zM794.81 3390.38h3.49v3.49h-3.49zM805.27 3390.38h6.97v3.49h-6.97zM815.73 3390.38h3.49v3.49h-3.49zM822.70 3390.38h3.49v3.49h-3.49zM847.11 3390.38h10.46v3.49h-10.46zM861.05 3390.38h10.46v3.49h-10.46zM752.97 3393.86h6.97v3.49h-6.97zM766.92 3393.86h3.49v3.49h-3.49zM773.89 3393.86h3.49v3.49h-3.49zM787.84 3393.86h6.97v3.49h-6.97zM801.78 3393.86h6.97v3.49h-6.97zM819.22 3393.86h17.43v3.49h-17.43zM843.62 3393.86h10.46v3.49h-10.46zM857.57 3393.86h6.97v3.49h-6.97zM752.97 3397.35h3.49v3.49h-3.49zM773.89 3397.35h6.97v3.49h-6.97zM784.35 3397.35h17.43v3.49h-17.43zM815.73 3397.35h6.97v3.49h-6.97zM826.19 3397.35h3.49v3.49h-3.49zM840.14 3397.35h13.95v3.49h-13.95zM857.57 3397.35h3.49v3.49h-3.49zM746.00 3400.84h6.97v3.49h-6.97zM756.46 3400.84h13.95v3.49h-13.95zM777.38 3400.84h3.49v3.49h-3.49zM784.35 3400.84h3.49v3.49h-3.49zM798.30 3400.84h3.49v3.49h-3.49zM812.24 3400.84h3.49v3.49h-3.49zM822.70 3400.84h3.49v3.49h-3.49zM829.68 3400.84h6.97v3.49h-6.97zM854.08 3400.84h3.49v3.49h-3.49zM871.51 3400.84h3.49v3.49h-3.49zM752.97 3404.32h3.49v3.49h-3.49zM759.95 3404.32h6.97v3.49h-6.97zM770.41 3404.32h3.49v3.49h-3.49zM777.38 3404.32h3.49v3.49h-3.49zM784.35 3404.32h3.49v3.49h-3.49zM808.76 3404.32h3.49v3.49h-3.49zM815.73 3404.32h3.49v3.49h-3.49zM829.68 3404.32h3.49v3.49h-3.49zM836.65 3404.32h6.97v3.49h-6.97zM854.08 3404.32h3.49v3.49h-3.49zM864.54 3404.32h6.97v3.49h-6.97zM752.97 3407.81h3.49v3.49h-3.49zM766.92 3407.81h3.49v3.49h-3.49zM787.84 3407.81h3.49v3.49h-3.49zM808.76 3407.81h3.49v3.49h-3.49zM815.73 3407.81h6.97v3.49h-6.97zM833.16 3407.81h10.46v3.49h-10.46zM847.11 3407.81h6.97v3.49h-6.97zM857.57 3407.81h6.97v3.49h-6.97zM749.49 3411.30h3.49v3.49h-3.49zM763.43 3411.30h3.49v3.49h-3.49zM770.41 3411.30h3.49v3.49h-3.49zM777.38 3411.30h3.49v3.49h-3.49zM784.35 3411.30h3.49v3.49h-3.49zM791.32 3411.30h13.95v3.49h-13.95zM808.76 3411.30h3.49v3.49h-3.49zM815.73 3411.30h3.49v3.49h-3.49zM822.70 3411.30h3.49v3.49h-3.49zM833.16 3411.30h3.49v3.49h-3.49zM847.11 3411.30h3.49v3.49h-3.49zM746.00 3414.78h6.97v3.49h-6.97zM766.92 3414.78h3.49v3.49h-3.49zM780.86 3414.78h3.49v3.49h-3.49zM791.32 3414.78h31.38v3.49h-31.38zM836.65 3414.78h6.97v3.49h-6.97zM847.11 3414.78h3.49v3.49h-3.49zM854.08 3414.78h3.49v3.49h-3.49zM861.05 3414.78h6.97v3.49h-6.97zM746.00 3418.27h3.49v3.49h-3.49zM770.41 3418.27h3.49v3.49h-3.49zM784.35 3418.27h3.49v3.49h-3.49zM798.30 3418.27h10.46v3.49h-10.46zM812.24 3418.27h17.43v3.49h-17.43zM833.16 3418.27h6.97v3.49h-6.97zM843.62 3418.27h3.49v3.49h-3.49zM854.08 3418.27h3.49v3.49h-3.49zM749.49 3421.76h3.49v3.49h-3.49zM766.92 3421.76h3.49v3.49h-3.49zM784.35 3421.76h6.97v3.49h-6.97zM801.78 3421.76h6.97v3.49h-6.97zM815.73 3421.76h6.97v3.49h-6.97zM829.68 3421.76h3.49v3.49h-3.49zM847.11 3421.76h3.49v3.49h-3.49zM854.08 3421.76h3.49v3.49h-3.49zM861.05 3421.76h3.49v3.49h-3.49zM868.03 3421.76h6.97v3.49h-6.97zM746.00 3425.24h10.46v3.49h-10.46zM763.43 3425.24h3.49v3.49h-3.49zM773.89 3425.24h6.97v3.49h-6.97zM784.35 3425.24h17.43v3.49h-17.43zM805.27 3425.24h3.49v3.49h-3.49zM812.24 3425.24h3.49v3.49h-3.49zM819.22 3425.24h6.97v3.49h-6.97zM829.68 3425.24h13.95v3.49h-13.95zM847.11 3425.24h3.49v3.49h-3.49zM854.08 3425.24h3.49v3.49h-3.49zM861.05 3425.24h13.95v3.49h-13.95zM746.00 3428.73h10.46v3.49h-10.46zM763.43 3428.73h6.97v3.49h-6.97zM777.38 3428.73h6.97v3.49h-6.97zM787.84 3428.73h3.49v3.49h-3.49zM801.78 3428.73h10.46v3.49h-10.46zM815.73 3428.73h3.49v3.49h-3.49zM843.62 3428.73h6.97v3.49h-6.97zM861.05 3428.73h3.49v3.49h-3.49zM871.51 3428.73h3.49v3.49h-3.49zM749.49 3432.22h6.97v3.49h-6.97zM759.95 3432.22h3.49v3.49h-3.49zM770.41 3432.22h3.49v3.49h-3.49zM784.35 3432.22h6.97v3.49h-6.97zM794.81 3432.22h13.95v3.49h-13.95zM812.24 3432.22h13.95v3.49h-13.95zM833.16 3432.22h3.49v3.49h-3.49zM840.14 3432.22h3.49v3.49h-3.49zM847.11 3432.22h3.49v3.49h-3.49zM857.57 3432.22h10.46v3.49h-10.46zM746.00 3435.70h3.49v3.49h-3.49zM763.43 3435.70h6.97v3.49h-6.97zM773.89 3435.70h6.97v3.49h-6.97zM784.35 3435.70h13.95v3.49h-13.95zM812.24 3435.70h3.49v3.49h-3.49zM826.19 3435.70h3.49v3.49h-3.49zM833.16 3435.70h6.97v3.49h-6.97zM850.59 3435.70h3.49v3.49h-3.49zM868.03 3435.70h3.49v3.49h-3.49zM746.00 3439.19h3.49v3.49h-3.49zM752.97 3439.19h3.49v3.49h-3.49zM763.43 3439.19h3.49v3.49h-3.49zM770.41 3439.19h6.97v3.49h-6.97zM784.35 3439.19h6.97v3.49h-6.97zM794.81 3439.19h3.49v3.49h-3.49zM801.78 3439.19h6.97v3.49h-6.97zM812.24 3439.19h6.97v3.49h-6.97zM826.19 3439.19h17.43v3.49h-17.43zM847.11 3439.19h3.49v3.49h-3.49zM854.08 3439.19h3.49v3.49h-3.49zM868.03 3439.19h3.49v3.49h-3.49zM746.00 3442.68h3.49v3.49h-3.49zM756.46 3442.68h3.49v3.49h-3.49zM763.43 3442.68h13.95v3.49h-13.95zM780.86 3442.68h3.49v3.49h-3.49zM787.84 3442.68h6.97v3.49h-6.97zM798.30 3442.68h6.97v3.49h-6.97zM812.24 3442.68h3.49v3.49h-3.49zM826.19 3442.68h6.97v3.49h-6.97zM843.62 3442.68h17.43v3.49h-17.43zM864.54 3442.68h10.46v3.49h-10.46zM752.97 3446.16h3.49v3.49h-3.49zM777.38 3446.16h13.95v3.49h-13.95zM798.30 3446.16h3.49v3.49h-3.49zM805.27 3446.16h13.95v3.49h-13.95zM822.70 3446.16h3.49v3.49h-3.49zM836.65 3446.16h3.49v3.49h-3.49zM843.62 3446.16h6.97v3.49h-6.97zM857.57 3446.16h3.49v3.49h-3.49zM871.51 3446.16h3.49v3.49h-3.49zM766.92 3449.65h6.97v3.49h-6.97zM777.38 3449.65h3.49v3.49h-3.49zM784.35 3449.65h3.49v3.49h-3.49zM791.32 3449.65h3.49v3.49h-3.49zM801.78 3449.65h3.49v3.49h-3.49zM808.76 3449.65h10.46v3.49h-10.46zM826.19 3449.65h3.49v3.49h-3.49zM836.65 3449.65h17.43v3.49h-17.43zM857.57 3449.65h3.49v3.49h-3.49zM746.00 3453.14h6.97v3.49h-6.97zM756.46 3453.14h10.46v3.49h-10.46zM770.41 3453.14h38.35v3.49h-38.35zM812.24 3453.14h10.46v3.49h-10.46zM829.68 3453.14h3.49v3.49h-3.49zM836.65 3453.14h3.49v3.49h-3.49zM850.59 3453.14h3.49v3.49h-3.49zM864.54 3453.14h6.97v3.49h-6.97zM746.00 3456.62h3.49v3.49h-3.49zM752.97 3456.62h3.49v3.49h-3.49zM763.43 3456.62h6.97v3.49h-6.97zM777.38 3456.62h6.97v3.49h-6.97zM787.84 3456.62h41.84v3.49h-41.84zM833.16 3456.62h6.97v3.49h-6.97zM843.62 3456.62h3.49v3.49h-3.49zM850.59 3456.62h6.97v3.49h-6.97zM864.54 3456.62h3.49v3.49h-3.49zM773.89 3460.11h3.49v3.49h-3.49zM780.86 3460.11h17.43v3.49h-17.43zM805.27 3460.11h3.49v3.49h-3.49zM812.24 3460.11h3.49v3.49h-3.49zM819.22 3460.11h3.49v3.49h-3.49zM826.19 3460.11h3.49v3.49h-3.49zM833.16 3460.11h6.97v3.49h-6.97zM850.59 3460.11h10.46v3.49h-10.46zM868.03 3460.11h6.97v3.49h-6.97zM746.00 3463.59h24.41v3.49h-24.41zM773.89 3463.59h20.92v3.49h-20.92zM805.27 3463.59h20.92v3.49h-20.92zM829.68 3463.59h3.49v3.49h-3.49zM836.65 3463.59h20.92v3.49h-20.92zM861.05 3463.59h3.49v3.49h-3.49zM871.51 3463.59h3.49v3.49h-3.49zM746.00 3467.08h3.49v3.49h-3.49zM766.92 3467.08h3.49v3.49h-3.49zM773.89 3467.08h3.49v3.49h-3.49zM780.86 3467.08h3.49v3.49h-3.49zM798.30 3467.08h3.49v3.49h-3.49zM805.27 3467.08h3.49v3.49h-3.49zM812.24 3467.08h3.49v3.49h-3.49zM819.22 3467.08h3.49v3.49h-3.49zM826.19 3467.08h6.97v3.49h-6.97zM836.65 3467.08h6.97v3.49h-6.97zM850.59 3467.08h3.49v3.49h-3.49zM857.57 3467.08h3.49v3.49h-3.49zM864.54 3467.08h6.97v3.49h-6.97zM746.00 3470.57h3.49v3.49h-3.49zM752.97 3470.57h10.46v3.49h-10.46zM766.92 3470.57h3.49v3.49h-3.49zM787.84 3470.57h3.49v3.49h-3.49zM794.81 3470.57h10.46v3.49h-10.46zM822.70 3470.57h3.49v3.49h-3.49zM833.16 3470.57h3.49v3.49h-3.49zM843.62 3470.57h3.49v3.49h-3.49zM850.59 3470.57h20.92v3.49h-20.92zM746.00 3474.05h3.49v3.49h-3.49zM752.97 3474.05h10.46v3.49h-10.46zM766.92 3474.05h3.49v3.49h-3.49zM780.86 3474.05h17.43v3.49h-17.43zM801.78 3474.05h3.49v3.49h-3.49zM808.76 3474.05h3.49v3.49h-3.49zM826.19 3474.05h10.46v3.49h-10.46zM847.11 3474.05h6.97v3.49h-6.97zM857.57 3474.05h3.49v3.49h-3.49zM871.51 3474.05h3.49v3.49h-3.49zM746.00 3477.54h3.49v3.49h-3.49zM752.97 3477.54h10.46v3.49h-10.46zM766.92 3477.54h3.49v3.49h-3.49zM777.38 3477.54h17.43v3.49h-17.43zM798.30 3477.54h6.97v3.49h-6.97zM812.24 3477.54h3.49v3.49h-3.49zM833.16 3477.54h13.95v3.49h-13.95zM854.08 3477.54h17.43v3.49h-17.43zM746.00 3481.03h3.49v3.49h-3.49zM766.92 3481.03h3.49v3.49h-3.49zM784.35 3481.03h6.97v3.49h-6.97zM798.30 3481.03h6.97v3.49h-6.97zM812.24 3481.03h10.46v3.49h-10.46zM829.68 3481.03h6.97v3.49h-6.97zM840.14 3481.03h6.97v3.49h-6.97zM854.08 3481.03h10.46v3.49h-10.46zM868.03 3481.03h6.97v3.49h-6.97zM746.00 3484.51h24.41v3.49h-24.41zM777.38 3484.51h13.95v3.49h-13.95zM798.30 3484.51h13.95v3.49h-13.95zM815.73 3484.51h3.49v3.49h-3.49zM822.70 3484.51h3.49v3.49h-3.49zM829.68 3484.51h10.46v3.49h-10.46zM843.62 3484.51h6.97v3.49h-6.97zM857.57 3484.51h3.49v3.49h-3.49zM864.54 3484.51h6.97v3.49h-6.97z" fill="#000"/>
<rect x="793" y="3405" width="36" height="36" rx="4" fill="#fff"/>
<rect x="794.5" y="3406.5" width="33" height="33" rx="3" fill="#6a5a58"/>
<ellipse cx="811" cy="3428" rx="11" ry="8" fill="#e8e4e0"/><ellipse cx="806" cy="3416" rx="6" ry="6" fill="#c8a898"/>
<text x="334" y="3391" font-size="23.5" fill="#ececf0" textLength="142" lengthAdjust="spacing">姓名：路华英</text>
<text x="334.5" y="3454" font-size="23.5" fill="#ececf0">电话：</text>
<text x="406.5" y="3452.7" font-size="24.5" fill="#ececf0" textLength="133" lengthAdjust="spacingAndGlyphs">15810922394</text>
<text x="912.5" y="3395.5" font-size="23.5" fill="#ececf0" textLength="142" lengthAdjust="spacing">姓名：宁书御</text>
<text x="913" y="3457.5" font-size="23.5" fill="#ececf0">电话：</text>
<text x="984.5" y="3457.2" font-size="24.5" fill="#ececf0" textLength="132" lengthAdjust="spacingAndGlyphs">13821118130</text>
</svg>

</body></html>
